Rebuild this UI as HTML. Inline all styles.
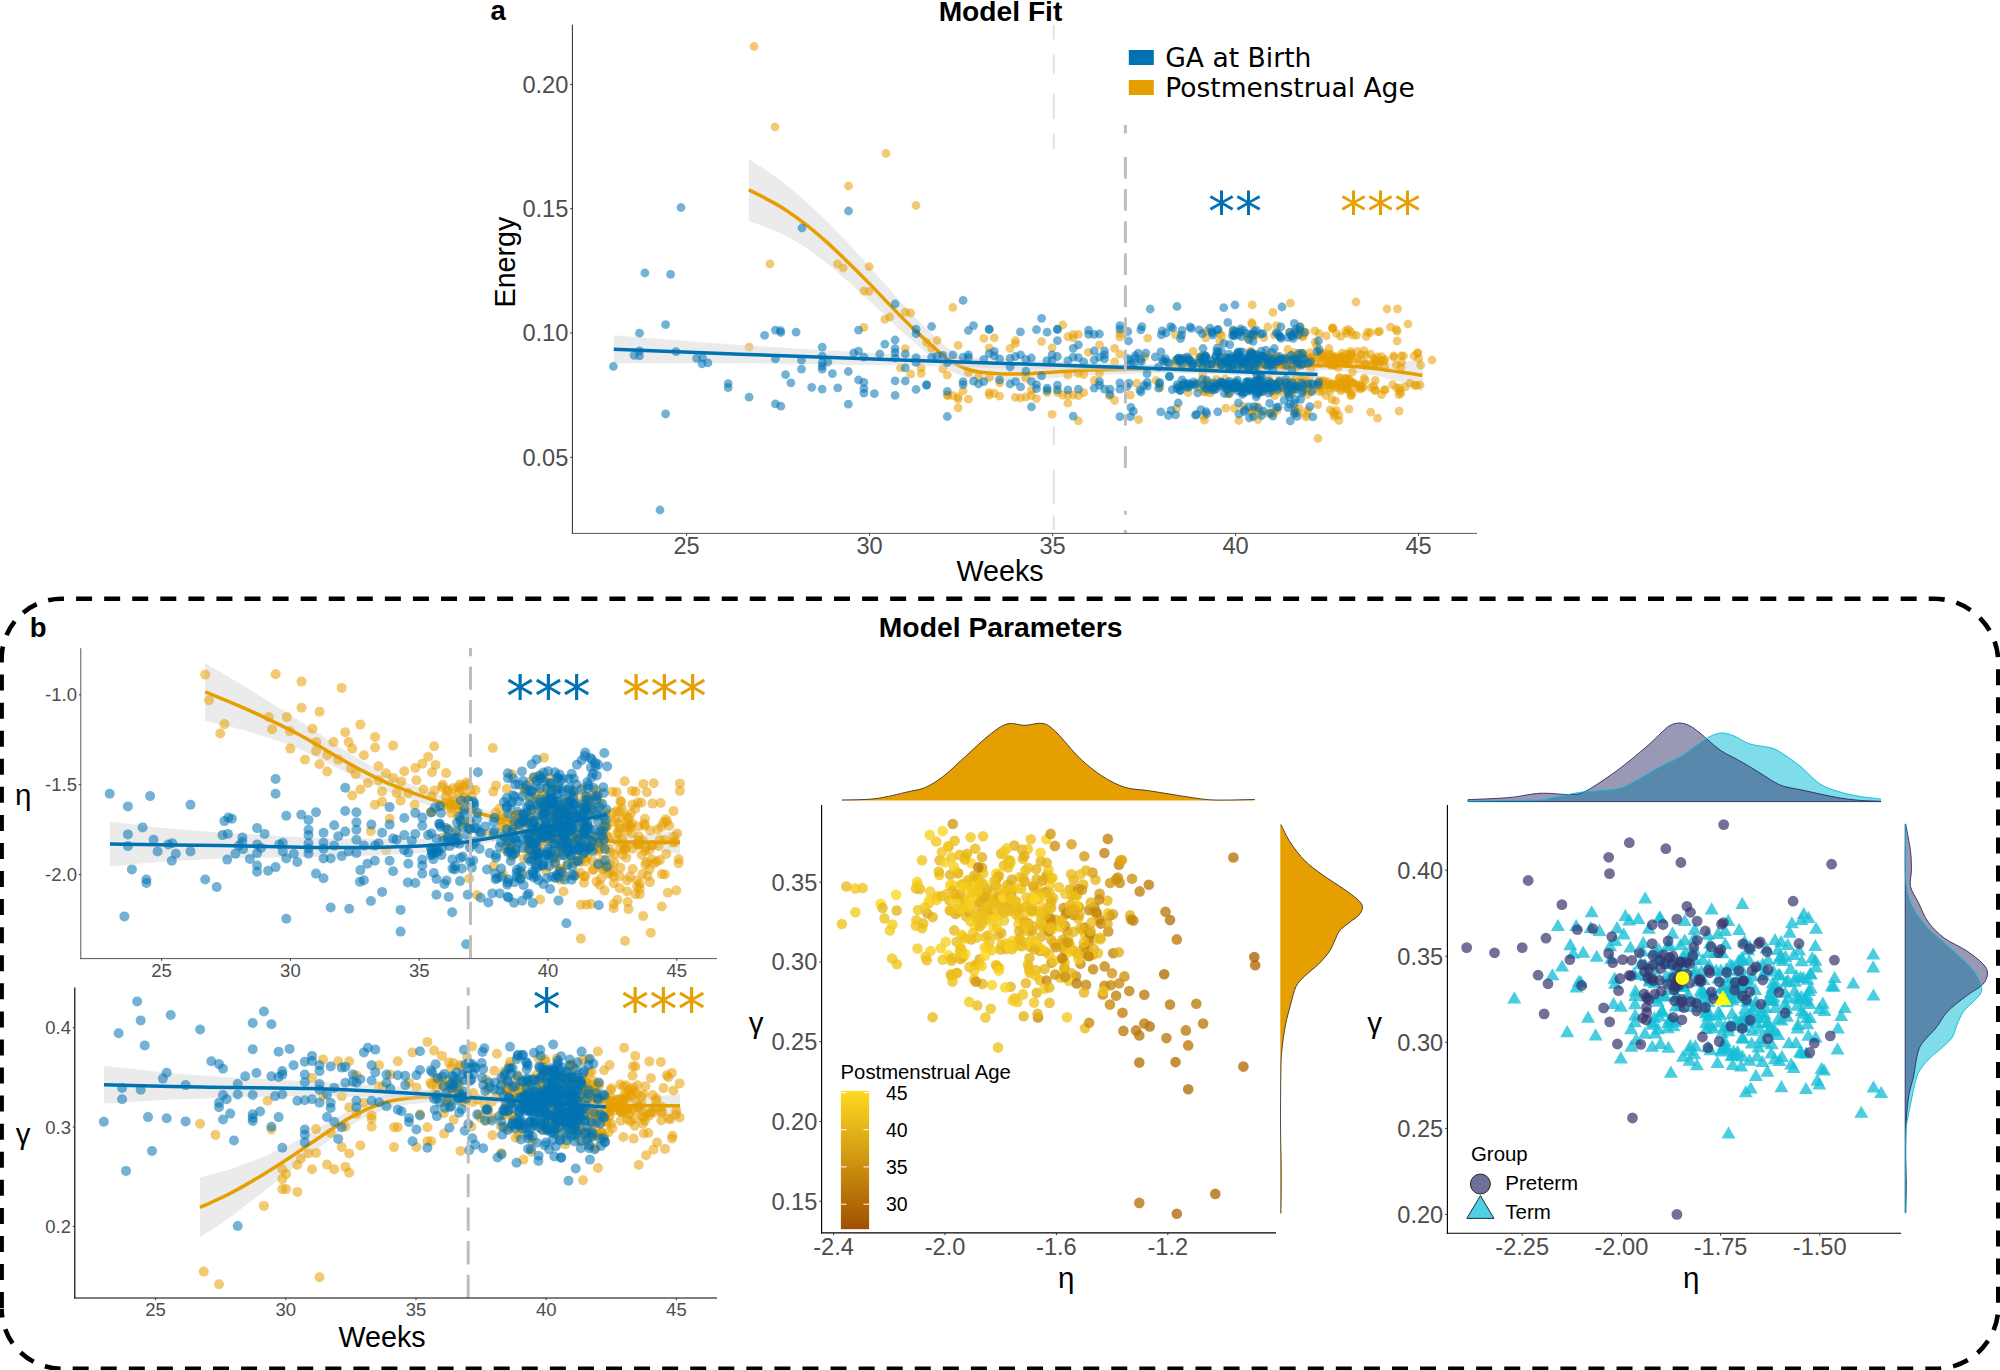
<!DOCTYPE html>
<html><head><meta charset="utf-8"><title>Model Fit and Model Parameters</title>
<style>
html,body{margin:0;padding:0;background:#fff;}
body{width:2000px;height:1370px;overflow:hidden;font-family:"Liberation Sans",sans-serif;}
svg{display:block;}
</style></head><body>
<svg width="2000" height="1370" viewBox="0 0 2000 1370">
<rect x="0" y="0" width="2000" height="1370" fill="#fff"/>
<g id="panel-a">
<text x="490.5" y="20.3" font-size="27.5" fill="#000" text-anchor="start" font-weight="bold" font-family="'Liberation Sans', sans-serif">a</text>
<text x="1000.5" y="21.0" font-size="28.2" fill="#000" text-anchor="middle" font-weight="bold" font-family="'Liberation Sans', sans-serif">Model Fit</text>
<path d="M748.8,158.9C750.7,160.1 756.4,163.8 760.2,166.3C764.0,168.8 767.8,171.4 771.6,174.1C775.4,176.7 779.2,179.2 783.1,182.2C786.9,185.1 790.7,188.5 794.5,191.8C798.3,195.0 802.1,198.1 805.9,201.5C809.7,204.9 813.5,208.6 817.3,212.2C821.1,215.8 824.9,219.3 828.7,223.1C832.5,226.9 836.3,231.0 840.1,235.0C844.0,238.9 847.8,242.9 851.6,247.0C855.4,251.0 859.2,255.2 863.0,259.4C866.8,263.6 870.6,267.8 874.4,272.0C878.2,276.3 882.0,280.8 885.8,285.1C889.6,289.4 893.4,293.7 897.2,297.9C901.0,302.1 904.9,306.3 908.7,310.4C912.5,314.4 916.3,318.4 920.1,322.2C923.9,326.0 927.7,329.7 931.5,333.3C935.3,336.9 939.1,340.7 942.9,343.9C946.7,347.2 950.5,350.3 954.3,352.9C958.1,355.4 961.9,357.5 965.8,359.3C969.6,361.0 973.4,362.2 977.2,363.2C981.0,364.1 984.8,364.5 988.6,365.1C992.4,365.6 996.2,366.0 1000.0,366.3C1003.8,366.7 1007.6,366.8 1011.4,366.9C1015.2,367.1 1019.0,367.3 1022.8,367.3C1026.7,367.4 1030.5,367.2 1034.3,367.1C1038.1,366.9 1041.9,366.8 1045.7,366.6C1049.5,366.5 1053.3,366.4 1057.1,366.2C1060.9,366.1 1064.7,365.9 1068.5,365.8C1072.3,365.7 1076.1,365.5 1079.9,365.4C1083.7,365.2 1087.6,365.1 1091.4,365.0C1095.2,364.9 1099.0,364.9 1102.8,364.9C1106.6,364.8 1110.4,364.8 1114.2,364.7C1118.0,364.7 1121.8,364.7 1125.6,364.6C1129.4,364.6 1133.2,364.5 1137.0,364.5C1140.8,364.4 1144.6,364.4 1148.5,364.4C1152.3,364.3 1156.1,364.3 1159.9,364.2C1163.7,364.2 1167.5,364.2 1171.3,364.1C1175.1,364.1 1178.9,364.0 1182.7,364.0C1186.5,363.9 1190.3,363.9 1194.1,363.9C1197.9,363.8 1201.7,363.7 1205.5,363.7C1209.4,363.6 1213.2,363.5 1217.0,363.4C1220.8,363.3 1224.6,363.2 1228.4,363.2C1232.2,363.1 1236.0,363.0 1239.8,362.9C1243.6,362.8 1247.4,362.7 1251.2,362.6C1255.0,362.6 1258.8,362.5 1262.6,362.4C1266.4,362.3 1270.3,362.2 1274.1,362.1C1277.9,362.1 1281.7,362.0 1285.5,361.9C1289.3,361.8 1293.1,361.8 1296.9,361.7C1300.7,361.6 1304.5,361.6 1308.3,361.5C1312.1,361.4 1315.9,361.3 1319.7,361.3C1323.5,361.2 1327.3,361.1 1331.2,361.1C1335.0,361.0 1338.8,361.1 1342.6,361.1C1346.4,361.2 1350.2,361.2 1354.0,361.3C1357.8,361.4 1361.6,361.4 1365.4,361.5C1369.2,361.6 1373.0,362.0 1376.8,362.1C1380.6,362.2 1384.4,362.2 1388.2,362.2C1392.1,362.2 1395.9,362.3 1399.7,362.0C1403.5,361.7 1407.3,361.0 1411.1,360.4C1414.9,359.9 1420.6,359.1 1422.5,358.8L1422.5,391.8C1420.6,391.0 1414.9,388.5 1411.1,386.8C1407.3,385.2 1403.5,383.3 1399.7,381.9C1395.9,380.5 1392.1,379.7 1388.2,378.7C1384.4,377.6 1380.6,376.5 1376.8,375.7C1373.0,374.9 1369.2,374.4 1365.4,373.9C1361.6,373.3 1357.8,372.9 1354.0,372.4C1350.2,371.9 1346.4,371.4 1342.6,371.0C1338.8,370.6 1335.0,370.2 1331.2,370.0C1327.3,369.9 1323.5,370.1 1319.7,370.2C1315.9,370.2 1312.1,370.2 1308.3,370.3C1304.5,370.3 1300.7,370.4 1296.9,370.4C1293.1,370.5 1289.3,370.5 1285.5,370.5C1281.7,370.6 1277.9,370.6 1274.1,370.7C1270.3,370.7 1266.4,370.8 1262.6,370.9C1258.8,370.9 1255.0,371.0 1251.2,371.0C1247.4,371.1 1243.6,371.1 1239.8,371.2C1236.0,371.3 1232.2,371.3 1228.4,371.4C1224.6,371.4 1220.8,371.5 1217.0,371.5C1213.2,371.6 1209.4,371.6 1205.5,371.7C1201.7,371.8 1197.9,371.9 1194.1,372.0C1190.3,372.1 1186.5,372.2 1182.7,372.3C1178.9,372.4 1175.1,372.5 1171.3,372.6C1167.5,372.7 1163.7,372.9 1159.9,373.0C1156.1,373.1 1152.3,373.2 1148.5,373.3C1144.6,373.4 1140.8,373.5 1137.0,373.6C1133.2,373.7 1129.4,373.9 1125.6,374.0C1121.8,374.1 1118.0,374.2 1114.2,374.3C1110.4,374.4 1106.6,374.5 1102.8,374.6C1099.0,374.7 1095.2,374.8 1091.4,375.0C1087.6,375.2 1083.7,375.5 1079.9,375.8C1076.1,376.1 1072.3,376.5 1068.5,376.8C1064.7,377.1 1060.9,377.4 1057.1,377.7C1053.3,378.0 1049.5,378.4 1045.7,378.7C1041.9,379.0 1038.1,379.3 1034.3,379.6C1030.5,379.9 1026.7,380.3 1022.8,380.5C1019.0,380.7 1015.2,380.8 1011.4,380.9C1007.6,380.9 1003.8,381.1 1000.0,381.0C996.2,381.0 992.4,380.8 988.6,380.5C984.8,380.3 981.0,380.2 977.2,379.7C973.4,379.2 969.6,378.5 965.8,377.3C961.9,376.2 958.1,374.6 954.3,372.7C950.5,370.8 946.7,368.5 942.9,365.9C939.1,363.3 935.3,360.1 931.5,357.0C927.7,354.0 923.9,350.8 920.1,347.6C916.3,344.3 912.5,341.0 908.7,337.6C904.9,334.2 901.0,330.7 897.2,327.2C893.4,323.7 889.6,320.0 885.8,316.4C882.0,312.8 878.2,309.1 874.4,305.5C870.6,301.9 866.8,298.4 863.0,295.0C859.2,291.5 855.4,288.0 851.6,284.6C847.8,281.2 844.0,278.0 840.1,274.7C836.3,271.4 832.5,268.0 828.7,264.9C824.9,261.8 821.1,259.0 817.3,256.1C813.5,253.2 809.7,250.0 805.9,247.4C802.1,244.9 798.3,243.0 794.5,240.8C790.7,238.7 786.9,236.3 783.1,234.4C779.2,232.5 775.4,231.1 771.6,229.5C767.8,228.0 764.0,226.5 760.2,225.0C756.4,223.6 750.7,221.6 748.8,220.9Z" fill="#D3D3D3" fill-opacity="0.45"/>
<g fill="#E69F00" fill-opacity="0.55"><circle cx="1311.2" cy="357.2" r="4.4"/><circle cx="1403.4" cy="355.9" r="4.4"/><circle cx="1394.0" cy="357.1" r="4.4"/><circle cx="1273.3" cy="412.7" r="4.4"/><circle cx="1288.1" cy="392.4" r="4.4"/><circle cx="1272.1" cy="383.1" r="4.4"/><circle cx="1348.4" cy="379.4" r="4.4"/><circle cx="1304.9" cy="376.7" r="4.4"/><circle cx="1360.7" cy="386.2" r="4.4"/><circle cx="1180.3" cy="359.8" r="4.4"/><circle cx="1417.7" cy="352.8" r="4.4"/><circle cx="1302.1" cy="379.2" r="4.4"/><circle cx="1356.1" cy="384.4" r="4.4"/><circle cx="1299.3" cy="408.7" r="4.4"/><circle cx="1282.4" cy="363.3" r="4.4"/><circle cx="1341.0" cy="383.3" r="4.4"/><circle cx="1366.1" cy="363.6" r="4.4"/><circle cx="1294.7" cy="412.8" r="4.4"/><circle cx="1298.2" cy="412.7" r="4.4"/><circle cx="1356.5" cy="335.3" r="4.4"/><circle cx="1248.3" cy="369.6" r="4.4"/><circle cx="1203.5" cy="416.0" r="4.4"/><circle cx="1336.3" cy="410.5" r="4.4"/><circle cx="1262.2" cy="386.3" r="4.4"/><circle cx="1175.3" cy="334.9" r="4.4"/><circle cx="1252.2" cy="304.9" r="4.4"/><circle cx="1276.3" cy="356.4" r="4.4"/><circle cx="1225.8" cy="408.1" r="4.4"/><circle cx="1205.0" cy="389.8" r="4.4"/><circle cx="1311.3" cy="359.6" r="4.4"/><circle cx="1371.2" cy="387.6" r="4.4"/><circle cx="1292.6" cy="390.2" r="4.4"/><circle cx="1257.1" cy="366.7" r="4.4"/><circle cx="1335.6" cy="386.5" r="4.4"/><circle cx="1358.7" cy="363.8" r="4.4"/><circle cx="1287.9" cy="349.5" r="4.4"/><circle cx="1346.7" cy="333.5" r="4.4"/><circle cx="1381.3" cy="360.7" r="4.4"/><circle cx="1294.4" cy="361.6" r="4.4"/><circle cx="1252.2" cy="324.2" r="4.4"/><circle cx="1333.0" cy="364.1" r="4.4"/><circle cx="1326.0" cy="360.4" r="4.4"/><circle cx="1385.2" cy="389.7" r="4.4"/><circle cx="1219.5" cy="333.7" r="4.4"/><circle cx="1262.8" cy="359.8" r="4.4"/><circle cx="1250.5" cy="354.5" r="4.4"/><circle cx="1188.2" cy="392.7" r="4.4"/><circle cx="1317.6" cy="386.1" r="4.4"/><circle cx="1345.5" cy="378.4" r="4.4"/><circle cx="1257.4" cy="388.4" r="4.4"/><circle cx="1405.2" cy="386.9" r="4.4"/><circle cx="1366.0" cy="363.9" r="4.4"/><circle cx="1352.4" cy="372.0" r="4.4"/><circle cx="1336.7" cy="360.2" r="4.4"/><circle cx="1375.3" cy="380.5" r="4.4"/><circle cx="1216.2" cy="361.9" r="4.4"/><circle cx="1351.5" cy="394.8" r="4.4"/><circle cx="1350.7" cy="331.8" r="4.4"/><circle cx="1185.9" cy="359.3" r="4.4"/><circle cx="1332.9" cy="328.4" r="4.4"/><circle cx="1291.4" cy="355.4" r="4.4"/><circle cx="1363.1" cy="387.3" r="4.4"/><circle cx="1278.3" cy="357.8" r="4.4"/><circle cx="1307.5" cy="394.5" r="4.4"/><circle cx="1332.6" cy="327.8" r="4.4"/><circle cx="1247.9" cy="358.8" r="4.4"/><circle cx="1350.4" cy="354.6" r="4.4"/><circle cx="1301.5" cy="354.7" r="4.4"/><circle cx="1343.0" cy="361.0" r="4.4"/><circle cx="1272.5" cy="386.7" r="4.4"/><circle cx="1384.3" cy="390.2" r="4.4"/><circle cx="1350.9" cy="395.8" r="4.4"/><circle cx="1296.4" cy="333.7" r="4.4"/><circle cx="1352.7" cy="359.0" r="4.4"/><circle cx="1396.4" cy="364.8" r="4.4"/><circle cx="1199.4" cy="382.7" r="4.4"/><circle cx="1370.2" cy="332.6" r="4.4"/><circle cx="1341.1" cy="383.9" r="4.4"/><circle cx="1302.3" cy="363.3" r="4.4"/><circle cx="1238.8" cy="420.5" r="4.4"/><circle cx="1396.2" cy="329.4" r="4.4"/><circle cx="1221.1" cy="356.8" r="4.4"/><circle cx="1348.2" cy="360.2" r="4.4"/><circle cx="1399.3" cy="388.0" r="4.4"/><circle cx="1197.6" cy="387.3" r="4.4"/><circle cx="1287.8" cy="360.3" r="4.4"/><circle cx="1217.8" cy="362.1" r="4.4"/><circle cx="1325.8" cy="395.5" r="4.4"/><circle cx="1414.1" cy="356.0" r="4.4"/><circle cx="1185.1" cy="366.7" r="4.4"/><circle cx="1268.8" cy="413.7" r="4.4"/><circle cx="1357.7" cy="387.5" r="4.4"/><circle cx="1418.6" cy="358.4" r="4.4"/><circle cx="1338.1" cy="367.3" r="4.4"/><circle cx="1256.9" cy="406.4" r="4.4"/><circle cx="1329.5" cy="356.6" r="4.4"/><circle cx="1307.6" cy="382.4" r="4.4"/><circle cx="1294.6" cy="380.0" r="4.4"/><circle cx="1257.7" cy="389.8" r="4.4"/><circle cx="1335.7" cy="400.8" r="4.4"/><circle cx="1330.2" cy="384.4" r="4.4"/><circle cx="1302.3" cy="353.5" r="4.4"/><circle cx="1293.4" cy="380.5" r="4.4"/><circle cx="1219.4" cy="362.2" r="4.4"/><circle cx="1275.0" cy="386.4" r="4.4"/><circle cx="1392.7" cy="384.6" r="4.4"/><circle cx="1295.5" cy="368.2" r="4.4"/><circle cx="1208.7" cy="389.1" r="4.4"/><circle cx="1401.6" cy="362.6" r="4.4"/><circle cx="1345.7" cy="378.5" r="4.4"/><circle cx="1313.1" cy="389.1" r="4.4"/><circle cx="1276.7" cy="325.6" r="4.4"/><circle cx="1208.1" cy="385.9" r="4.4"/><circle cx="1400.9" cy="367.5" r="4.4"/><circle cx="1251.7" cy="322.5" r="4.4"/><circle cx="1263.8" cy="337.6" r="4.4"/><circle cx="1350.3" cy="356.7" r="4.4"/><circle cx="1251.1" cy="351.5" r="4.4"/><circle cx="1290.0" cy="362.1" r="4.4"/><circle cx="1284.5" cy="365.4" r="4.4"/><circle cx="1322.1" cy="381.0" r="4.4"/><circle cx="1384.9" cy="359.3" r="4.4"/><circle cx="1310.3" cy="391.7" r="4.4"/><circle cx="1372.7" cy="364.7" r="4.4"/><circle cx="1279.6" cy="387.8" r="4.4"/><circle cx="1331.6" cy="355.0" r="4.4"/><circle cx="1160.1" cy="387.3" r="4.4"/><circle cx="1208.0" cy="382.9" r="4.4"/><circle cx="1364.1" cy="378.1" r="4.4"/><circle cx="1267.8" cy="327.0" r="4.4"/><circle cx="1349.1" cy="379.2" r="4.4"/><circle cx="1346.5" cy="353.8" r="4.4"/><circle cx="1400.8" cy="393.5" r="4.4"/><circle cx="1365.3" cy="380.2" r="4.4"/><circle cx="1379.5" cy="331.4" r="4.4"/><circle cx="1301.0" cy="333.6" r="4.4"/><circle cx="1260.2" cy="391.1" r="4.4"/><circle cx="1257.9" cy="419.6" r="4.4"/><circle cx="1274.9" cy="391.2" r="4.4"/><circle cx="1230.2" cy="359.7" r="4.4"/><circle cx="1270.7" cy="391.5" r="4.4"/><circle cx="1302.4" cy="336.9" r="4.4"/><circle cx="1326.3" cy="335.9" r="4.4"/><circle cx="1285.2" cy="382.8" r="4.4"/><circle cx="1175.0" cy="361.0" r="4.4"/><circle cx="1303.8" cy="386.6" r="4.4"/><circle cx="1324.5" cy="353.3" r="4.4"/><circle cx="1384.2" cy="361.1" r="4.4"/><circle cx="1349.0" cy="409.2" r="4.4"/><circle cx="1264.0" cy="364.6" r="4.4"/><circle cx="1258.5" cy="358.0" r="4.4"/><circle cx="1361.4" cy="385.4" r="4.4"/><circle cx="1251.9" cy="411.2" r="4.4"/><circle cx="1335.6" cy="361.8" r="4.4"/><circle cx="1340.7" cy="390.8" r="4.4"/><circle cx="1347.7" cy="361.0" r="4.4"/><circle cx="1346.5" cy="361.8" r="4.4"/><circle cx="1322.9" cy="354.7" r="4.4"/><circle cx="1320.9" cy="355.3" r="4.4"/><circle cx="1204.3" cy="391.6" r="4.4"/><circle cx="1297.3" cy="356.6" r="4.4"/><circle cx="1256.8" cy="361.9" r="4.4"/><circle cx="1317.6" cy="383.8" r="4.4"/><circle cx="1276.3" cy="388.2" r="4.4"/><circle cx="1351.8" cy="392.9" r="4.4"/><circle cx="1365.8" cy="354.8" r="4.4"/><circle cx="1330.3" cy="409.9" r="4.4"/><circle cx="1330.8" cy="365.4" r="4.4"/><circle cx="1315.3" cy="341.9" r="4.4"/><circle cx="1277.7" cy="388.5" r="4.4"/><circle cx="1297.4" cy="365.2" r="4.4"/><circle cx="1274.3" cy="361.3" r="4.4"/><circle cx="1335.8" cy="356.7" r="4.4"/><circle cx="1309.8" cy="352.7" r="4.4"/><circle cx="1349.2" cy="361.3" r="4.4"/><circle cx="1216.4" cy="379.4" r="4.4"/><circle cx="1370.5" cy="354.1" r="4.4"/><circle cx="1255.8" cy="335.1" r="4.4"/><circle cx="1257.7" cy="367.5" r="4.4"/><circle cx="1295.1" cy="408.0" r="4.4"/><circle cx="1269.6" cy="356.7" r="4.4"/><circle cx="1329.0" cy="348.5" r="4.4"/><circle cx="1268.9" cy="379.2" r="4.4"/><circle cx="1234.4" cy="408.3" r="4.4"/><circle cx="1250.0" cy="351.6" r="4.4"/><circle cx="1400.0" cy="390.9" r="4.4"/><circle cx="1311.9" cy="358.7" r="4.4"/><circle cx="1227.6" cy="360.9" r="4.4"/><circle cx="1309.4" cy="377.7" r="4.4"/><circle cx="1200.6" cy="356.9" r="4.4"/><circle cx="1202.8" cy="374.0" r="4.4"/><circle cx="1342.1" cy="353.1" r="4.4"/><circle cx="1346.6" cy="363.9" r="4.4"/><circle cx="1208.0" cy="382.2" r="4.4"/><circle cx="1329.7" cy="388.2" r="4.4"/><circle cx="1378.1" cy="331.8" r="4.4"/><circle cx="1341.3" cy="356.5" r="4.4"/><circle cx="1327.0" cy="385.0" r="4.4"/><circle cx="1374.8" cy="390.4" r="4.4"/><circle cx="1320.0" cy="352.9" r="4.4"/><circle cx="1332.2" cy="384.0" r="4.4"/><circle cx="1300.0" cy="359.6" r="4.4"/><circle cx="1352.7" cy="382.5" r="4.4"/><circle cx="1243.3" cy="388.4" r="4.4"/><circle cx="1363.9" cy="350.6" r="4.4"/><circle cx="1273.7" cy="358.5" r="4.4"/><circle cx="1233.0" cy="331.2" r="4.4"/><circle cx="1334.2" cy="384.2" r="4.4"/><circle cx="1375.7" cy="390.2" r="4.4"/><circle cx="1272.9" cy="312.4" r="4.4"/><circle cx="1357.3" cy="358.5" r="4.4"/><circle cx="1277.2" cy="410.3" r="4.4"/><circle cx="1300.2" cy="326.6" r="4.4"/><circle cx="1315.0" cy="330.8" r="4.4"/><circle cx="1147.7" cy="338.1" r="4.4"/><circle cx="1322.1" cy="357.0" r="4.4"/><circle cx="1237.2" cy="355.6" r="4.4"/><circle cx="1260.3" cy="381.1" r="4.4"/><circle cx="1206.3" cy="331.3" r="4.4"/><circle cx="1203.3" cy="365.3" r="4.4"/><circle cx="1243.2" cy="406.5" r="4.4"/><circle cx="1366.2" cy="336.4" r="4.4"/><circle cx="1307.0" cy="356.8" r="4.4"/><circle cx="1384.7" cy="366.9" r="4.4"/><circle cx="1290.4" cy="303.2" r="4.4"/><circle cx="1175.8" cy="363.2" r="4.4"/><circle cx="1319.2" cy="380.7" r="4.4"/><circle cx="1339.8" cy="377.5" r="4.4"/><circle cx="1279.0" cy="380.3" r="4.4"/><circle cx="1329.8" cy="391.4" r="4.4"/><circle cx="1348.6" cy="390.3" r="4.4"/><circle cx="1248.8" cy="337.0" r="4.4"/><circle cx="1206.1" cy="382.7" r="4.4"/><circle cx="1293.4" cy="384.2" r="4.4"/><circle cx="1294.1" cy="358.8" r="4.4"/><circle cx="1284.3" cy="358.1" r="4.4"/><circle cx="1377.5" cy="356.8" r="4.4"/><circle cx="1279.8" cy="382.8" r="4.4"/><circle cx="1357.4" cy="351.5" r="4.4"/><circle cx="1374.2" cy="359.8" r="4.4"/><circle cx="1358.4" cy="384.9" r="4.4"/><circle cx="1381.6" cy="394.6" r="4.4"/><circle cx="1281.7" cy="392.1" r="4.4"/><circle cx="1360.2" cy="389.2" r="4.4"/><circle cx="1364.7" cy="365.1" r="4.4"/><circle cx="1265.7" cy="358.5" r="4.4"/><circle cx="1351.1" cy="354.6" r="4.4"/><circle cx="1396.6" cy="388.0" r="4.4"/><circle cx="1334.5" cy="414.3" r="4.4"/><circle cx="1269.6" cy="362.0" r="4.4"/><circle cx="1416.1" cy="385.3" r="4.4"/><circle cx="1221.9" cy="335.5" r="4.4"/><circle cx="1343.8" cy="357.6" r="4.4"/><circle cx="1307.7" cy="410.6" r="4.4"/><circle cx="1225.8" cy="357.9" r="4.4"/><circle cx="1393.6" cy="356.0" r="4.4"/><circle cx="1333.0" cy="411.9" r="4.4"/><circle cx="1227.7" cy="385.3" r="4.4"/><circle cx="1350.6" cy="351.3" r="4.4"/><circle cx="1278.8" cy="386.2" r="4.4"/><circle cx="1176.5" cy="408.3" r="4.4"/><circle cx="1260.9" cy="411.8" r="4.4"/><circle cx="1327.1" cy="361.8" r="4.4"/><circle cx="1353.0" cy="335.2" r="4.4"/><circle cx="1320.3" cy="363.5" r="4.4"/><circle cx="1311.9" cy="359.5" r="4.4"/><circle cx="1341.5" cy="388.8" r="4.4"/><circle cx="1294.1" cy="388.0" r="4.4"/><circle cx="1390.6" cy="327.2" r="4.4"/><circle cx="1319.1" cy="333.6" r="4.4"/><circle cx="1329.2" cy="354.2" r="4.4"/><circle cx="1346.4" cy="384.7" r="4.4"/><circle cx="1235.3" cy="381.9" r="4.4"/><circle cx="1259.5" cy="362.5" r="4.4"/><circle cx="1415.1" cy="385.3" r="4.4"/><circle cx="1332.1" cy="399.6" r="4.4"/><circle cx="1289.1" cy="382.1" r="4.4"/><circle cx="1332.5" cy="328.3" r="4.4"/><circle cx="1275.3" cy="384.9" r="4.4"/><circle cx="1328.2" cy="381.9" r="4.4"/><circle cx="1262.5" cy="391.5" r="4.4"/><circle cx="1328.0" cy="363.6" r="4.4"/><circle cx="1199.1" cy="357.6" r="4.4"/><circle cx="1401.4" cy="355.8" r="4.4"/><circle cx="1273.1" cy="361.6" r="4.4"/><circle cx="1198.8" cy="360.5" r="4.4"/><circle cx="1293.2" cy="387.7" r="4.4"/><circle cx="1283.0" cy="386.9" r="4.4"/><circle cx="1319.4" cy="391.7" r="4.4"/><circle cx="1229.2" cy="392.8" r="4.4"/><circle cx="1336.4" cy="333.4" r="4.4"/><circle cx="1219.9" cy="341.3" r="4.4"/><circle cx="1332.3" cy="364.3" r="4.4"/><circle cx="1287.2" cy="389.1" r="4.4"/><circle cx="1322.2" cy="391.0" r="4.4"/><circle cx="1182.8" cy="384.9" r="4.4"/><circle cx="1228.8" cy="388.1" r="4.4"/><circle cx="1340.8" cy="386.4" r="4.4"/><circle cx="1306.1" cy="416.9" r="4.4"/><circle cx="1259.8" cy="389.5" r="4.4"/><circle cx="1320.9" cy="383.6" r="4.4"/><circle cx="1255.6" cy="410.4" r="4.4"/><circle cx="1245.9" cy="388.3" r="4.4"/><circle cx="1306.4" cy="384.3" r="4.4"/><circle cx="1305.7" cy="332.2" r="4.4"/><circle cx="1367.5" cy="332.4" r="4.4"/><circle cx="1317.8" cy="404.6" r="4.4"/><circle cx="1256.2" cy="361.6" r="4.4"/><circle cx="1323.5" cy="357.7" r="4.4"/><circle cx="1397.2" cy="331.1" r="4.4"/><circle cx="1298.9" cy="387.2" r="4.4"/><circle cx="1247.9" cy="338.6" r="4.4"/><circle cx="1352.1" cy="382.8" r="4.4"/><circle cx="1296.8" cy="358.5" r="4.4"/><circle cx="1373.6" cy="385.9" r="4.4"/><circle cx="1370.7" cy="412.1" r="4.4"/><circle cx="1321.8" cy="386.0" r="4.4"/><circle cx="1306.0" cy="364.0" r="4.4"/><circle cx="1332.5" cy="384.7" r="4.4"/><circle cx="1398.9" cy="394.6" r="4.4"/><circle cx="1346.0" cy="386.3" r="4.4"/><circle cx="1284.4" cy="366.9" r="4.4"/><circle cx="1397.5" cy="308.8" r="4.4"/><circle cx="1322.2" cy="382.8" r="4.4"/><circle cx="1303.4" cy="387.4" r="4.4"/><circle cx="1253.8" cy="335.5" r="4.4"/><circle cx="1269.4" cy="357.4" r="4.4"/><circle cx="1264.6" cy="387.4" r="4.4"/><circle cx="1379.5" cy="361.8" r="4.4"/><circle cx="1348.2" cy="388.0" r="4.4"/><circle cx="1293.9" cy="352.7" r="4.4"/><circle cx="1381.5" cy="356.7" r="4.4"/><circle cx="1339.3" cy="357.6" r="4.4"/><circle cx="1334.6" cy="365.5" r="4.4"/><circle cx="1136.7" cy="383.3" r="4.4"/><circle cx="1292.6" cy="392.3" r="4.4"/><circle cx="1345.8" cy="331.0" r="4.4"/><circle cx="1420.7" cy="365.1" r="4.4"/><circle cx="1408.0" cy="324.0" r="4.4"/><circle cx="1228.0" cy="394.2" r="4.4"/><circle cx="1156.0" cy="380.5" r="4.4"/><circle cx="1348.5" cy="329.5" r="4.4"/><circle cx="1310.7" cy="368.3" r="4.4"/><circle cx="1375.7" cy="361.0" r="4.4"/><circle cx="1300.0" cy="353.1" r="4.4"/><circle cx="1324.1" cy="380.9" r="4.4"/><circle cx="1204.5" cy="420.2" r="4.4"/><circle cx="1340.0" cy="362.3" r="4.4"/><circle cx="1277.9" cy="365.4" r="4.4"/><circle cx="1333.1" cy="364.7" r="4.4"/><circle cx="1340.7" cy="336.3" r="4.4"/><circle cx="1300.6" cy="377.5" r="4.4"/><circle cx="1330.8" cy="359.3" r="4.4"/><circle cx="1307.9" cy="387.3" r="4.4"/><circle cx="1361.6" cy="387.8" r="4.4"/><circle cx="1343.7" cy="356.8" r="4.4"/><circle cx="1270.7" cy="383.0" r="4.4"/><circle cx="1267.9" cy="364.2" r="4.4"/><circle cx="1301.7" cy="379.3" r="4.4"/><circle cx="1377.8" cy="365.0" r="4.4"/><circle cx="1336.2" cy="387.6" r="4.4"/><circle cx="1269.6" cy="384.1" r="4.4"/><circle cx="1256.7" cy="378.2" r="4.4"/><circle cx="1317.2" cy="361.5" r="4.4"/><circle cx="1326.6" cy="384.9" r="4.4"/><circle cx="1351.5" cy="353.8" r="4.4"/><circle cx="1220.7" cy="383.3" r="4.4"/><circle cx="1267.4" cy="354.6" r="4.4"/><circle cx="1302.2" cy="355.0" r="4.4"/><circle cx="1420.1" cy="385.0" r="4.4"/><circle cx="1144.7" cy="356.9" r="4.4"/><circle cx="1339.3" cy="381.9" r="4.4"/><circle cx="1271.2" cy="360.0" r="4.4"/><circle cx="1338.8" cy="378.7" r="4.4"/><circle cx="1274.6" cy="395.6" r="4.4"/><circle cx="1334.2" cy="416.7" r="4.4"/><circle cx="1417.6" cy="353.1" r="4.4"/><circle cx="1333.4" cy="357.9" r="4.4"/><circle cx="1338.9" cy="415.4" r="4.4"/><circle cx="1334.7" cy="358.1" r="4.4"/><circle cx="1256.6" cy="354.8" r="4.4"/><circle cx="1346.6" cy="388.9" r="4.4"/><circle cx="1294.3" cy="356.3" r="4.4"/><circle cx="1252.4" cy="412.9" r="4.4"/><circle cx="1306.1" cy="386.8" r="4.4"/><circle cx="1293.0" cy="386.6" r="4.4"/><circle cx="1361.2" cy="354.7" r="4.4"/><circle cx="1305.8" cy="391.5" r="4.4"/><circle cx="1272.0" cy="414.1" r="4.4"/><circle cx="1410.0" cy="383.1" r="4.4"/><circle cx="1377.5" cy="418.1" r="4.4"/><circle cx="1397.1" cy="340.8" r="4.4"/><circle cx="1351.1" cy="383.6" r="4.4"/><circle cx="1301.2" cy="386.2" r="4.4"/><circle cx="1279.7" cy="360.6" r="4.4"/><circle cx="1289.4" cy="332.6" r="4.4"/><circle cx="1374.7" cy="364.5" r="4.4"/><circle cx="1316.6" cy="346.1" r="4.4"/><circle cx="1205.7" cy="337.9" r="4.4"/><circle cx="1306.1" cy="414.4" r="4.4"/><circle cx="1210.3" cy="393.0" r="4.4"/><circle cx="1320.3" cy="388.2" r="4.4"/><circle cx="1225.1" cy="379.0" r="4.4"/><circle cx="1220.9" cy="386.2" r="4.4"/><circle cx="1317.0" cy="357.1" r="4.4"/><circle cx="1303.4" cy="335.6" r="4.4"/><circle cx="1193.2" cy="351.3" r="4.4"/><circle cx="1360.8" cy="359.1" r="4.4"/><circle cx="1205.8" cy="392.1" r="4.4"/><circle cx="1261.0" cy="356.3" r="4.4"/><circle cx="1274.4" cy="335.0" r="4.4"/><circle cx="1296.4" cy="357.0" r="4.4"/><circle cx="1208.3" cy="359.2" r="4.4"/><circle cx="1399.1" cy="411.1" r="4.4"/><circle cx="1343.1" cy="359.3" r="4.4"/><circle cx="1256.5" cy="364.2" r="4.4"/><circle cx="1289.5" cy="367.0" r="4.4"/><circle cx="1203.4" cy="355.3" r="4.4"/><circle cx="1284.6" cy="360.5" r="4.4"/><circle cx="1373.9" cy="358.6" r="4.4"/><circle cx="952.9" cy="307.5" r="4.4"/><circle cx="1062.7" cy="325.0" r="4.4"/><circle cx="983.8" cy="338.4" r="4.4"/><circle cx="994.3" cy="337.8" r="4.4"/><circle cx="1015.4" cy="340.7" r="4.4"/><circle cx="1015.4" cy="343.7" r="4.4"/><circle cx="1041.6" cy="341.6" r="4.4"/><circle cx="1067.9" cy="336.7" r="4.4"/><circle cx="1073.2" cy="334.3" r="4.4"/><circle cx="1078.4" cy="334.3" r="4.4"/><circle cx="1073.2" cy="337.8" r="4.4"/><circle cx="1119.9" cy="337.2" r="4.4"/><circle cx="1119.9" cy="333.7" r="4.4"/><circle cx="958.1" cy="345.4" r="4.4"/><circle cx="989.2" cy="347.8" r="4.4"/><circle cx="1010.1" cy="348.3" r="4.4"/><circle cx="1052.1" cy="347.8" r="4.4"/><circle cx="1099.5" cy="344.8" r="4.4"/><circle cx="1088.4" cy="352.4" r="4.4"/><circle cx="1114.6" cy="348.3" r="4.4"/><circle cx="1119.9" cy="354.2" r="4.4"/><circle cx="1114.6" cy="361.8" r="4.4"/><circle cx="968.4" cy="372.3" r="4.4"/><circle cx="978.6" cy="377.0" r="4.4"/><circle cx="989.2" cy="377.5" r="4.4"/><circle cx="1025.9" cy="378.1" r="4.4"/><circle cx="1067.9" cy="375.2" r="4.4"/><circle cx="1078.4" cy="373.5" r="4.4"/><circle cx="1083.7" cy="374.6" r="4.4"/><circle cx="1099.5" cy="373.5" r="4.4"/><circle cx="1094.2" cy="380.5" r="4.4"/><circle cx="947.6" cy="395.7" r="4.4"/><circle cx="952.9" cy="395.7" r="4.4"/><circle cx="958.1" cy="396.8" r="4.4"/><circle cx="958.1" cy="399.2" r="4.4"/><circle cx="963.1" cy="391.0" r="4.4"/><circle cx="968.4" cy="399.2" r="4.4"/><circle cx="958.1" cy="407.9" r="4.4"/><circle cx="989.2" cy="392.7" r="4.4"/><circle cx="989.2" cy="395.1" r="4.4"/><circle cx="994.3" cy="393.3" r="4.4"/><circle cx="999.6" cy="396.2" r="4.4"/><circle cx="999.6" cy="382.8" r="4.4"/><circle cx="1015.4" cy="397.4" r="4.4"/><circle cx="1020.6" cy="398.0" r="4.4"/><circle cx="1025.9" cy="396.8" r="4.4"/><circle cx="1031.4" cy="390.4" r="4.4"/><circle cx="1031.4" cy="395.7" r="4.4"/><circle cx="1036.5" cy="398.6" r="4.4"/><circle cx="1047.1" cy="392.7" r="4.4"/><circle cx="1057.4" cy="392.7" r="4.4"/><circle cx="1062.7" cy="395.1" r="4.4"/><circle cx="1067.9" cy="395.1" r="4.4"/><circle cx="1073.2" cy="395.1" r="4.4"/><circle cx="1078.4" cy="395.7" r="4.4"/><circle cx="1083.7" cy="392.7" r="4.4"/><circle cx="1067.9" cy="403.2" r="4.4"/><circle cx="1114.6" cy="400.3" r="4.4"/><circle cx="1052.1" cy="414.3" r="4.4"/><circle cx="1078.4" cy="420.8" r="4.4"/><circle cx="1138.6" cy="419.6" r="4.4"/><circle cx="1109.4" cy="395.7" r="4.4"/><circle cx="1130.4" cy="395.1" r="4.4"/><circle cx="754.0" cy="46.5" r="4.4"/><circle cx="775.0" cy="127.0" r="4.4"/><circle cx="886.0" cy="153.5" r="4.4"/><circle cx="848.5" cy="186.0" r="4.4"/><circle cx="916.0" cy="205.5" r="4.4"/><circle cx="770.0" cy="263.9" r="4.4"/><circle cx="837.5" cy="264.0" r="4.4"/><circle cx="843.2" cy="268.0" r="4.4"/><circle cx="869.2" cy="266.6" r="4.4"/><circle cx="863.9" cy="291.0" r="4.4"/><circle cx="869.0" cy="291.4" r="4.4"/><circle cx="863.9" cy="327.4" r="4.4"/><circle cx="884.8" cy="319.3" r="4.4"/><circle cx="889.7" cy="317.0" r="4.4"/><circle cx="905.3" cy="312.1" r="4.4"/><circle cx="910.7" cy="313.0" r="4.4"/><circle cx="749.1" cy="347.2" r="4.4"/><circle cx="905.3" cy="348.6" r="4.4"/><circle cx="900.5" cy="367.9" r="4.4"/><circle cx="910.7" cy="374.2" r="4.4"/><circle cx="921.2" cy="367.9" r="4.4"/><circle cx="921.2" cy="373.3" r="4.4"/><circle cx="926.6" cy="342.7" r="4.4"/><circle cx="937.0" cy="340.5" r="4.4"/><circle cx="931.6" cy="348.1" r="4.4"/><circle cx="942.8" cy="368.8" r="4.4"/><circle cx="947.3" cy="375.1" r="4.4"/><circle cx="947.3" cy="394.9" r="4.4"/><circle cx="1356.0" cy="302.0" r="4.4"/><circle cx="1387.0" cy="309.0" r="4.4"/><circle cx="1432.0" cy="360.0" r="4.4"/><circle cx="1318.0" cy="438.5" r="4.4"/><circle cx="1339.0" cy="420.5" r="4.4"/></g>
<path d="M748.8,189.9C751.7,191.3 760.2,195.5 766.0,198.6C771.8,201.7 777.2,204.4 783.8,208.7C790.4,213.0 798.4,218.6 805.7,224.3C813.0,230.0 820.3,236.3 827.6,242.9C834.9,249.5 842.2,256.6 849.5,263.7C856.8,270.8 864.1,278.1 871.4,285.6C878.7,293.1 886.0,301.1 893.3,308.6C900.6,316.1 907.9,323.6 915.2,330.5C922.5,337.4 931.6,345.4 937.1,350.2C942.6,354.9 944.4,356.4 948.0,359.0C951.6,361.6 955.3,363.8 959.0,365.6C962.7,367.4 966.3,368.9 970.0,370.0C973.7,371.1 975.5,371.6 981.0,372.2C986.5,372.8 995.5,373.6 1002.8,373.9C1010.1,374.2 1017.4,374.1 1024.7,373.9C1032.0,373.7 1035.7,373.2 1046.6,372.6C1057.5,372.0 1072.8,370.6 1090.0,370.0C1107.2,369.4 1131.7,369.2 1150.0,368.8C1168.3,368.4 1178.3,368.2 1200.0,367.8C1221.7,367.4 1257.5,366.7 1280.0,366.3C1302.5,365.9 1320.0,365.2 1335.0,365.5C1350.0,365.8 1359.2,366.9 1370.0,368.0C1380.8,369.1 1391.2,370.8 1400.0,372.0C1408.8,373.2 1418.8,374.8 1422.5,375.3" fill="none" stroke="#E69F00" stroke-width="3.5"/>
<path d="M613.8,335.3C615.8,335.5 621.8,335.9 625.7,336.2C629.7,336.6 633.7,336.9 637.7,337.2C641.6,337.5 645.6,337.8 649.6,338.1C653.6,338.5 657.5,338.8 661.5,339.1C665.5,339.4 669.5,339.7 673.4,340.0C677.4,340.4 681.4,340.7 685.4,341.0C689.3,341.3 693.3,341.6 697.3,341.9C701.3,342.2 705.2,342.5 709.2,342.8C713.2,343.1 717.2,343.3 721.1,343.6C725.1,343.9 729.1,344.2 733.1,344.4C737.0,344.7 741.0,345.0 745.0,345.2C749.0,345.5 752.9,345.8 756.9,346.0C760.9,346.3 764.9,346.5 768.9,346.8C772.8,347.1 776.8,347.3 780.8,347.6C784.8,347.9 788.7,348.1 792.7,348.4C796.7,348.6 800.7,348.9 804.6,349.1C808.6,349.4 812.6,349.6 816.6,349.8C820.5,350.0 824.5,350.3 828.5,350.5C832.5,350.7 836.4,350.9 840.4,351.1C844.4,351.4 848.4,351.6 852.3,351.8C856.3,352.0 860.3,352.3 864.3,352.5C868.2,352.7 872.2,352.9 876.2,353.2C880.2,353.4 884.1,353.6 888.1,353.8C892.1,354.1 896.1,354.3 900.1,354.5C904.0,354.7 908.0,354.8 912.0,355.0C916.0,355.2 919.9,355.4 923.9,355.5C927.9,355.7 931.9,355.9 935.8,356.0C939.8,356.2 943.8,356.4 947.8,356.6C951.7,356.7 955.7,356.9 959.7,357.1C963.7,357.2 967.6,357.4 971.6,357.6C975.6,357.8 979.6,357.9 983.5,358.1C987.5,358.3 991.5,358.5 995.5,358.6C999.4,358.8 1003.4,359.0 1007.4,359.1C1011.4,359.3 1015.3,359.4 1019.3,359.6C1023.3,359.8 1027.3,359.9 1031.2,360.1C1035.2,360.2 1039.2,360.4 1043.2,360.5C1047.2,360.7 1051.1,360.9 1055.1,361.0C1059.1,361.2 1063.1,361.3 1067.0,361.5C1071.0,361.7 1075.0,361.8 1079.0,362.0C1082.9,362.1 1086.9,362.3 1090.9,362.5C1094.9,362.6 1098.8,362.8 1102.8,363.0C1106.8,363.1 1110.8,363.3 1114.7,363.4C1118.7,363.6 1122.7,363.7 1126.7,363.9C1130.6,364.0 1134.6,364.2 1138.6,364.3C1142.6,364.5 1146.5,364.6 1150.5,364.8C1154.5,365.0 1158.5,365.1 1162.4,365.3C1166.4,365.4 1170.4,365.6 1174.4,365.7C1178.4,365.9 1182.3,366.0 1186.3,366.2C1190.3,366.3 1194.3,366.5 1198.2,366.6C1202.2,366.8 1206.2,366.9 1210.2,367.0C1214.1,367.1 1218.1,367.2 1222.1,367.4C1226.1,367.5 1230.0,367.6 1234.0,367.7C1238.0,367.9 1242.0,368.0 1245.9,368.1C1249.9,368.2 1253.9,368.3 1257.9,368.5C1261.8,368.6 1265.8,368.7 1269.8,368.8C1273.8,368.9 1277.7,369.1 1281.7,369.1C1285.7,369.2 1289.7,369.2 1293.6,369.3C1297.6,369.3 1301.6,369.3 1305.6,369.4C1309.5,369.4 1315.5,369.5 1317.5,369.5L1317.5,379.5C1315.5,379.4 1309.5,379.0 1305.6,378.7C1301.6,378.5 1297.6,378.2 1293.6,378.0C1289.7,377.7 1285.7,377.5 1281.7,377.2C1277.7,377.0 1273.8,376.9 1269.8,376.7C1265.8,376.5 1261.8,376.3 1257.9,376.2C1253.9,376.0 1249.9,375.8 1245.9,375.7C1242.0,375.5 1238.0,375.3 1234.0,375.2C1230.0,375.0 1226.1,374.8 1222.1,374.6C1218.1,374.5 1214.1,374.3 1210.2,374.1C1206.2,374.0 1202.2,373.8 1198.2,373.6C1194.3,373.5 1190.3,373.4 1186.3,373.3C1182.3,373.1 1178.4,373.0 1174.4,372.9C1170.4,372.7 1166.4,372.6 1162.4,372.5C1158.5,372.4 1154.5,372.2 1150.5,372.1C1146.5,372.0 1142.6,371.8 1138.6,371.7C1134.6,371.6 1130.6,371.4 1126.7,371.3C1122.7,371.2 1118.7,371.1 1114.7,370.9C1110.8,370.8 1106.8,370.7 1102.8,370.5C1098.8,370.4 1094.9,370.3 1090.9,370.2C1086.9,370.1 1082.9,370.0 1079.0,369.9C1075.0,369.8 1071.0,369.7 1067.0,369.6C1063.1,369.5 1059.1,369.4 1055.1,369.3C1051.1,369.2 1047.2,369.0 1043.2,368.9C1039.2,368.8 1035.2,368.7 1031.2,368.6C1027.3,368.5 1023.3,368.4 1019.3,368.3C1015.3,368.2 1011.4,368.1 1007.4,368.0C1003.4,367.9 999.4,367.8 995.5,367.7C991.5,367.6 987.5,367.5 983.5,367.4C979.6,367.3 975.6,367.3 971.6,367.2C967.6,367.1 963.7,367.0 959.7,366.9C955.7,366.8 951.7,366.7 947.8,366.6C943.8,366.5 939.8,366.4 935.8,366.3C931.9,366.2 927.9,366.1 923.9,366.1C919.9,366.0 916.0,365.9 912.0,365.8C908.0,365.7 904.0,365.6 900.1,365.5C896.1,365.4 892.1,365.4 888.1,365.3C884.1,365.2 880.2,365.2 876.2,365.1C872.2,365.0 868.2,365.0 864.3,364.9C860.3,364.9 856.3,364.8 852.3,364.7C848.4,364.7 844.4,364.6 840.4,364.5C836.4,364.5 832.5,364.4 828.5,364.3C824.5,364.3 820.5,364.2 816.6,364.1C812.6,364.1 808.6,364.0 804.6,364.0C800.7,363.9 796.7,363.9 792.7,363.8C788.7,363.8 784.8,363.8 780.8,363.8C776.8,363.7 772.8,363.7 768.9,363.7C764.9,363.7 760.9,363.6 756.9,363.6C752.9,363.6 749.0,363.6 745.0,363.5C741.0,363.5 737.0,363.5 733.1,363.4C729.1,363.4 725.1,363.4 721.1,363.3C717.2,363.3 713.2,363.3 709.2,363.2C705.2,363.2 701.3,363.2 697.3,363.2C693.3,363.1 689.3,363.2 685.4,363.2C681.4,363.2 677.4,363.2 673.4,363.2C669.5,363.2 665.5,363.2 661.5,363.2C657.5,363.2 653.6,363.2 649.6,363.2C645.6,363.2 641.6,363.3 637.7,363.3C633.7,363.3 629.7,363.3 625.7,363.3C621.8,363.3 615.8,363.3 613.8,363.3Z" fill="#D3D3D3" fill-opacity="0.45"/>
<g fill="#0072B2" fill-opacity="0.55"><circle cx="1224.4" cy="393.5" r="4.4"/><circle cx="1158.7" cy="388.2" r="4.4"/><circle cx="1190.1" cy="326.9" r="4.4"/><circle cx="1302.6" cy="364.2" r="4.4"/><circle cx="1210.8" cy="364.3" r="4.4"/><circle cx="1227.8" cy="322.4" r="4.4"/><circle cx="1182.1" cy="379.8" r="4.4"/><circle cx="1221.6" cy="351.7" r="4.4"/><circle cx="1228.2" cy="385.7" r="4.4"/><circle cx="1234.5" cy="358.0" r="4.4"/><circle cx="1240.7" cy="329.0" r="4.4"/><circle cx="1217.2" cy="329.9" r="4.4"/><circle cx="1219.6" cy="386.0" r="4.4"/><circle cx="1243.2" cy="392.7" r="4.4"/><circle cx="1257.4" cy="362.8" r="4.4"/><circle cx="1237.8" cy="366.6" r="4.4"/><circle cx="1317.1" cy="351.7" r="4.4"/><circle cx="1252.4" cy="361.2" r="4.4"/><circle cx="1250.5" cy="360.2" r="4.4"/><circle cx="1216.1" cy="384.3" r="4.4"/><circle cx="1286.9" cy="385.6" r="4.4"/><circle cx="1200.6" cy="356.8" r="4.4"/><circle cx="1175.6" cy="414.8" r="4.4"/><circle cx="1202.6" cy="366.7" r="4.4"/><circle cx="1269.7" cy="403.4" r="4.4"/><circle cx="1195.5" cy="415.2" r="4.4"/><circle cx="1298.1" cy="335.0" r="4.4"/><circle cx="1242.7" cy="389.5" r="4.4"/><circle cx="1179.8" cy="362.0" r="4.4"/><circle cx="1234.0" cy="385.6" r="4.4"/><circle cx="1318.7" cy="382.1" r="4.4"/><circle cx="1207.4" cy="364.5" r="4.4"/><circle cx="1188.5" cy="384.4" r="4.4"/><circle cx="1265.2" cy="389.0" r="4.4"/><circle cx="1298.6" cy="353.6" r="4.4"/><circle cx="1286.4" cy="365.3" r="4.4"/><circle cx="1229.7" cy="358.9" r="4.4"/><circle cx="1251.5" cy="356.0" r="4.4"/><circle cx="1257.2" cy="392.3" r="4.4"/><circle cx="1293.0" cy="358.9" r="4.4"/><circle cx="1239.0" cy="385.1" r="4.4"/><circle cx="1298.3" cy="363.3" r="4.4"/><circle cx="1229.1" cy="360.5" r="4.4"/><circle cx="1268.4" cy="381.1" r="4.4"/><circle cx="1204.3" cy="358.3" r="4.4"/><circle cx="1211.4" cy="387.8" r="4.4"/><circle cx="1261.0" cy="333.9" r="4.4"/><circle cx="1205.8" cy="357.3" r="4.4"/><circle cx="1280.9" cy="326.8" r="4.4"/><circle cx="1220.4" cy="382.0" r="4.4"/><circle cx="1246.8" cy="382.3" r="4.4"/><circle cx="1240.0" cy="352.0" r="4.4"/><circle cx="1229.5" cy="366.9" r="4.4"/><circle cx="1249.1" cy="339.8" r="4.4"/><circle cx="1289.0" cy="396.7" r="4.4"/><circle cx="1193.6" cy="381.9" r="4.4"/><circle cx="1256.2" cy="396.8" r="4.4"/><circle cx="1236.2" cy="386.1" r="4.4"/><circle cx="1205.1" cy="355.9" r="4.4"/><circle cx="1255.6" cy="366.2" r="4.4"/><circle cx="1206.6" cy="389.0" r="4.4"/><circle cx="1240.3" cy="360.8" r="4.4"/><circle cx="1295.7" cy="329.5" r="4.4"/><circle cx="1158.5" cy="366.8" r="4.4"/><circle cx="1254.0" cy="331.4" r="4.4"/><circle cx="1262.4" cy="356.2" r="4.4"/><circle cx="1203.3" cy="385.2" r="4.4"/><circle cx="1265.6" cy="385.2" r="4.4"/><circle cx="1258.4" cy="380.0" r="4.4"/><circle cx="1228.9" cy="384.9" r="4.4"/><circle cx="1294.6" cy="386.0" r="4.4"/><circle cx="1188.5" cy="361.2" r="4.4"/><circle cx="1270.6" cy="382.8" r="4.4"/><circle cx="1233.7" cy="334.3" r="4.4"/><circle cx="1199.1" cy="329.9" r="4.4"/><circle cx="1236.1" cy="359.1" r="4.4"/><circle cx="1228.9" cy="354.2" r="4.4"/><circle cx="1278.0" cy="389.7" r="4.4"/><circle cx="1180.6" cy="359.2" r="4.4"/><circle cx="1235.4" cy="331.3" r="4.4"/><circle cx="1224.4" cy="384.0" r="4.4"/><circle cx="1309.8" cy="406.7" r="4.4"/><circle cx="1196.5" cy="384.1" r="4.4"/><circle cx="1288.1" cy="407.7" r="4.4"/><circle cx="1169.6" cy="376.6" r="4.4"/><circle cx="1258.0" cy="408.0" r="4.4"/><circle cx="1237.7" cy="390.9" r="4.4"/><circle cx="1259.3" cy="392.7" r="4.4"/><circle cx="1213.8" cy="382.8" r="4.4"/><circle cx="1161.3" cy="334.8" r="4.4"/><circle cx="1178.3" cy="358.2" r="4.4"/><circle cx="1298.5" cy="386.8" r="4.4"/><circle cx="1252.2" cy="353.4" r="4.4"/><circle cx="1206.8" cy="380.2" r="4.4"/><circle cx="1281.1" cy="338.3" r="4.4"/><circle cx="1211.8" cy="331.7" r="4.4"/><circle cx="1212.0" cy="361.0" r="4.4"/><circle cx="1192.0" cy="365.8" r="4.4"/><circle cx="1292.6" cy="382.9" r="4.4"/><circle cx="1202.4" cy="333.7" r="4.4"/><circle cx="1255.1" cy="383.8" r="4.4"/><circle cx="1284.1" cy="400.3" r="4.4"/><circle cx="1141.9" cy="326.7" r="4.4"/><circle cx="1248.8" cy="406.8" r="4.4"/><circle cx="1270.0" cy="387.9" r="4.4"/><circle cx="1180.5" cy="338.6" r="4.4"/><circle cx="1259.9" cy="380.0" r="4.4"/><circle cx="1251.0" cy="334.4" r="4.4"/><circle cx="1273.1" cy="359.4" r="4.4"/><circle cx="1218.2" cy="361.4" r="4.4"/><circle cx="1260.2" cy="359.1" r="4.4"/><circle cx="1217.2" cy="348.2" r="4.4"/><circle cx="1268.1" cy="361.1" r="4.4"/><circle cx="1249.3" cy="387.3" r="4.4"/><circle cx="1226.7" cy="358.6" r="4.4"/><circle cx="1183.0" cy="358.2" r="4.4"/><circle cx="1311.9" cy="391.6" r="4.4"/><circle cx="1289.3" cy="394.4" r="4.4"/><circle cx="1279.6" cy="335.8" r="4.4"/><circle cx="1214.6" cy="387.0" r="4.4"/><circle cx="1227.8" cy="389.7" r="4.4"/><circle cx="1312.9" cy="416.8" r="4.4"/><circle cx="1273.9" cy="364.1" r="4.4"/><circle cx="1206.7" cy="414.0" r="4.4"/><circle cx="1244.5" cy="386.6" r="4.4"/><circle cx="1248.6" cy="367.4" r="4.4"/><circle cx="1234.2" cy="362.3" r="4.4"/><circle cx="1202.9" cy="358.0" r="4.4"/><circle cx="1295.5" cy="386.6" r="4.4"/><circle cx="1267.5" cy="366.1" r="4.4"/><circle cx="1234.4" cy="387.7" r="4.4"/><circle cx="1176.5" cy="359.8" r="4.4"/><circle cx="1218.2" cy="329.5" r="4.4"/><circle cx="1242.6" cy="367.4" r="4.4"/><circle cx="1279.4" cy="356.5" r="4.4"/><circle cx="1227.3" cy="361.9" r="4.4"/><circle cx="1289.6" cy="385.1" r="4.4"/><circle cx="1248.9" cy="382.9" r="4.4"/><circle cx="1211.7" cy="363.8" r="4.4"/><circle cx="1193.6" cy="363.5" r="4.4"/><circle cx="1180.4" cy="360.3" r="4.4"/><circle cx="1236.8" cy="382.7" r="4.4"/><circle cx="1257.2" cy="388.7" r="4.4"/><circle cx="1301.7" cy="392.8" r="4.4"/><circle cx="1242.7" cy="363.0" r="4.4"/><circle cx="1194.5" cy="384.3" r="4.4"/><circle cx="1256.4" cy="354.3" r="4.4"/><circle cx="1232.3" cy="335.6" r="4.4"/><circle cx="1232.4" cy="387.7" r="4.4"/><circle cx="1186.5" cy="387.0" r="4.4"/><circle cx="1270.2" cy="412.9" r="4.4"/><circle cx="1259.2" cy="390.6" r="4.4"/><circle cx="1310.4" cy="361.9" r="4.4"/><circle cx="1289.9" cy="332.2" r="4.4"/><circle cx="1280.1" cy="359.3" r="4.4"/><circle cx="1296.6" cy="359.7" r="4.4"/><circle cx="1231.7" cy="364.5" r="4.4"/><circle cx="1225.0" cy="362.4" r="4.4"/><circle cx="1241.6" cy="336.6" r="4.4"/><circle cx="1191.3" cy="328.3" r="4.4"/><circle cx="1237.8" cy="353.0" r="4.4"/><circle cx="1230.0" cy="384.5" r="4.4"/><circle cx="1272.0" cy="352.3" r="4.4"/><circle cx="1243.3" cy="361.2" r="4.4"/><circle cx="1163.6" cy="361.2" r="4.4"/><circle cx="1245.3" cy="392.2" r="4.4"/><circle cx="1303.7" cy="385.1" r="4.4"/><circle cx="1166.8" cy="361.9" r="4.4"/><circle cx="1212.2" cy="332.8" r="4.4"/><circle cx="1244.9" cy="410.0" r="4.4"/><circle cx="1188.4" cy="387.3" r="4.4"/><circle cx="1221.1" cy="365.1" r="4.4"/><circle cx="1246.6" cy="333.4" r="4.4"/><circle cx="1188.8" cy="360.1" r="4.4"/><circle cx="1256.7" cy="359.6" r="4.4"/><circle cx="1261.6" cy="356.6" r="4.4"/><circle cx="1191.0" cy="360.8" r="4.4"/><circle cx="1245.6" cy="361.0" r="4.4"/><circle cx="1289.9" cy="404.1" r="4.4"/><circle cx="1237.1" cy="354.7" r="4.4"/><circle cx="1262.9" cy="333.6" r="4.4"/><circle cx="1271.7" cy="390.5" r="4.4"/><circle cx="1234.8" cy="388.2" r="4.4"/><circle cx="1286.0" cy="358.0" r="4.4"/><circle cx="1260.9" cy="355.8" r="4.4"/><circle cx="1203.0" cy="348.5" r="4.4"/><circle cx="1266.8" cy="387.2" r="4.4"/><circle cx="1281.2" cy="359.0" r="4.4"/><circle cx="1278.8" cy="361.4" r="4.4"/><circle cx="1217.8" cy="411.8" r="4.4"/><circle cx="1264.3" cy="387.8" r="4.4"/><circle cx="1302.8" cy="391.0" r="4.4"/><circle cx="1254.8" cy="381.2" r="4.4"/><circle cx="1295.0" cy="411.5" r="4.4"/><circle cx="1299.9" cy="327.0" r="4.4"/><circle cx="1243.7" cy="362.0" r="4.4"/><circle cx="1273.1" cy="384.8" r="4.4"/><circle cx="1233.1" cy="330.0" r="4.4"/><circle cx="1290.3" cy="420.9" r="4.4"/><circle cx="1241.5" cy="392.1" r="4.4"/><circle cx="1222.2" cy="382.5" r="4.4"/><circle cx="1244.3" cy="411.6" r="4.4"/><circle cx="1242.4" cy="394.5" r="4.4"/><circle cx="1261.6" cy="415.5" r="4.4"/><circle cx="1265.1" cy="364.5" r="4.4"/><circle cx="1196.5" cy="414.3" r="4.4"/><circle cx="1218.1" cy="352.4" r="4.4"/><circle cx="1260.7" cy="388.6" r="4.4"/><circle cx="1265.9" cy="350.1" r="4.4"/><circle cx="1249.3" cy="360.7" r="4.4"/><circle cx="1292.8" cy="389.3" r="4.4"/><circle cx="1242.6" cy="352.2" r="4.4"/><circle cx="1276.5" cy="407.6" r="4.4"/><circle cx="1302.3" cy="353.1" r="4.4"/><circle cx="1261.4" cy="376.8" r="4.4"/><circle cx="1172.6" cy="328.0" r="4.4"/><circle cx="1250.2" cy="353.8" r="4.4"/><circle cx="1248.3" cy="367.5" r="4.4"/><circle cx="1169.0" cy="363.3" r="4.4"/><circle cx="1311.4" cy="383.8" r="4.4"/><circle cx="1239.8" cy="331.9" r="4.4"/><circle cx="1285.7" cy="382.5" r="4.4"/><circle cx="1234.2" cy="388.0" r="4.4"/><circle cx="1254.0" cy="406.7" r="4.4"/><circle cx="1294.3" cy="323.4" r="4.4"/><circle cx="1250.2" cy="356.7" r="4.4"/><circle cx="1291.1" cy="355.5" r="4.4"/><circle cx="1243.4" cy="330.4" r="4.4"/><circle cx="1229.6" cy="381.4" r="4.4"/><circle cx="1237.6" cy="358.4" r="4.4"/><circle cx="1225.7" cy="361.7" r="4.4"/><circle cx="1241.9" cy="358.5" r="4.4"/><circle cx="1304.3" cy="332.3" r="4.4"/><circle cx="1197.7" cy="392.9" r="4.4"/><circle cx="1177.1" cy="384.6" r="4.4"/><circle cx="1246.3" cy="359.2" r="4.4"/><circle cx="1318.0" cy="384.8" r="4.4"/><circle cx="1291.2" cy="335.3" r="4.4"/><circle cx="1302.8" cy="357.1" r="4.4"/><circle cx="1299.8" cy="329.9" r="4.4"/><circle cx="1216.5" cy="389.0" r="4.4"/><circle cx="1252.3" cy="384.2" r="4.4"/><circle cx="1135.3" cy="355.7" r="4.4"/><circle cx="1221.7" cy="382.3" r="4.4"/><circle cx="1272.9" cy="416.1" r="4.4"/><circle cx="1181.9" cy="364.2" r="4.4"/><circle cx="1160.7" cy="411.8" r="4.4"/><circle cx="1192.8" cy="364.3" r="4.4"/><circle cx="1256.7" cy="374.1" r="4.4"/><circle cx="1296.7" cy="363.2" r="4.4"/><circle cx="1307.9" cy="363.2" r="4.4"/><circle cx="1184.0" cy="382.8" r="4.4"/><circle cx="1150.2" cy="309.0" r="4.4"/><circle cx="1254.3" cy="370.5" r="4.4"/><circle cx="1292.6" cy="360.2" r="4.4"/><circle cx="1180.0" cy="390.5" r="4.4"/><circle cx="1226.2" cy="388.4" r="4.4"/><circle cx="1229.3" cy="393.5" r="4.4"/><circle cx="1249.8" cy="390.2" r="4.4"/><circle cx="1240.9" cy="386.8" r="4.4"/><circle cx="1270.3" cy="360.0" r="4.4"/><circle cx="1293.2" cy="338.3" r="4.4"/><circle cx="1251.8" cy="389.4" r="4.4"/><circle cx="1280.4" cy="337.1" r="4.4"/><circle cx="1206.0" cy="411.6" r="4.4"/><circle cx="1204.9" cy="360.5" r="4.4"/><circle cx="1270.5" cy="365.6" r="4.4"/><circle cx="1256.3" cy="330.2" r="4.4"/><circle cx="1295.3" cy="389.4" r="4.4"/><circle cx="1236.4" cy="384.4" r="4.4"/><circle cx="1288.0" cy="337.5" r="4.4"/><circle cx="1223.2" cy="384.8" r="4.4"/><circle cx="1278.0" cy="333.8" r="4.4"/><circle cx="1266.3" cy="386.0" r="4.4"/><circle cx="1266.4" cy="357.5" r="4.4"/><circle cx="1307.8" cy="384.2" r="4.4"/><circle cx="1294.9" cy="332.5" r="4.4"/><circle cx="1224.8" cy="385.5" r="4.4"/><circle cx="1287.4" cy="392.1" r="4.4"/><circle cx="1178.7" cy="386.6" r="4.4"/><circle cx="1292.0" cy="370.1" r="4.4"/><circle cx="1272.9" cy="370.3" r="4.4"/><circle cx="1272.0" cy="387.7" r="4.4"/><circle cx="1253.4" cy="387.3" r="4.4"/><circle cx="1285.9" cy="379.3" r="4.4"/><circle cx="1232.0" cy="356.8" r="4.4"/><circle cx="1279.4" cy="381.1" r="4.4"/><circle cx="1239.8" cy="387.7" r="4.4"/><circle cx="1233.5" cy="384.1" r="4.4"/><circle cx="1256.6" cy="380.8" r="4.4"/><circle cx="1249.0" cy="357.4" r="4.4"/><circle cx="1178.5" cy="358.2" r="4.4"/><circle cx="1257.6" cy="359.3" r="4.4"/><circle cx="1180.4" cy="390.5" r="4.4"/><circle cx="1297.1" cy="416.4" r="4.4"/><circle cx="1250.6" cy="366.5" r="4.4"/><circle cx="1260.4" cy="384.2" r="4.4"/><circle cx="1281.6" cy="387.4" r="4.4"/><circle cx="1214.2" cy="389.3" r="4.4"/><circle cx="1127.9" cy="331.5" r="4.4"/><circle cx="1247.6" cy="388.8" r="4.4"/><circle cx="1262.0" cy="381.2" r="4.4"/><circle cx="1294.1" cy="403.3" r="4.4"/><circle cx="1220.0" cy="357.6" r="4.4"/><circle cx="1240.6" cy="362.9" r="4.4"/><circle cx="1268.7" cy="393.1" r="4.4"/><circle cx="1238.5" cy="402.8" r="4.4"/><circle cx="1241.4" cy="357.6" r="4.4"/><circle cx="1262.6" cy="391.6" r="4.4"/><circle cx="1209.9" cy="328.1" r="4.4"/><circle cx="1318.5" cy="340.9" r="4.4"/><circle cx="1213.0" cy="335.2" r="4.4"/><circle cx="1253.4" cy="334.2" r="4.4"/><circle cx="1238.0" cy="334.8" r="4.4"/><circle cx="1222.0" cy="365.0" r="4.4"/><circle cx="1274.3" cy="348.5" r="4.4"/><circle cx="1294.3" cy="414.0" r="4.4"/><circle cx="1313.1" cy="384.3" r="4.4"/><circle cx="1276.3" cy="332.9" r="4.4"/><circle cx="1232.9" cy="367.2" r="4.4"/><circle cx="1288.0" cy="388.6" r="4.4"/><circle cx="1190.9" cy="385.1" r="4.4"/><circle cx="1253.7" cy="355.3" r="4.4"/><circle cx="1273.6" cy="361.3" r="4.4"/><circle cx="1275.4" cy="384.3" r="4.4"/><circle cx="1203.1" cy="361.3" r="4.4"/><circle cx="1188.4" cy="383.3" r="4.4"/><circle cx="1229.8" cy="344.7" r="4.4"/><circle cx="1182.0" cy="330.3" r="4.4"/><circle cx="1199.0" cy="362.6" r="4.4"/><circle cx="1251.7" cy="388.7" r="4.4"/><circle cx="1300.7" cy="399.3" r="4.4"/><circle cx="1250.9" cy="391.0" r="4.4"/><circle cx="1301.5" cy="383.1" r="4.4"/><circle cx="1260.4" cy="375.2" r="4.4"/><circle cx="1270.6" cy="363.0" r="4.4"/><circle cx="1292.2" cy="336.2" r="4.4"/><circle cx="1234.8" cy="383.7" r="4.4"/><circle cx="1263.1" cy="410.8" r="4.4"/><circle cx="1234.2" cy="335.8" r="4.4"/><circle cx="1223.7" cy="307.7" r="4.4"/><circle cx="1278.0" cy="361.4" r="4.4"/><circle cx="1215.8" cy="356.7" r="4.4"/><circle cx="1253.7" cy="382.3" r="4.4"/><circle cx="1216.9" cy="351.4" r="4.4"/><circle cx="1246.4" cy="381.7" r="4.4"/><circle cx="1227.9" cy="382.9" r="4.4"/><circle cx="1296.1" cy="358.9" r="4.4"/><circle cx="1253.3" cy="355.2" r="4.4"/><circle cx="1253.1" cy="416.7" r="4.4"/><circle cx="1319.2" cy="349.5" r="4.4"/><circle cx="1127.8" cy="358.3" r="4.4"/><circle cx="1202.5" cy="379.3" r="4.4"/><circle cx="1134.0" cy="363.4" r="4.4"/><circle cx="1248.9" cy="381.1" r="4.4"/><circle cx="1267.5" cy="384.1" r="4.4"/><circle cx="1276.0" cy="386.8" r="4.4"/><circle cx="1260.2" cy="389.1" r="4.4"/><circle cx="1212.1" cy="390.1" r="4.4"/><circle cx="1261.4" cy="351.2" r="4.4"/><circle cx="1237.5" cy="380.2" r="4.4"/><circle cx="1201.3" cy="359.1" r="4.4"/><circle cx="1266.1" cy="358.7" r="4.4"/><circle cx="1227.6" cy="363.0" r="4.4"/><circle cx="1229.3" cy="368.2" r="4.4"/><circle cx="1256.9" cy="394.4" r="4.4"/><circle cx="1257.3" cy="362.5" r="4.4"/><circle cx="1213.5" cy="386.7" r="4.4"/><circle cx="1300.7" cy="365.1" r="4.4"/><circle cx="1205.7" cy="355.9" r="4.4"/><circle cx="1200.9" cy="409.6" r="4.4"/><circle cx="1260.8" cy="385.2" r="4.4"/><circle cx="1253.1" cy="341.3" r="4.4"/><circle cx="1250.7" cy="387.0" r="4.4"/><circle cx="1230.4" cy="359.7" r="4.4"/><circle cx="1249.4" cy="418.0" r="4.4"/><circle cx="1223.9" cy="343.3" r="4.4"/><circle cx="1178.2" cy="403.0" r="4.4"/><circle cx="1278.5" cy="383.0" r="4.4"/><circle cx="1204.9" cy="387.8" r="4.4"/><circle cx="1237.9" cy="352.1" r="4.4"/><circle cx="1278.2" cy="406.8" r="4.4"/><circle cx="1248.5" cy="383.8" r="4.4"/><circle cx="1188.5" cy="358.5" r="4.4"/><circle cx="1215.9" cy="355.9" r="4.4"/><circle cx="1251.1" cy="352.7" r="4.4"/><circle cx="1304.4" cy="359.3" r="4.4"/><circle cx="1236.8" cy="360.7" r="4.4"/><circle cx="1187.0" cy="356.9" r="4.4"/><circle cx="1295.4" cy="399.3" r="4.4"/><circle cx="1208.4" cy="385.5" r="4.4"/><circle cx="1238.9" cy="414.0" r="4.4"/><circle cx="1284.3" cy="359.7" r="4.4"/><circle cx="1219.0" cy="360.5" r="4.4"/><circle cx="1228.1" cy="358.0" r="4.4"/><circle cx="1183.5" cy="385.5" r="4.4"/><circle cx="1140.7" cy="359.3" r="4.4"/><circle cx="1128.3" cy="360.2" r="4.4"/><circle cx="1162.1" cy="330.9" r="4.4"/><circle cx="1177.0" cy="388.4" r="4.4"/><circle cx="1130.9" cy="407.4" r="4.4"/><circle cx="1128.5" cy="341.0" r="4.4"/><circle cx="1165.5" cy="358.6" r="4.4"/><circle cx="1159.3" cy="383.8" r="4.4"/><circle cx="1141.0" cy="392.0" r="4.4"/><circle cx="1141.3" cy="361.6" r="4.4"/><circle cx="1170.7" cy="326.7" r="4.4"/><circle cx="1127.0" cy="386.6" r="4.4"/><circle cx="1139.9" cy="390.1" r="4.4"/><circle cx="1147.0" cy="373.7" r="4.4"/><circle cx="1171.1" cy="410.4" r="4.4"/><circle cx="1144.2" cy="385.5" r="4.4"/><circle cx="1129.0" cy="383.1" r="4.4"/><circle cx="1169.3" cy="376.3" r="4.4"/><circle cx="1166.1" cy="333.0" r="4.4"/><circle cx="1133.3" cy="411.4" r="4.4"/><circle cx="1168.4" cy="415.3" r="4.4"/><circle cx="1162.3" cy="359.9" r="4.4"/><circle cx="1147.3" cy="386.1" r="4.4"/><circle cx="1159.7" cy="382.4" r="4.4"/><circle cx="1155.2" cy="357.0" r="4.4"/><circle cx="1172.3" cy="389.6" r="4.4"/><circle cx="1181.5" cy="335.2" r="4.4"/><circle cx="1145.8" cy="353.1" r="4.4"/><circle cx="1131.1" cy="364.1" r="4.4"/><circle cx="1147.2" cy="382.4" r="4.4"/><circle cx="1160.9" cy="351.9" r="4.4"/><circle cx="1140.8" cy="329.9" r="4.4"/><circle cx="1134.9" cy="358.4" r="4.4"/><circle cx="1138.2" cy="353.2" r="4.4"/><circle cx="963.1" cy="300.4" r="4.4"/><circle cx="973.5" cy="325.6" r="4.4"/><circle cx="968.4" cy="330.5" r="4.4"/><circle cx="989.2" cy="329.1" r="4.4"/><circle cx="989.2" cy="329.5" r="4.4"/><circle cx="1020.4" cy="331.8" r="4.4"/><circle cx="1041.6" cy="318.3" r="4.4"/><circle cx="1036.5" cy="329.6" r="4.4"/><circle cx="1047.1" cy="332.2" r="4.4"/><circle cx="1057.4" cy="329.1" r="4.4"/><circle cx="1057.4" cy="329.5" r="4.4"/><circle cx="1057.4" cy="340.7" r="4.4"/><circle cx="1088.6" cy="330.2" r="4.4"/><circle cx="1088.6" cy="334.3" r="4.4"/><circle cx="1094.2" cy="334.3" r="4.4"/><circle cx="1099.5" cy="334.0" r="4.4"/><circle cx="1119.9" cy="325.6" r="4.4"/><circle cx="1119.9" cy="329.1" r="4.4"/><circle cx="1078.4" cy="344.8" r="4.4"/><circle cx="1073.2" cy="348.3" r="4.4"/><circle cx="1094.2" cy="351.0" r="4.4"/><circle cx="1104.5" cy="351.0" r="4.4"/><circle cx="1104.5" cy="354.8" r="4.4"/><circle cx="1104.5" cy="358.9" r="4.4"/><circle cx="952.9" cy="354.8" r="4.4"/><circle cx="963.1" cy="357.1" r="4.4"/><circle cx="968.4" cy="354.8" r="4.4"/><circle cx="968.4" cy="357.7" r="4.4"/><circle cx="983.8" cy="359.4" r="4.4"/><circle cx="989.2" cy="353.6" r="4.4"/><circle cx="994.3" cy="351.3" r="4.4"/><circle cx="994.3" cy="355.9" r="4.4"/><circle cx="999.6" cy="358.9" r="4.4"/><circle cx="1010.1" cy="358.3" r="4.4"/><circle cx="1010.1" cy="367.0" r="4.4"/><circle cx="1015.4" cy="356.5" r="4.4"/><circle cx="1020.6" cy="354.8" r="4.4"/><circle cx="1025.9" cy="359.4" r="4.4"/><circle cx="1025.9" cy="371.1" r="4.4"/><circle cx="1031.4" cy="358.0" r="4.4"/><circle cx="1046.9" cy="360.6" r="4.4"/><circle cx="1052.1" cy="354.8" r="4.4"/><circle cx="1057.4" cy="356.5" r="4.4"/><circle cx="1052.1" cy="360.6" r="4.4"/><circle cx="1067.9" cy="360.6" r="4.4"/><circle cx="1073.2" cy="357.1" r="4.4"/><circle cx="1078.4" cy="357.7" r="4.4"/><circle cx="1083.7" cy="361.8" r="4.4"/><circle cx="1094.2" cy="360.0" r="4.4"/><circle cx="1099.5" cy="357.1" r="4.4"/><circle cx="1041.6" cy="375.8" r="4.4"/><circle cx="963.1" cy="381.6" r="4.4"/><circle cx="963.1" cy="384.6" r="4.4"/><circle cx="973.5" cy="381.1" r="4.4"/><circle cx="978.6" cy="384.0" r="4.4"/><circle cx="983.8" cy="381.6" r="4.4"/><circle cx="999.6" cy="379.9" r="4.4"/><circle cx="1010.1" cy="384.0" r="4.4"/><circle cx="1015.4" cy="381.6" r="4.4"/><circle cx="1020.6" cy="386.9" r="4.4"/><circle cx="1031.4" cy="381.6" r="4.4"/><circle cx="1036.5" cy="384.6" r="4.4"/><circle cx="1036.5" cy="388.6" r="4.4"/><circle cx="1047.1" cy="388.1" r="4.4"/><circle cx="1047.1" cy="390.4" r="4.4"/><circle cx="1057.4" cy="385.1" r="4.4"/><circle cx="1057.4" cy="389.8" r="4.4"/><circle cx="1067.9" cy="389.8" r="4.4"/><circle cx="1078.4" cy="389.2" r="4.4"/><circle cx="1094.2" cy="388.1" r="4.4"/><circle cx="1099.5" cy="381.6" r="4.4"/><circle cx="1099.5" cy="385.1" r="4.4"/><circle cx="1104.5" cy="389.2" r="4.4"/><circle cx="1110.0" cy="389.2" r="4.4"/><circle cx="1110.0" cy="394.5" r="4.4"/><circle cx="1119.9" cy="382.8" r="4.4"/><circle cx="1119.9" cy="389.2" r="4.4"/><circle cx="1031.4" cy="406.8" r="4.4"/><circle cx="1073.2" cy="416.1" r="4.4"/><circle cx="1119.9" cy="416.7" r="4.4"/><circle cx="1130.4" cy="416.7" r="4.4"/><circle cx="681.0" cy="207.5" r="4.4"/><circle cx="848.5" cy="211.0" r="4.4"/><circle cx="802.0" cy="228.0" r="4.4"/><circle cx="660.0" cy="510.0" r="4.4"/><circle cx="644.9" cy="273.0" r="4.4"/><circle cx="670.6" cy="274.3" r="4.4"/><circle cx="665.6" cy="324.7" r="4.4"/><circle cx="639.5" cy="333.2" r="4.4"/><circle cx="613.4" cy="366.5" r="4.4"/><circle cx="634.1" cy="355.3" r="4.4"/><circle cx="639.5" cy="350.8" r="4.4"/><circle cx="639.5" cy="355.8" r="4.4"/><circle cx="676.0" cy="351.7" r="4.4"/><circle cx="696.6" cy="358.4" r="4.4"/><circle cx="702.5" cy="357.6" r="4.4"/><circle cx="702.0" cy="363.8" r="4.4"/><circle cx="707.9" cy="362.9" r="4.4"/><circle cx="728.2" cy="383.6" r="4.4"/><circle cx="728.2" cy="387.7" r="4.4"/><circle cx="749.1" cy="397.2" r="4.4"/><circle cx="764.6" cy="335.3" r="4.4"/><circle cx="775.4" cy="330.1" r="4.4"/><circle cx="780.4" cy="330.6" r="4.4"/><circle cx="780.8" cy="332.4" r="4.4"/><circle cx="796.1" cy="332.1" r="4.4"/><circle cx="775.4" cy="358.9" r="4.4"/><circle cx="775.4" cy="403.9" r="4.4"/><circle cx="780.8" cy="406.2" r="4.4"/><circle cx="785.6" cy="374.6" r="4.4"/><circle cx="790.9" cy="382.8" r="4.4"/><circle cx="801.5" cy="360.2" r="4.4"/><circle cx="801.5" cy="369.2" r="4.4"/><circle cx="811.7" cy="387.3" r="4.4"/><circle cx="822.2" cy="347.2" r="4.4"/><circle cx="822.2" cy="356.2" r="4.4"/><circle cx="822.2" cy="362.5" r="4.4"/><circle cx="822.2" cy="366.1" r="4.4"/><circle cx="822.2" cy="369.2" r="4.4"/><circle cx="827.9" cy="362.0" r="4.4"/><circle cx="822.2" cy="389.1" r="4.4"/><circle cx="832.4" cy="373.7" r="4.4"/><circle cx="837.7" cy="387.9" r="4.4"/><circle cx="848.3" cy="371.5" r="4.4"/><circle cx="848.3" cy="404.2" r="4.4"/><circle cx="853.7" cy="353.0" r="4.4"/><circle cx="858.5" cy="351.2" r="4.4"/><circle cx="858.5" cy="330.1" r="4.4"/><circle cx="863.9" cy="357.1" r="4.4"/><circle cx="858.5" cy="380.0" r="4.4"/><circle cx="863.9" cy="382.3" r="4.4"/><circle cx="863.9" cy="388.6" r="4.4"/><circle cx="863.9" cy="393.1" r="4.4"/><circle cx="874.4" cy="393.6" r="4.4"/><circle cx="879.8" cy="354.0" r="4.4"/><circle cx="884.8" cy="344.1" r="4.4"/><circle cx="895.1" cy="304.0" r="4.4"/><circle cx="895.1" cy="340.0" r="4.4"/><circle cx="895.1" cy="348.6" r="4.4"/><circle cx="895.1" cy="352.6" r="4.4"/><circle cx="895.1" cy="358.0" r="4.4"/><circle cx="895.1" cy="380.8" r="4.4"/><circle cx="895.1" cy="395.4" r="4.4"/><circle cx="905.3" cy="354.0" r="4.4"/><circle cx="905.3" cy="367.9" r="4.4"/><circle cx="905.3" cy="381.0" r="4.4"/><circle cx="916.1" cy="329.2" r="4.4"/><circle cx="916.1" cy="333.7" r="4.4"/><circle cx="916.1" cy="357.6" r="4.4"/><circle cx="916.1" cy="362.5" r="4.4"/><circle cx="916.1" cy="389.5" r="4.4"/><circle cx="926.6" cy="384.6" r="4.4"/><circle cx="926.6" cy="385.3" r="4.4"/><circle cx="931.6" cy="326.5" r="4.4"/><circle cx="931.6" cy="357.1" r="4.4"/><circle cx="937.0" cy="356.2" r="4.4"/><circle cx="942.8" cy="355.3" r="4.4"/><circle cx="947.3" cy="362.5" r="4.4"/><circle cx="947.3" cy="391.3" r="4.4"/><circle cx="947.3" cy="416.5" r="4.4"/><circle cx="665.6" cy="413.8" r="4.4"/><circle cx="1177.0" cy="306.5" r="4.4"/><circle cx="1235.0" cy="305.0" r="4.4"/><circle cx="1282.0" cy="307.0" r="4.4"/></g>
<path d="M613.8,349.3C634.8,350.1 692.3,352.4 740.0,354.2C787.7,356.0 841.7,358.0 900.0,360.0C958.3,362.0 1040.0,364.6 1090.0,366.3C1140.0,368.0 1162.1,368.8 1200.0,370.2C1237.9,371.6 1297.9,373.8 1317.5,374.5" fill="none" stroke="#0072B2" stroke-width="3.5"/>
<line x1="1053.8" y1="25.0" x2="1053.8" y2="39.4" stroke="#E0E0E0" stroke-width="1.8"/>
<line x1="1053.8" y1="54.5" x2="1053.8" y2="73.8" stroke="#E0E0E0" stroke-width="1.8"/>
<line x1="1053.8" y1="94.0" x2="1053.8" y2="119.0" stroke="#E0E0E0" stroke-width="1.8"/>
<line x1="1053.8" y1="134.0" x2="1053.8" y2="149.0" stroke="#E0E0E0" stroke-width="1.8"/>
<line x1="1053.8" y1="426.0" x2="1053.8" y2="445.0" stroke="#E0E0E0" stroke-width="1.8"/>
<line x1="1053.8" y1="470.0" x2="1053.8" y2="504.2" stroke="#E0E0E0" stroke-width="1.8"/>
<line x1="1053.8" y1="515.3" x2="1053.8" y2="529.8" stroke="#E0E0E0" stroke-width="1.8"/>
<line x1="1125.4" y1="125.0" x2="1125.4" y2="133.5" stroke="#BEBEBE" stroke-width="3"/>
<line x1="1125.4" y1="157.0" x2="1125.4" y2="178.7" stroke="#BEBEBE" stroke-width="3"/>
<line x1="1125.4" y1="189.1" x2="1125.4" y2="210.8" stroke="#BEBEBE" stroke-width="3"/>
<line x1="1125.4" y1="221.2" x2="1125.4" y2="242.9" stroke="#BEBEBE" stroke-width="3"/>
<line x1="1125.4" y1="253.3" x2="1125.4" y2="275.0" stroke="#BEBEBE" stroke-width="3"/>
<line x1="1125.4" y1="285.4" x2="1125.4" y2="307.1" stroke="#BEBEBE" stroke-width="3"/>
<line x1="1125.4" y1="317.5" x2="1125.4" y2="339.2" stroke="#BEBEBE" stroke-width="3"/>
<line x1="1125.4" y1="349.6" x2="1125.4" y2="371.3" stroke="#BEBEBE" stroke-width="3"/>
<line x1="1125.4" y1="381.7" x2="1125.4" y2="403.4" stroke="#BEBEBE" stroke-width="3"/>
<line x1="1125.4" y1="414.4" x2="1125.4" y2="425.6" stroke="#BEBEBE" stroke-width="3"/>
<line x1="1125.4" y1="446.1" x2="1125.4" y2="467.8" stroke="#BEBEBE" stroke-width="3"/>
<line x1="1125.4" y1="510.7" x2="1125.4" y2="514.7" stroke="#BEBEBE" stroke-width="3"/>
<line x1="1125.4" y1="530.0" x2="1125.4" y2="533.0" stroke="#BEBEBE" stroke-width="3"/>
<line x1="572.4" y1="24.7" x2="572.4" y2="533.9" stroke="#111" stroke-width="0.9"/>
<line x1="571.9" y1="533.4" x2="1477.0" y2="533.4" stroke="#444" stroke-width="0.9"/>
<line x1="570.2" y1="84.4" x2="572.4" y2="84.4" stroke="#333" stroke-width="1"/>
<text x="568.3" y="92.8" font-size="23.6" fill="#4D4D4D" text-anchor="end" font-weight="normal" font-family="'Liberation Sans', sans-serif">0.20</text>
<line x1="570.2" y1="208.7" x2="572.4" y2="208.7" stroke="#333" stroke-width="1"/>
<text x="568.3" y="217.1" font-size="23.6" fill="#4D4D4D" text-anchor="end" font-weight="normal" font-family="'Liberation Sans', sans-serif">0.15</text>
<line x1="570.2" y1="333.0" x2="572.4" y2="333.0" stroke="#333" stroke-width="1"/>
<text x="568.3" y="341.4" font-size="23.6" fill="#4D4D4D" text-anchor="end" font-weight="normal" font-family="'Liberation Sans', sans-serif">0.10</text>
<line x1="570.2" y1="457.3" x2="572.4" y2="457.3" stroke="#333" stroke-width="1"/>
<text x="568.3" y="465.7" font-size="23.6" fill="#4D4D4D" text-anchor="end" font-weight="normal" font-family="'Liberation Sans', sans-serif">0.05</text>
<line x1="686.6" y1="533.4" x2="686.6" y2="535.8" stroke="#333" stroke-width="1"/>
<text x="686.6" y="553.8" font-size="23.6" fill="#4D4D4D" text-anchor="middle" font-weight="normal" font-family="'Liberation Sans', sans-serif">25</text>
<line x1="869.6" y1="533.4" x2="869.6" y2="535.8" stroke="#333" stroke-width="1"/>
<text x="869.6" y="553.8" font-size="23.6" fill="#4D4D4D" text-anchor="middle" font-weight="normal" font-family="'Liberation Sans', sans-serif">30</text>
<line x1="1052.6" y1="533.4" x2="1052.6" y2="535.8" stroke="#333" stroke-width="1"/>
<text x="1052.6" y="553.8" font-size="23.6" fill="#4D4D4D" text-anchor="middle" font-weight="normal" font-family="'Liberation Sans', sans-serif">35</text>
<line x1="1235.6" y1="533.4" x2="1235.6" y2="535.8" stroke="#333" stroke-width="1"/>
<text x="1235.6" y="553.8" font-size="23.6" fill="#4D4D4D" text-anchor="middle" font-weight="normal" font-family="'Liberation Sans', sans-serif">40</text>
<line x1="1418.6" y1="533.4" x2="1418.6" y2="535.8" stroke="#333" stroke-width="1"/>
<text x="1418.6" y="553.8" font-size="23.6" fill="#4D4D4D" text-anchor="middle" font-weight="normal" font-family="'Liberation Sans', sans-serif">45</text>
<text x="1000.0" y="581.0" font-size="28.7" fill="#000" text-anchor="middle" font-weight="normal" font-family="'Liberation Sans', sans-serif">Weeks</text>
<text transform="translate(514.5,307.5) rotate(-90)" font-size="28.7" font-family="'Liberation Sans', sans-serif">Energy</text>
<rect x="1128.8" y="50" width="25" height="15" fill="#0072B2"/>
<rect x="1128.8" y="80" width="25" height="15" fill="#E69F00"/>
<text x="1165.2" y="67.0" font-size="26.6" fill="#000" text-anchor="start" font-weight="normal" font-family="'DejaVu Sans', sans-serif">GA at Birth</text>
<text x="1165.2" y="97.0" font-size="26.5" fill="#000" text-anchor="start" font-weight="normal" font-family="'DejaVu Sans', sans-serif">Postmenstrual Age</text>
<text x="1208.0" y="230.0" font-size="54" fill="#0072B2" text-anchor="start" font-weight="normal" font-family="'DejaVu Sans', sans-serif">**</text>
<text x="1340.0" y="230.0" font-size="54" fill="#E69F00" text-anchor="start" font-weight="normal" font-family="'DejaVu Sans', sans-serif">***</text>
</g>
<g id="panel-b">
<path d="M1.6,1308.7 V658.8 A60,60 0 0 1 61.6,598.8 H1934.3 A64,64 0 0 1 1998.3,662.8 V1306.7 A62,62 0 0 1 1936.3,1368.7 H61.6 A60,60 0 0 1 1.6,1308.7" fill="none" stroke="#000" stroke-width="4.6" stroke-dasharray="16 12.07" stroke-dashoffset="-0.6"/>
<text x="29.8" y="636.7" font-size="27.5" fill="#000" text-anchor="start" font-weight="bold" font-family="'Liberation Sans', sans-serif">b</text>
<text x="1000.7" y="637.0" font-size="28.3" fill="#000" text-anchor="middle" font-weight="bold" font-family="'Liberation Sans', sans-serif">Model Parameters</text>
<path d="M205.2,662.9C206.5,663.7 210.6,666.1 213.2,667.7C215.9,669.3 218.6,670.9 221.3,672.5C224.0,674.1 226.7,675.7 229.3,677.3C232.0,678.9 234.7,680.5 237.4,682.1C240.1,683.7 242.8,685.3 245.4,686.9C248.1,688.6 250.8,690.3 253.5,692.0C256.2,693.7 258.8,695.3 261.5,697.0C264.2,698.7 266.9,700.4 269.6,702.0C272.3,703.7 274.9,705.4 277.6,707.1C280.3,708.8 283.0,710.4 285.7,712.1C288.4,713.8 291.0,715.5 293.7,717.2C296.4,718.9 299.1,720.6 301.8,722.3C304.5,724.0 307.1,725.7 309.8,727.4C312.5,729.1 315.2,730.9 317.9,732.7C320.5,734.5 323.2,736.4 325.9,738.2C328.6,740.1 331.3,742.0 334.0,743.7C336.6,745.5 339.3,747.2 342.0,748.8C344.7,750.5 347.4,752.1 350.1,753.7C352.7,755.3 355.4,757.0 358.1,758.6C360.8,760.1 363.5,761.6 366.1,763.1C368.8,764.7 371.5,766.1 374.2,767.6C376.9,769.1 379.6,770.7 382.2,772.1C384.9,773.4 387.6,774.5 390.3,775.7C393.0,776.9 395.7,778.0 398.3,779.2C401.0,780.3 403.7,781.5 406.4,782.7C409.1,783.8 411.8,784.8 414.4,785.8C417.1,786.9 419.8,787.9 422.5,789.0C425.2,790.0 427.8,791.1 430.5,792.1C433.2,793.1 435.9,793.9 438.6,794.8C441.3,795.7 443.9,796.6 446.6,797.6C449.3,798.5 452.0,799.4 454.7,800.3C457.4,801.2 460.0,802.1 462.7,803.0C465.4,803.9 468.1,804.9 470.8,805.7C473.4,806.5 476.1,807.2 478.8,807.9C481.5,808.7 484.2,809.4 486.9,810.2C489.5,810.9 492.2,811.6 494.9,812.4C497.6,813.1 500.3,813.9 503.0,814.6C505.6,815.3 508.3,816.1 511.0,816.8C513.7,817.5 516.4,818.1 519.1,818.8C521.7,819.4 524.4,820.1 527.1,820.8C529.8,821.5 532.5,822.1 535.1,822.8C537.8,823.5 540.5,824.1 543.2,824.8C545.9,825.5 548.6,826.2 551.2,826.7C553.9,827.3 556.6,827.7 559.3,828.2C562.0,828.7 564.7,829.2 567.3,829.6C570.0,830.1 572.7,830.6 575.4,831.1C578.1,831.6 580.7,832.1 583.4,832.6C586.1,833.1 588.8,833.5 591.5,834.0C594.2,834.5 596.8,835.0 599.5,835.5C602.2,835.9 604.9,836.6 607.6,836.7C610.3,836.8 612.9,836.3 615.6,836.1C618.3,836.0 621.0,835.7 623.7,835.6C626.4,835.4 629.0,835.3 631.7,835.2C634.4,835.0 637.1,835.0 639.8,834.8C642.4,834.7 645.1,834.5 647.8,834.2C650.5,834.0 653.2,833.6 655.9,833.3C658.5,833.0 661.2,832.6 663.9,832.3C666.6,831.9 669.3,831.6 672.0,831.2C674.6,830.9 678.7,830.4 680.0,830.2L680.0,854.2C678.7,854.0 674.6,853.5 672.0,853.1C669.3,852.7 666.6,852.3 663.9,852.0C661.2,851.6 658.5,851.2 655.9,850.9C653.2,850.5 650.5,850.1 647.8,849.9C645.1,849.6 642.4,849.4 639.8,849.2C637.1,848.9 634.4,848.6 631.7,848.2C629.0,847.9 626.4,847.6 623.7,847.3C621.0,846.9 618.3,846.5 615.6,846.1C612.9,845.7 610.3,845.4 607.6,844.9C604.9,844.5 602.2,843.9 599.5,843.4C596.8,842.8 594.2,842.3 591.5,841.8C588.8,841.2 586.1,840.7 583.4,840.2C580.7,839.6 578.1,839.1 575.4,838.6C572.7,838.0 570.0,837.5 567.3,837.0C564.7,836.4 562.0,835.9 559.3,835.4C556.6,834.8 553.9,834.3 551.2,833.7C548.6,833.2 545.9,832.7 543.2,832.1C540.5,831.6 537.8,831.1 535.1,830.5C532.5,830.0 529.8,829.5 527.1,828.9C524.4,828.4 521.7,827.9 519.1,827.3C516.4,826.8 513.7,826.3 511.0,825.7C508.3,825.2 505.6,824.6 503.0,824.0C500.3,823.4 497.6,822.7 494.9,822.1C492.2,821.5 489.5,820.9 486.9,820.3C484.2,819.7 481.5,819.1 478.8,818.5C476.1,817.9 473.4,817.3 470.8,816.7C468.1,816.0 465.4,815.3 462.7,814.6C460.0,813.9 457.4,813.1 454.7,812.4C452.0,811.7 449.3,811.0 446.6,810.3C443.9,809.6 441.3,808.9 438.6,808.2C435.9,807.5 433.2,806.8 430.5,806.0C427.8,805.3 425.2,804.3 422.5,803.5C419.8,802.6 417.1,801.7 414.4,800.8C411.8,800.0 409.1,799.1 406.4,798.2C403.7,797.3 401.0,796.2 398.3,795.2C395.7,794.3 393.0,793.3 390.3,792.3C387.6,791.3 384.9,790.4 382.2,789.2C379.6,788.1 376.9,786.8 374.2,785.6C371.5,784.4 368.8,783.2 366.1,782.0C363.5,780.8 360.8,779.6 358.1,778.3C355.4,777.0 352.7,775.6 350.1,774.3C347.4,773.0 344.7,771.6 342.0,770.3C339.3,768.9 336.6,767.6 334.0,766.2C331.3,764.9 328.6,763.5 325.9,762.1C323.2,760.7 320.5,759.3 317.9,758.0C315.2,756.6 312.5,755.3 309.8,754.1C307.1,752.8 304.5,751.6 301.8,750.3C299.1,749.1 296.4,747.7 293.7,746.6C291.0,745.4 288.4,744.4 285.7,743.5C283.0,742.5 280.3,741.7 277.6,740.9C274.9,740.0 272.3,739.1 269.6,738.3C266.9,737.4 264.2,736.5 261.5,735.6C258.8,734.8 256.2,733.9 253.5,733.0C250.8,732.1 248.1,731.2 245.4,730.4C242.8,729.6 240.1,729.0 237.4,728.4C234.7,727.7 232.0,727.1 229.3,726.5C226.7,725.9 224.0,725.3 221.3,724.6C218.6,724.0 215.9,723.4 213.2,722.8C210.6,722.1 206.5,721.2 205.2,720.9Z" fill="#D3D3D3" fill-opacity="0.45"/>
<g fill="#E69F00" fill-opacity="0.55"><circle cx="512.1" cy="774.2" r="5.0"/><circle cx="522.0" cy="873.9" r="5.0"/><circle cx="517.0" cy="822.2" r="5.0"/><circle cx="552.0" cy="853.8" r="5.0"/><circle cx="658.6" cy="845.7" r="5.0"/><circle cx="501.6" cy="832.7" r="5.0"/><circle cx="632.7" cy="869.0" r="5.0"/><circle cx="649.1" cy="850.4" r="5.0"/><circle cx="565.8" cy="834.2" r="5.0"/><circle cx="548.0" cy="835.6" r="5.0"/><circle cx="608.4" cy="874.0" r="5.0"/><circle cx="646.6" cy="862.2" r="5.0"/><circle cx="630.0" cy="876.6" r="5.0"/><circle cx="666.2" cy="854.0" r="5.0"/><circle cx="560.9" cy="870.7" r="5.0"/><circle cx="539.0" cy="836.4" r="5.0"/><circle cx="495.5" cy="812.6" r="5.0"/><circle cx="524.6" cy="791.6" r="5.0"/><circle cx="565.3" cy="828.8" r="5.0"/><circle cx="594.0" cy="840.6" r="5.0"/><circle cx="516.4" cy="814.2" r="5.0"/><circle cx="626.1" cy="827.4" r="5.0"/><circle cx="578.8" cy="838.7" r="5.0"/><circle cx="551.0" cy="832.9" r="5.0"/><circle cx="544.6" cy="795.4" r="5.0"/><circle cx="592.8" cy="860.9" r="5.0"/><circle cx="537.8" cy="831.8" r="5.0"/><circle cx="534.9" cy="855.3" r="5.0"/><circle cx="678.7" cy="859.3" r="5.0"/><circle cx="554.3" cy="789.9" r="5.0"/><circle cx="645.3" cy="864.6" r="5.0"/><circle cx="657.4" cy="829.5" r="5.0"/><circle cx="653.7" cy="783.2" r="5.0"/><circle cx="573.3" cy="821.5" r="5.0"/><circle cx="528.2" cy="832.0" r="5.0"/><circle cx="556.0" cy="855.9" r="5.0"/><circle cx="613.0" cy="871.0" r="5.0"/><circle cx="603.3" cy="869.3" r="5.0"/><circle cx="606.0" cy="815.4" r="5.0"/><circle cx="546.7" cy="811.6" r="5.0"/><circle cx="650.0" cy="882.1" r="5.0"/><circle cx="661.5" cy="826.7" r="5.0"/><circle cx="678.6" cy="863.2" r="5.0"/><circle cx="635.6" cy="791.6" r="5.0"/><circle cx="620.3" cy="801.0" r="5.0"/><circle cx="629.5" cy="824.5" r="5.0"/><circle cx="614.1" cy="854.6" r="5.0"/><circle cx="612.5" cy="791.7" r="5.0"/><circle cx="628.5" cy="817.8" r="5.0"/><circle cx="496.0" cy="785.4" r="5.0"/><circle cx="567.4" cy="818.7" r="5.0"/><circle cx="609.2" cy="849.0" r="5.0"/><circle cx="475.5" cy="790.0" r="5.0"/><circle cx="509.8" cy="845.2" r="5.0"/><circle cx="665.7" cy="819.3" r="5.0"/><circle cx="529.5" cy="820.2" r="5.0"/><circle cx="560.1" cy="879.8" r="5.0"/><circle cx="603.4" cy="826.2" r="5.0"/><circle cx="559.5" cy="833.5" r="5.0"/><circle cx="539.7" cy="839.1" r="5.0"/><circle cx="557.5" cy="834.1" r="5.0"/><circle cx="562.0" cy="810.1" r="5.0"/><circle cx="554.2" cy="864.0" r="5.0"/><circle cx="593.5" cy="869.7" r="5.0"/><circle cx="667.0" cy="821.5" r="5.0"/><circle cx="602.4" cy="835.2" r="5.0"/><circle cx="667.8" cy="892.8" r="5.0"/><circle cx="622.2" cy="838.6" r="5.0"/><circle cx="627.1" cy="891.5" r="5.0"/><circle cx="614.3" cy="821.9" r="5.0"/><circle cx="568.7" cy="826.5" r="5.0"/><circle cx="605.8" cy="827.7" r="5.0"/><circle cx="599.7" cy="885.0" r="5.0"/><circle cx="526.8" cy="849.0" r="5.0"/><circle cx="622.6" cy="818.2" r="5.0"/><circle cx="613.8" cy="883.3" r="5.0"/><circle cx="603.0" cy="827.1" r="5.0"/><circle cx="555.3" cy="839.4" r="5.0"/><circle cx="659.7" cy="840.0" r="5.0"/><circle cx="580.4" cy="861.9" r="5.0"/><circle cx="471.9" cy="796.4" r="5.0"/><circle cx="617.5" cy="832.0" r="5.0"/><circle cx="548.0" cy="807.1" r="5.0"/><circle cx="619.5" cy="849.4" r="5.0"/><circle cx="578.8" cy="835.2" r="5.0"/><circle cx="642.5" cy="874.1" r="5.0"/><circle cx="596.1" cy="789.9" r="5.0"/><circle cx="598.5" cy="850.9" r="5.0"/><circle cx="591.8" cy="817.0" r="5.0"/><circle cx="647.5" cy="876.1" r="5.0"/><circle cx="517.3" cy="831.1" r="5.0"/><circle cx="644.7" cy="825.6" r="5.0"/><circle cx="619.6" cy="828.3" r="5.0"/><circle cx="555.5" cy="839.7" r="5.0"/><circle cx="583.9" cy="811.1" r="5.0"/><circle cx="561.1" cy="829.1" r="5.0"/><circle cx="587.1" cy="806.8" r="5.0"/><circle cx="632.5" cy="848.6" r="5.0"/><circle cx="549.1" cy="810.9" r="5.0"/><circle cx="622.4" cy="854.7" r="5.0"/><circle cx="632.5" cy="804.6" r="5.0"/><circle cx="616.9" cy="840.7" r="5.0"/><circle cx="664.6" cy="839.9" r="5.0"/><circle cx="580.4" cy="851.7" r="5.0"/><circle cx="619.8" cy="811.4" r="5.0"/><circle cx="585.5" cy="831.5" r="5.0"/><circle cx="576.9" cy="840.9" r="5.0"/><circle cx="584.3" cy="797.7" r="5.0"/><circle cx="614.3" cy="862.4" r="5.0"/><circle cx="552.2" cy="801.4" r="5.0"/><circle cx="571.4" cy="790.2" r="5.0"/><circle cx="493.7" cy="866.1" r="5.0"/><circle cx="530.0" cy="799.1" r="5.0"/><circle cx="531.5" cy="809.7" r="5.0"/><circle cx="524.3" cy="818.2" r="5.0"/><circle cx="561.2" cy="821.7" r="5.0"/><circle cx="619.8" cy="876.3" r="5.0"/><circle cx="564.3" cy="818.3" r="5.0"/><circle cx="515.9" cy="815.8" r="5.0"/><circle cx="596.5" cy="881.8" r="5.0"/><circle cx="592.8" cy="843.8" r="5.0"/><circle cx="511.8" cy="856.4" r="5.0"/><circle cx="591.7" cy="835.4" r="5.0"/><circle cx="528.8" cy="851.2" r="5.0"/><circle cx="551.5" cy="827.5" r="5.0"/><circle cx="546.1" cy="870.7" r="5.0"/><circle cx="626.3" cy="857.6" r="5.0"/><circle cx="541.5" cy="840.6" r="5.0"/><circle cx="567.5" cy="840.2" r="5.0"/><circle cx="593.4" cy="806.3" r="5.0"/><circle cx="637.2" cy="886.4" r="5.0"/><circle cx="644.9" cy="818.7" r="5.0"/><circle cx="531.5" cy="834.5" r="5.0"/><circle cx="645.0" cy="851.0" r="5.0"/><circle cx="599.4" cy="848.9" r="5.0"/><circle cx="645.6" cy="847.0" r="5.0"/><circle cx="638.3" cy="845.0" r="5.0"/><circle cx="556.6" cy="807.8" r="5.0"/><circle cx="586.0" cy="800.6" r="5.0"/><circle cx="568.9" cy="823.6" r="5.0"/><circle cx="603.3" cy="839.0" r="5.0"/><circle cx="669.2" cy="825.8" r="5.0"/><circle cx="586.9" cy="825.5" r="5.0"/><circle cx="549.9" cy="777.9" r="5.0"/><circle cx="532.8" cy="853.4" r="5.0"/><circle cx="584.1" cy="876.4" r="5.0"/><circle cx="583.3" cy="844.3" r="5.0"/><circle cx="518.6" cy="814.7" r="5.0"/><circle cx="624.9" cy="848.4" r="5.0"/><circle cx="638.8" cy="836.4" r="5.0"/><circle cx="579.9" cy="859.0" r="5.0"/><circle cx="587.0" cy="857.6" r="5.0"/><circle cx="575.7" cy="875.1" r="5.0"/><circle cx="493.3" cy="836.2" r="5.0"/><circle cx="596.6" cy="847.9" r="5.0"/><circle cx="520.0" cy="814.8" r="5.0"/><circle cx="534.8" cy="855.7" r="5.0"/><circle cx="604.5" cy="890.6" r="5.0"/><circle cx="631.7" cy="833.3" r="5.0"/><circle cx="539.4" cy="776.0" r="5.0"/><circle cx="642.8" cy="840.9" r="5.0"/><circle cx="675.1" cy="842.0" r="5.0"/><circle cx="592.9" cy="869.6" r="5.0"/><circle cx="580.2" cy="833.0" r="5.0"/><circle cx="594.6" cy="797.0" r="5.0"/><circle cx="563.5" cy="891.5" r="5.0"/><circle cx="540.2" cy="802.3" r="5.0"/><circle cx="617.4" cy="899.8" r="5.0"/><circle cx="621.2" cy="802.1" r="5.0"/><circle cx="558.4" cy="811.2" r="5.0"/><circle cx="563.4" cy="844.0" r="5.0"/><circle cx="552.2" cy="825.0" r="5.0"/><circle cx="548.2" cy="785.0" r="5.0"/><circle cx="534.4" cy="859.2" r="5.0"/><circle cx="506.7" cy="789.0" r="5.0"/><circle cx="630.7" cy="827.1" r="5.0"/><circle cx="566.2" cy="834.9" r="5.0"/><circle cx="587.7" cy="798.0" r="5.0"/><circle cx="676.3" cy="890.4" r="5.0"/><circle cx="559.2" cy="836.8" r="5.0"/><circle cx="613.8" cy="876.5" r="5.0"/><circle cx="514.8" cy="825.1" r="5.0"/><circle cx="552.0" cy="816.8" r="5.0"/><circle cx="619.7" cy="888.3" r="5.0"/><circle cx="570.6" cy="827.6" r="5.0"/><circle cx="510.5" cy="814.6" r="5.0"/><circle cx="505.2" cy="838.0" r="5.0"/><circle cx="601.1" cy="843.6" r="5.0"/><circle cx="536.1" cy="797.6" r="5.0"/><circle cx="618.6" cy="833.8" r="5.0"/><circle cx="597.8" cy="794.4" r="5.0"/><circle cx="567.3" cy="864.5" r="5.0"/><circle cx="580.3" cy="872.8" r="5.0"/><circle cx="622.1" cy="809.0" r="5.0"/><circle cx="585.3" cy="876.1" r="5.0"/><circle cx="535.1" cy="793.7" r="5.0"/><circle cx="600.6" cy="841.5" r="5.0"/><circle cx="565.5" cy="815.4" r="5.0"/><circle cx="571.8" cy="845.3" r="5.0"/><circle cx="612.7" cy="812.9" r="5.0"/><circle cx="600.3" cy="803.1" r="5.0"/><circle cx="635.4" cy="808.7" r="5.0"/><circle cx="574.1" cy="821.7" r="5.0"/><circle cx="560.4" cy="870.3" r="5.0"/><circle cx="566.3" cy="806.6" r="5.0"/><circle cx="602.8" cy="837.8" r="5.0"/><circle cx="542.7" cy="791.7" r="5.0"/><circle cx="565.4" cy="876.2" r="5.0"/><circle cx="540.8" cy="815.9" r="5.0"/><circle cx="544.3" cy="841.6" r="5.0"/><circle cx="574.7" cy="836.0" r="5.0"/><circle cx="564.4" cy="808.4" r="5.0"/><circle cx="596.8" cy="816.0" r="5.0"/><circle cx="588.6" cy="797.4" r="5.0"/><circle cx="575.0" cy="821.7" r="5.0"/><circle cx="585.4" cy="821.3" r="5.0"/><circle cx="570.7" cy="824.9" r="5.0"/><circle cx="664.8" cy="874.4" r="5.0"/><circle cx="616.6" cy="810.7" r="5.0"/><circle cx="540.1" cy="850.8" r="5.0"/><circle cx="551.2" cy="844.6" r="5.0"/><circle cx="560.7" cy="819.7" r="5.0"/><circle cx="529.2" cy="844.2" r="5.0"/><circle cx="641.8" cy="854.9" r="5.0"/><circle cx="604.7" cy="865.3" r="5.0"/><circle cx="610.6" cy="872.7" r="5.0"/><circle cx="532.3" cy="844.2" r="5.0"/><circle cx="607.4" cy="826.3" r="5.0"/><circle cx="557.0" cy="839.7" r="5.0"/><circle cx="579.4" cy="840.2" r="5.0"/><circle cx="598.2" cy="836.9" r="5.0"/><circle cx="604.9" cy="812.5" r="5.0"/><circle cx="560.2" cy="802.0" r="5.0"/><circle cx="564.4" cy="821.3" r="5.0"/><circle cx="564.2" cy="839.9" r="5.0"/><circle cx="626.8" cy="816.7" r="5.0"/><circle cx="547.4" cy="837.8" r="5.0"/><circle cx="576.0" cy="840.1" r="5.0"/><circle cx="600.5" cy="831.0" r="5.0"/><circle cx="563.5" cy="846.2" r="5.0"/><circle cx="515.4" cy="852.9" r="5.0"/><circle cx="524.1" cy="858.7" r="5.0"/><circle cx="563.1" cy="840.8" r="5.0"/><circle cx="535.4" cy="820.4" r="5.0"/><circle cx="632.2" cy="823.4" r="5.0"/><circle cx="584.6" cy="858.0" r="5.0"/><circle cx="582.5" cy="829.6" r="5.0"/><circle cx="533.2" cy="824.7" r="5.0"/><circle cx="610.1" cy="852.6" r="5.0"/><circle cx="565.8" cy="852.5" r="5.0"/><circle cx="536.0" cy="848.9" r="5.0"/><circle cx="551.7" cy="825.1" r="5.0"/><circle cx="553.2" cy="785.8" r="5.0"/><circle cx="540.2" cy="836.3" r="5.0"/><circle cx="641.3" cy="802.8" r="5.0"/><circle cx="620.5" cy="867.7" r="5.0"/><circle cx="569.3" cy="842.7" r="5.0"/><circle cx="652.5" cy="845.3" r="5.0"/><circle cx="510.2" cy="826.0" r="5.0"/><circle cx="559.5" cy="828.0" r="5.0"/><circle cx="501.4" cy="819.2" r="5.0"/><circle cx="651.8" cy="845.1" r="5.0"/><circle cx="585.5" cy="861.6" r="5.0"/><circle cx="606.3" cy="823.9" r="5.0"/><circle cx="607.0" cy="836.3" r="5.0"/><circle cx="526.6" cy="814.5" r="5.0"/><circle cx="523.9" cy="787.6" r="5.0"/><circle cx="558.3" cy="813.7" r="5.0"/><circle cx="627.6" cy="830.8" r="5.0"/><circle cx="530.1" cy="782.1" r="5.0"/><circle cx="624.2" cy="849.3" r="5.0"/><circle cx="627.1" cy="880.4" r="5.0"/><circle cx="535.4" cy="838.2" r="5.0"/><circle cx="603.0" cy="869.6" r="5.0"/><circle cx="636.9" cy="844.3" r="5.0"/><circle cx="639.2" cy="843.9" r="5.0"/><circle cx="502.1" cy="816.4" r="5.0"/><circle cx="583.5" cy="824.1" r="5.0"/><circle cx="541.5" cy="806.3" r="5.0"/><circle cx="628.1" cy="825.2" r="5.0"/><circle cx="584.4" cy="828.0" r="5.0"/><circle cx="519.1" cy="827.0" r="5.0"/><circle cx="584.6" cy="845.9" r="5.0"/><circle cx="609.0" cy="837.2" r="5.0"/><circle cx="501.4" cy="822.0" r="5.0"/><circle cx="511.1" cy="847.1" r="5.0"/><circle cx="544.7" cy="836.4" r="5.0"/><circle cx="563.3" cy="809.8" r="5.0"/><circle cx="549.9" cy="825.0" r="5.0"/><circle cx="486.4" cy="834.3" r="5.0"/><circle cx="499.5" cy="808.5" r="5.0"/><circle cx="576.2" cy="814.3" r="5.0"/><circle cx="598.8" cy="865.2" r="5.0"/><circle cx="533.5" cy="777.4" r="5.0"/><circle cx="586.5" cy="802.1" r="5.0"/><circle cx="672.9" cy="842.6" r="5.0"/><circle cx="567.9" cy="799.1" r="5.0"/><circle cx="556.4" cy="820.1" r="5.0"/><circle cx="543.3" cy="807.3" r="5.0"/><circle cx="602.6" cy="859.8" r="5.0"/><circle cx="590.7" cy="846.8" r="5.0"/><circle cx="592.0" cy="840.1" r="5.0"/><circle cx="560.7" cy="830.6" r="5.0"/><circle cx="600.5" cy="848.7" r="5.0"/><circle cx="600.9" cy="878.5" r="5.0"/><circle cx="572.9" cy="860.5" r="5.0"/><circle cx="638.6" cy="826.4" r="5.0"/><circle cx="502.2" cy="826.1" r="5.0"/><circle cx="616.6" cy="792.3" r="5.0"/><circle cx="574.6" cy="794.6" r="5.0"/><circle cx="623.4" cy="844.1" r="5.0"/><circle cx="677.1" cy="833.4" r="5.0"/><circle cx="584.0" cy="882.8" r="5.0"/><circle cx="572.0" cy="812.0" r="5.0"/><circle cx="580.8" cy="802.9" r="5.0"/><circle cx="651.8" cy="859.6" r="5.0"/><circle cx="660.0" cy="860.0" r="5.0"/><circle cx="590.8" cy="850.1" r="5.0"/><circle cx="615.2" cy="818.4" r="5.0"/><circle cx="673.5" cy="811.1" r="5.0"/><circle cx="610.1" cy="864.4" r="5.0"/><circle cx="507.4" cy="827.7" r="5.0"/><circle cx="542.0" cy="810.9" r="5.0"/><circle cx="558.9" cy="822.9" r="5.0"/><circle cx="603.4" cy="845.3" r="5.0"/><circle cx="555.2" cy="814.1" r="5.0"/><circle cx="654.0" cy="863.4" r="5.0"/><circle cx="559.9" cy="868.8" r="5.0"/><circle cx="663.4" cy="822.5" r="5.0"/><circle cx="551.0" cy="807.3" r="5.0"/><circle cx="652.5" cy="803.6" r="5.0"/><circle cx="594.1" cy="843.4" r="5.0"/><circle cx="656.7" cy="861.4" r="5.0"/><circle cx="673.7" cy="836.9" r="5.0"/><circle cx="638.1" cy="840.7" r="5.0"/><circle cx="547.5" cy="824.3" r="5.0"/><circle cx="544.4" cy="827.5" r="5.0"/><circle cx="660.6" cy="803.0" r="5.0"/><circle cx="650.2" cy="830.5" r="5.0"/><circle cx="638.0" cy="802.5" r="5.0"/><circle cx="528.7" cy="840.8" r="5.0"/><circle cx="552.4" cy="854.2" r="5.0"/><circle cx="630.8" cy="813.7" r="5.0"/><circle cx="504.4" cy="848.9" r="5.0"/><circle cx="555.7" cy="858.8" r="5.0"/><circle cx="649.5" cy="869.3" r="5.0"/><circle cx="639.6" cy="888.5" r="5.0"/><circle cx="532.0" cy="810.4" r="5.0"/><circle cx="582.8" cy="788.2" r="5.0"/><circle cx="644.3" cy="823.9" r="5.0"/><circle cx="493.3" cy="791.6" r="5.0"/><circle cx="626.2" cy="847.9" r="5.0"/><circle cx="508.0" cy="843.6" r="5.0"/><circle cx="619.1" cy="824.1" r="5.0"/><circle cx="573.6" cy="863.0" r="5.0"/><circle cx="636.9" cy="880.5" r="5.0"/><circle cx="560.2" cy="852.6" r="5.0"/><circle cx="568.2" cy="802.6" r="5.0"/><circle cx="567.8" cy="821.0" r="5.0"/><circle cx="536.7" cy="831.5" r="5.0"/><circle cx="435.5" cy="764.9" r="5.0"/><circle cx="431.2" cy="811.8" r="5.0"/><circle cx="432.0" cy="772.2" r="5.0"/><circle cx="448.2" cy="790.3" r="5.0"/><circle cx="442.5" cy="805.6" r="5.0"/><circle cx="443.0" cy="837.4" r="5.0"/><circle cx="463.5" cy="797.2" r="5.0"/><circle cx="442.8" cy="784.8" r="5.0"/><circle cx="461.3" cy="789.7" r="5.0"/><circle cx="469.1" cy="822.6" r="5.0"/><circle cx="450.3" cy="804.3" r="5.0"/><circle cx="453.9" cy="804.9" r="5.0"/><circle cx="445.2" cy="802.5" r="5.0"/><circle cx="431.7" cy="812.1" r="5.0"/><circle cx="459.9" cy="784.4" r="5.0"/><circle cx="446.9" cy="791.2" r="5.0"/><circle cx="451.4" cy="813.1" r="5.0"/><circle cx="434.6" cy="790.4" r="5.0"/><circle cx="470.6" cy="789.5" r="5.0"/><circle cx="464.2" cy="801.0" r="5.0"/><circle cx="445.8" cy="796.1" r="5.0"/><circle cx="452.8" cy="788.3" r="5.0"/><circle cx="461.9" cy="823.9" r="5.0"/><circle cx="458.8" cy="791.9" r="5.0"/><circle cx="461.2" cy="821.6" r="5.0"/><circle cx="470.1" cy="805.7" r="5.0"/><circle cx="466.5" cy="782.5" r="5.0"/><circle cx="457.7" cy="815.8" r="5.0"/><circle cx="468.2" cy="784.5" r="5.0"/><circle cx="442.2" cy="787.1" r="5.0"/><circle cx="446.1" cy="773.1" r="5.0"/><circle cx="456.1" cy="837.2" r="5.0"/><circle cx="469.7" cy="829.4" r="5.0"/><circle cx="453.0" cy="797.3" r="5.0"/><circle cx="451.0" cy="808.5" r="5.0"/><circle cx="431.7" cy="796.3" r="5.0"/><circle cx="465.4" cy="797.3" r="5.0"/><circle cx="459.2" cy="808.6" r="5.0"/><circle cx="453.7" cy="800.7" r="5.0"/><circle cx="457.2" cy="832.7" r="5.0"/><circle cx="448.3" cy="829.2" r="5.0"/><circle cx="450.1" cy="804.8" r="5.0"/><circle cx="456.3" cy="804.4" r="5.0"/><circle cx="458.1" cy="787.2" r="5.0"/><circle cx="463.7" cy="786.2" r="5.0"/><circle cx="205.2" cy="674.6" r="5.0"/><circle cx="209.0" cy="700.3" r="5.0"/><circle cx="224.4" cy="724.1" r="5.0"/><circle cx="220.2" cy="733.5" r="5.0"/><circle cx="275.6" cy="674.3" r="5.0"/><circle cx="301.5" cy="681.6" r="5.0"/><circle cx="341.7" cy="687.9" r="5.0"/><circle cx="301.5" cy="707.8" r="5.0"/><circle cx="319.5" cy="711.7" r="5.0"/><circle cx="268.8" cy="717.1" r="5.0"/><circle cx="286.8" cy="717.1" r="5.0"/><circle cx="272.1" cy="729.3" r="5.0"/><circle cx="289.8" cy="731.1" r="5.0"/><circle cx="312.5" cy="728.8" r="5.0"/><circle cx="360.4" cy="724.6" r="5.0"/><circle cx="345.2" cy="732.3" r="5.0"/><circle cx="375.1" cy="737.0" r="5.0"/><circle cx="375.1" cy="747.5" r="5.0"/><circle cx="393.1" cy="745.6" r="5.0"/><circle cx="290.3" cy="748.6" r="5.0"/><circle cx="316.4" cy="742.1" r="5.0"/><circle cx="333.5" cy="742.1" r="5.0"/><circle cx="348.7" cy="742.1" r="5.0"/><circle cx="316.0" cy="751.0" r="5.0"/><circle cx="327.2" cy="755.0" r="5.0"/><circle cx="338.2" cy="759.6" r="5.0"/><circle cx="352.2" cy="748.6" r="5.0"/><circle cx="363.9" cy="755.2" r="5.0"/><circle cx="305.0" cy="759.6" r="5.0"/><circle cx="319.5" cy="764.3" r="5.0"/><circle cx="327.2" cy="771.5" r="5.0"/><circle cx="351.0" cy="768.5" r="5.0"/><circle cx="355.7" cy="774.3" r="5.0"/><circle cx="367.9" cy="783.0" r="5.0"/><circle cx="360.4" cy="789.5" r="5.0"/><circle cx="352.2" cy="795.4" r="5.0"/><circle cx="378.6" cy="766.2" r="5.0"/><circle cx="378.6" cy="780.2" r="5.0"/><circle cx="386.1" cy="773.2" r="5.0"/><circle cx="393.1" cy="777.9" r="5.0"/><circle cx="404.3" cy="771.3" r="5.0"/><circle cx="401.3" cy="781.4" r="5.0"/><circle cx="396.6" cy="793.0" r="5.0"/><circle cx="382.1" cy="791.4" r="5.0"/><circle cx="374.9" cy="804.7" r="5.0"/><circle cx="382.1" cy="801.7" r="5.0"/><circle cx="400.6" cy="800.7" r="5.0"/><circle cx="415.3" cy="768.0" r="5.0"/><circle cx="422.3" cy="763.8" r="5.0"/><circle cx="428.1" cy="756.8" r="5.0"/><circle cx="416.4" cy="780.2" r="5.0"/><circle cx="423.5" cy="789.5" r="5.0"/><circle cx="408.3" cy="793.0" r="5.0"/><circle cx="414.6" cy="804.7" r="5.0"/><circle cx="370.9" cy="831.1" r="5.0"/><circle cx="386.1" cy="850.3" r="5.0"/><circle cx="389.6" cy="818.7" r="5.0"/><circle cx="434.2" cy="746.3" r="5.0"/><circle cx="492.8" cy="748.0" r="5.0"/><circle cx="544.0" cy="757.7" r="5.0"/><circle cx="679.9" cy="783.4" r="5.0"/><circle cx="679.9" cy="790.9" r="5.0"/><circle cx="624.7" cy="781.3" r="5.0"/><circle cx="643.4" cy="783.9" r="5.0"/><circle cx="646.9" cy="792.2" r="5.0"/><circle cx="632.0" cy="790.9" r="5.0"/><circle cx="661.8" cy="874.1" r="5.0"/><circle cx="661.8" cy="906.5" r="5.0"/><circle cx="643.1" cy="916.1" r="5.0"/><circle cx="650.8" cy="932.8" r="5.0"/><circle cx="625.0" cy="941.0" r="5.0"/><circle cx="580.9" cy="938.6" r="5.0"/><circle cx="580.9" cy="904.8" r="5.0"/><circle cx="586.5" cy="904.8" r="5.0"/><circle cx="590.9" cy="903.9" r="5.0"/><circle cx="613.7" cy="903.9" r="5.0"/><circle cx="613.7" cy="908.3" r="5.0"/><circle cx="627.7" cy="902.1" r="5.0"/><circle cx="628.5" cy="909.1" r="5.0"/><circle cx="635.6" cy="894.3" r="5.0"/><circle cx="639.9" cy="894.3" r="5.0"/><circle cx="639.9" cy="883.7" r="5.0"/><circle cx="540.1" cy="899.5" r="5.0"/><circle cx="477.1" cy="895.1" r="5.0"/><circle cx="503.3" cy="875.0" r="5.0"/><circle cx="469.2" cy="878.5" r="5.0"/></g>
<path d="M205.2,691.9C211.6,694.5 229.4,701.4 243.6,707.8C257.8,714.1 278.6,724.2 290.3,730.0C302.0,735.8 305.8,738.3 313.6,742.8C321.4,747.3 329.2,752.3 337.0,756.8C344.8,761.3 352.6,765.6 360.4,769.7C368.2,773.8 375.9,777.9 383.7,781.4C391.5,784.9 399.4,787.8 407.1,790.7C414.8,793.6 419.5,795.5 430.0,798.9C440.5,802.3 456.9,807.4 470.0,811.0C483.1,814.6 495.3,817.5 508.6,820.7C521.9,823.9 533.6,826.6 550.0,830.0C566.4,833.4 591.7,838.8 606.7,840.8C621.7,842.8 627.8,841.8 640.0,842.0C652.2,842.2 673.3,842.2 680.0,842.2" fill="none" stroke="#E69F00" stroke-width="3.5"/>
<path d="M109.9,821.5C111.3,821.7 115.5,822.2 118.3,822.5C121.1,822.9 123.9,823.2 126.7,823.6C129.5,823.9 132.4,824.3 135.2,824.6C138.0,825.0 140.8,825.3 143.6,825.7C146.4,826.0 149.2,826.4 152.0,826.7C154.8,827.1 157.6,827.5 160.4,827.8C163.2,828.0 166.0,828.2 168.8,828.4C171.6,828.7 174.5,828.9 177.3,829.1C180.1,829.4 182.9,829.6 185.7,829.8C188.5,830.0 191.3,830.3 194.1,830.5C196.9,830.7 199.7,831.0 202.5,831.2C205.3,831.4 208.1,831.6 210.9,831.9C213.8,832.1 216.6,832.3 219.4,832.5C222.2,832.7 225.0,832.9 227.8,833.0C230.6,833.2 233.4,833.4 236.2,833.5C239.0,833.7 241.8,833.9 244.6,834.0C247.4,834.2 250.2,834.3 253.0,834.5C255.9,834.7 258.7,834.8 261.5,835.0C264.3,835.2 267.1,835.3 269.9,835.5C272.7,835.6 275.5,835.8 278.3,836.0C281.1,836.1 283.9,836.3 286.7,836.4C289.5,836.6 292.3,836.8 295.1,836.9C298.0,837.1 300.8,837.3 303.6,837.4C306.4,837.6 309.2,837.8 312.0,837.9C314.8,838.0 317.6,838.1 320.4,838.1C323.2,838.2 326.0,838.2 328.8,838.3C331.6,838.3 334.4,838.4 337.2,838.4C340.1,838.5 342.9,838.5 345.7,838.5C348.5,838.6 351.3,838.6 354.1,838.7C356.9,838.7 359.7,838.8 362.5,838.8C365.3,838.9 368.1,838.9 370.9,839.0C373.7,839.0 376.5,839.1 379.4,839.1C382.2,839.2 385.0,839.2 387.8,839.1C390.6,839.1 393.4,839.1 396.2,839.0C399.0,839.0 401.8,839.0 404.6,838.9C407.4,838.9 410.2,838.9 413.0,838.8C415.8,838.8 418.6,838.7 421.5,838.7C424.3,838.7 427.1,838.7 429.9,838.6C432.7,838.5 435.5,838.2 438.3,838.0C441.1,837.9 443.9,837.7 446.7,837.5C449.5,837.3 452.3,837.1 455.1,836.9C457.9,836.7 460.7,836.5 463.6,836.3C466.4,836.1 469.2,835.9 472.0,835.6C474.8,835.3 477.6,834.9 480.4,834.5C483.2,834.1 486.0,833.7 488.8,833.4C491.6,833.0 494.4,832.6 497.2,832.2C500.0,831.8 502.8,831.5 505.7,831.1C508.5,830.7 511.3,830.3 514.1,830.0C516.9,829.6 519.7,829.3 522.5,828.8C525.3,828.3 528.1,827.7 530.9,827.1C533.7,826.5 536.5,826.0 539.3,825.4C542.1,824.8 545.0,824.3 547.8,823.7C550.6,823.1 553.4,822.6 556.2,822.0C559.0,821.4 561.8,820.9 564.6,820.3C567.4,819.7 570.2,819.1 573.0,818.4C575.8,817.8 578.6,817.1 581.4,816.4C584.2,815.7 587.1,815.0 589.9,814.3C592.7,813.6 595.5,812.9 598.3,812.2C601.1,811.5 605.3,810.4 606.7,810.1L606.7,819.1C605.3,819.3 601.1,820.0 598.3,820.5C595.5,821.0 592.7,821.4 589.9,821.9C587.1,822.4 584.2,822.8 581.4,823.3C578.6,823.8 575.8,824.2 573.0,824.7C570.2,825.2 567.4,825.8 564.6,826.3C561.8,826.9 559.0,827.5 556.2,828.1C553.4,828.7 550.6,829.3 547.8,829.9C545.0,830.5 542.1,831.1 539.3,831.7C536.5,832.3 533.7,832.9 530.9,833.4C528.1,834.0 525.3,834.6 522.5,835.2C519.7,835.8 516.9,836.5 514.1,837.1C511.3,837.7 508.5,838.3 505.7,839.0C502.8,839.6 500.0,840.2 497.2,840.8C494.4,841.5 491.6,842.1 488.8,842.7C486.0,843.3 483.2,844.0 480.4,844.6C477.6,845.2 474.8,845.9 472.0,846.5C469.2,847.0 466.4,847.4 463.6,847.8C460.7,848.2 457.9,848.6 455.1,849.0C452.3,849.4 449.5,849.8 446.7,850.2C443.9,850.6 441.1,851.0 438.3,851.4C435.5,851.8 432.7,852.3 429.9,852.6C427.1,852.9 424.3,852.9 421.5,853.1C418.6,853.2 415.8,853.4 413.0,853.6C410.2,853.7 407.4,853.9 404.6,854.0C401.8,854.2 399.0,854.3 396.2,854.5C393.4,854.7 390.6,854.8 387.8,855.0C385.0,855.1 382.2,855.2 379.4,855.3C376.5,855.4 373.7,855.5 370.9,855.5C368.1,855.6 365.3,855.7 362.5,855.7C359.7,855.8 356.9,855.9 354.1,856.0C351.3,856.0 348.5,856.1 345.7,856.2C342.9,856.2 340.1,856.3 337.2,856.4C334.4,856.5 331.6,856.5 328.8,856.6C326.0,856.7 323.2,856.8 320.4,856.8C317.6,856.9 314.8,857.0 312.0,857.0C309.2,857.1 306.4,857.1 303.6,857.2C300.8,857.2 298.0,857.3 295.1,857.3C292.3,857.4 289.5,857.4 286.7,857.5C283.9,857.5 281.1,857.6 278.3,857.6C275.5,857.6 272.7,857.7 269.9,857.7C267.1,857.8 264.3,857.8 261.5,857.9C258.7,857.9 255.9,858.0 253.0,858.0C250.2,858.1 247.4,858.1 244.6,858.2C241.8,858.2 239.0,858.3 236.2,858.3C233.4,858.4 230.6,858.4 227.8,858.5C225.0,858.5 222.2,858.5 219.4,858.6C216.6,858.7 213.8,858.9 210.9,859.1C208.1,859.2 205.3,859.4 202.5,859.5C199.7,859.7 196.9,859.8 194.1,859.9C191.3,860.1 188.5,860.2 185.7,860.4C182.9,860.5 180.1,860.7 177.3,860.8C174.5,861.0 171.6,861.1 168.8,861.3C166.0,861.4 163.2,861.5 160.4,861.7C157.6,861.9 154.8,862.2 152.0,862.5C149.2,862.8 146.4,863.0 143.6,863.3C140.8,863.6 138.0,863.8 135.2,864.1C132.4,864.4 129.5,864.6 126.7,864.9C123.9,865.2 121.1,865.4 118.3,865.7C115.5,866.0 111.3,866.4 109.9,866.5Z" fill="#D3D3D3" fill-opacity="0.45"/>
<g fill="#0072B2" fill-opacity="0.55"><circle cx="527.0" cy="807.7" r="5.0"/><circle cx="531.9" cy="822.4" r="5.0"/><circle cx="591.6" cy="807.7" r="5.0"/><circle cx="605.1" cy="849.3" r="5.0"/><circle cx="554.6" cy="843.8" r="5.0"/><circle cx="545.4" cy="819.7" r="5.0"/><circle cx="563.5" cy="835.9" r="5.0"/><circle cx="557.9" cy="831.2" r="5.0"/><circle cx="555.9" cy="827.0" r="5.0"/><circle cx="525.9" cy="789.0" r="5.0"/><circle cx="562.2" cy="855.3" r="5.0"/><circle cx="553.4" cy="803.1" r="5.0"/><circle cx="588.8" cy="800.8" r="5.0"/><circle cx="588.1" cy="814.2" r="5.0"/><circle cx="603.8" cy="840.1" r="5.0"/><circle cx="539.9" cy="831.4" r="5.0"/><circle cx="576.4" cy="839.4" r="5.0"/><circle cx="517.5" cy="811.7" r="5.0"/><circle cx="562.2" cy="827.1" r="5.0"/><circle cx="569.5" cy="821.7" r="5.0"/><circle cx="532.6" cy="859.7" r="5.0"/><circle cx="551.1" cy="793.4" r="5.0"/><circle cx="528.9" cy="893.7" r="5.0"/><circle cx="585.3" cy="752.5" r="5.0"/><circle cx="543.4" cy="863.0" r="5.0"/><circle cx="581.1" cy="844.2" r="5.0"/><circle cx="515.0" cy="853.8" r="5.0"/><circle cx="546.7" cy="878.2" r="5.0"/><circle cx="603.7" cy="793.0" r="5.0"/><circle cx="549.2" cy="857.2" r="5.0"/><circle cx="517.0" cy="869.6" r="5.0"/><circle cx="540.8" cy="806.8" r="5.0"/><circle cx="577.1" cy="814.3" r="5.0"/><circle cx="507.6" cy="896.8" r="5.0"/><circle cx="555.6" cy="878.1" r="5.0"/><circle cx="548.0" cy="839.0" r="5.0"/><circle cx="541.7" cy="834.4" r="5.0"/><circle cx="566.1" cy="814.1" r="5.0"/><circle cx="531.6" cy="843.5" r="5.0"/><circle cx="571.4" cy="793.2" r="5.0"/><circle cx="573.3" cy="796.7" r="5.0"/><circle cx="606.3" cy="809.4" r="5.0"/><circle cx="565.0" cy="828.8" r="5.0"/><circle cx="553.1" cy="798.1" r="5.0"/><circle cx="522.1" cy="796.2" r="5.0"/><circle cx="539.3" cy="825.9" r="5.0"/><circle cx="516.5" cy="840.4" r="5.0"/><circle cx="596.6" cy="799.3" r="5.0"/><circle cx="568.4" cy="843.1" r="5.0"/><circle cx="569.7" cy="816.9" r="5.0"/><circle cx="575.7" cy="803.1" r="5.0"/><circle cx="542.9" cy="865.8" r="5.0"/><circle cx="546.3" cy="855.3" r="5.0"/><circle cx="508.5" cy="897.5" r="5.0"/><circle cx="536.2" cy="851.6" r="5.0"/><circle cx="533.7" cy="820.5" r="5.0"/><circle cx="594.9" cy="836.4" r="5.0"/><circle cx="554.6" cy="816.3" r="5.0"/><circle cx="528.4" cy="834.6" r="5.0"/><circle cx="528.3" cy="858.8" r="5.0"/><circle cx="551.5" cy="790.1" r="5.0"/><circle cx="542.1" cy="836.9" r="5.0"/><circle cx="553.1" cy="799.9" r="5.0"/><circle cx="586.4" cy="809.8" r="5.0"/><circle cx="515.1" cy="838.2" r="5.0"/><circle cx="536.5" cy="780.8" r="5.0"/><circle cx="563.8" cy="837.2" r="5.0"/><circle cx="512.4" cy="854.6" r="5.0"/><circle cx="576.3" cy="784.4" r="5.0"/><circle cx="598.8" cy="806.9" r="5.0"/><circle cx="561.9" cy="847.9" r="5.0"/><circle cx="583.3" cy="832.0" r="5.0"/><circle cx="548.9" cy="866.3" r="5.0"/><circle cx="560.2" cy="808.8" r="5.0"/><circle cx="568.2" cy="789.8" r="5.0"/><circle cx="559.1" cy="810.0" r="5.0"/><circle cx="597.1" cy="795.7" r="5.0"/><circle cx="546.9" cy="788.4" r="5.0"/><circle cx="587.9" cy="813.5" r="5.0"/><circle cx="548.0" cy="848.9" r="5.0"/><circle cx="602.4" cy="835.6" r="5.0"/><circle cx="571.8" cy="810.4" r="5.0"/><circle cx="519.6" cy="825.1" r="5.0"/><circle cx="534.2" cy="822.5" r="5.0"/><circle cx="584.5" cy="852.4" r="5.0"/><circle cx="544.9" cy="827.4" r="5.0"/><circle cx="536.2" cy="785.7" r="5.0"/><circle cx="559.2" cy="821.8" r="5.0"/><circle cx="514.7" cy="796.6" r="5.0"/><circle cx="543.8" cy="817.3" r="5.0"/><circle cx="563.4" cy="830.0" r="5.0"/><circle cx="587.2" cy="782.3" r="5.0"/><circle cx="534.0" cy="777.5" r="5.0"/><circle cx="586.3" cy="796.6" r="5.0"/><circle cx="540.0" cy="788.4" r="5.0"/><circle cx="527.1" cy="840.5" r="5.0"/><circle cx="569.4" cy="851.8" r="5.0"/><circle cx="556.6" cy="875.1" r="5.0"/><circle cx="512.5" cy="829.6" r="5.0"/><circle cx="557.2" cy="777.5" r="5.0"/><circle cx="536.0" cy="842.4" r="5.0"/><circle cx="536.0" cy="868.2" r="5.0"/><circle cx="596.9" cy="811.8" r="5.0"/><circle cx="567.5" cy="820.2" r="5.0"/><circle cx="537.6" cy="828.2" r="5.0"/><circle cx="574.9" cy="849.9" r="5.0"/><circle cx="544.6" cy="781.2" r="5.0"/><circle cx="536.9" cy="847.2" r="5.0"/><circle cx="572.4" cy="828.9" r="5.0"/><circle cx="533.6" cy="877.4" r="5.0"/><circle cx="584.0" cy="804.4" r="5.0"/><circle cx="540.5" cy="778.8" r="5.0"/><circle cx="539.4" cy="799.2" r="5.0"/><circle cx="538.3" cy="866.8" r="5.0"/><circle cx="558.9" cy="805.1" r="5.0"/><circle cx="536.0" cy="865.1" r="5.0"/><circle cx="562.6" cy="834.4" r="5.0"/><circle cx="583.8" cy="834.6" r="5.0"/><circle cx="526.6" cy="812.4" r="5.0"/><circle cx="566.5" cy="811.1" r="5.0"/><circle cx="594.7" cy="829.9" r="5.0"/><circle cx="585.3" cy="826.4" r="5.0"/><circle cx="532.1" cy="790.8" r="5.0"/><circle cx="598.1" cy="864.1" r="5.0"/><circle cx="530.6" cy="850.1" r="5.0"/><circle cx="590.3" cy="757.9" r="5.0"/><circle cx="511.6" cy="832.3" r="5.0"/><circle cx="578.2" cy="850.5" r="5.0"/><circle cx="550.5" cy="810.5" r="5.0"/><circle cx="549.4" cy="798.6" r="5.0"/><circle cx="547.5" cy="855.1" r="5.0"/><circle cx="529.8" cy="833.4" r="5.0"/><circle cx="573.0" cy="836.6" r="5.0"/><circle cx="563.9" cy="798.8" r="5.0"/><circle cx="584.0" cy="808.1" r="5.0"/><circle cx="533.8" cy="844.2" r="5.0"/><circle cx="581.1" cy="789.6" r="5.0"/><circle cx="589.6" cy="829.0" r="5.0"/><circle cx="531.8" cy="764.2" r="5.0"/><circle cx="596.8" cy="775.4" r="5.0"/><circle cx="605.6" cy="819.9" r="5.0"/><circle cx="523.2" cy="821.2" r="5.0"/><circle cx="531.2" cy="791.8" r="5.0"/><circle cx="570.2" cy="803.1" r="5.0"/><circle cx="555.8" cy="853.7" r="5.0"/><circle cx="531.8" cy="843.8" r="5.0"/><circle cx="580.0" cy="833.7" r="5.0"/><circle cx="546.5" cy="834.9" r="5.0"/><circle cx="572.0" cy="874.9" r="5.0"/><circle cx="566.3" cy="802.3" r="5.0"/><circle cx="574.3" cy="817.0" r="5.0"/><circle cx="580.1" cy="816.4" r="5.0"/><circle cx="551.5" cy="833.1" r="5.0"/><circle cx="574.0" cy="805.6" r="5.0"/><circle cx="578.0" cy="840.6" r="5.0"/><circle cx="552.1" cy="837.2" r="5.0"/><circle cx="538.0" cy="815.2" r="5.0"/><circle cx="567.8" cy="843.3" r="5.0"/><circle cx="607.2" cy="766.4" r="5.0"/><circle cx="554.0" cy="802.8" r="5.0"/><circle cx="545.3" cy="824.5" r="5.0"/><circle cx="568.8" cy="816.1" r="5.0"/><circle cx="545.5" cy="807.5" r="5.0"/><circle cx="561.9" cy="834.8" r="5.0"/><circle cx="558.4" cy="787.1" r="5.0"/><circle cx="542.2" cy="816.0" r="5.0"/><circle cx="569.8" cy="801.2" r="5.0"/><circle cx="533.2" cy="874.0" r="5.0"/><circle cx="536.5" cy="876.2" r="5.0"/><circle cx="507.9" cy="773.3" r="5.0"/><circle cx="534.5" cy="835.6" r="5.0"/><circle cx="564.4" cy="835.2" r="5.0"/><circle cx="592.9" cy="773.7" r="5.0"/><circle cx="553.7" cy="805.1" r="5.0"/><circle cx="543.6" cy="805.7" r="5.0"/><circle cx="513.2" cy="778.6" r="5.0"/><circle cx="583.2" cy="807.9" r="5.0"/><circle cx="565.4" cy="827.6" r="5.0"/><circle cx="605.2" cy="826.5" r="5.0"/><circle cx="550.1" cy="889.0" r="5.0"/><circle cx="561.2" cy="826.5" r="5.0"/><circle cx="536.6" cy="832.7" r="5.0"/><circle cx="553.6" cy="844.1" r="5.0"/><circle cx="537.6" cy="856.8" r="5.0"/><circle cx="532.8" cy="842.4" r="5.0"/><circle cx="585.6" cy="836.4" r="5.0"/><circle cx="509.5" cy="848.5" r="5.0"/><circle cx="508.2" cy="813.8" r="5.0"/><circle cx="529.9" cy="842.9" r="5.0"/><circle cx="522.8" cy="814.0" r="5.0"/><circle cx="541.6" cy="838.1" r="5.0"/><circle cx="529.3" cy="849.2" r="5.0"/><circle cx="602.9" cy="830.4" r="5.0"/><circle cx="529.1" cy="790.6" r="5.0"/><circle cx="545.5" cy="813.5" r="5.0"/><circle cx="567.8" cy="809.8" r="5.0"/><circle cx="546.5" cy="836.2" r="5.0"/><circle cx="535.2" cy="843.6" r="5.0"/><circle cx="581.6" cy="760.3" r="5.0"/><circle cx="539.5" cy="775.4" r="5.0"/><circle cx="538.6" cy="853.7" r="5.0"/><circle cx="510.7" cy="861.0" r="5.0"/><circle cx="584.8" cy="834.0" r="5.0"/><circle cx="565.4" cy="837.9" r="5.0"/><circle cx="603.3" cy="787.2" r="5.0"/><circle cx="559.9" cy="780.1" r="5.0"/><circle cx="543.3" cy="828.9" r="5.0"/><circle cx="574.4" cy="848.3" r="5.0"/><circle cx="573.6" cy="791.5" r="5.0"/><circle cx="526.5" cy="785.2" r="5.0"/><circle cx="605.2" cy="860.3" r="5.0"/><circle cx="560.3" cy="815.1" r="5.0"/><circle cx="579.2" cy="849.3" r="5.0"/><circle cx="538.4" cy="857.9" r="5.0"/><circle cx="585.6" cy="846.9" r="5.0"/><circle cx="550.1" cy="783.9" r="5.0"/><circle cx="525.6" cy="821.1" r="5.0"/><circle cx="559.9" cy="846.0" r="5.0"/><circle cx="559.9" cy="826.7" r="5.0"/><circle cx="575.5" cy="810.0" r="5.0"/><circle cx="508.4" cy="879.6" r="5.0"/><circle cx="586.6" cy="799.8" r="5.0"/><circle cx="564.4" cy="855.5" r="5.0"/><circle cx="547.0" cy="852.1" r="5.0"/><circle cx="519.1" cy="784.5" r="5.0"/><circle cx="562.1" cy="792.0" r="5.0"/><circle cx="588.3" cy="785.2" r="5.0"/><circle cx="569.9" cy="831.4" r="5.0"/><circle cx="569.8" cy="787.6" r="5.0"/><circle cx="557.3" cy="819.8" r="5.0"/><circle cx="564.3" cy="842.0" r="5.0"/><circle cx="514.5" cy="821.0" r="5.0"/><circle cx="600.1" cy="831.4" r="5.0"/><circle cx="586.5" cy="828.5" r="5.0"/><circle cx="547.7" cy="853.9" r="5.0"/><circle cx="557.0" cy="789.4" r="5.0"/><circle cx="513.7" cy="838.2" r="5.0"/><circle cx="529.4" cy="875.1" r="5.0"/><circle cx="567.9" cy="850.9" r="5.0"/><circle cx="534.2" cy="855.0" r="5.0"/><circle cx="521.4" cy="867.2" r="5.0"/><circle cx="545.5" cy="833.7" r="5.0"/><circle cx="573.1" cy="826.3" r="5.0"/><circle cx="523.0" cy="780.9" r="5.0"/><circle cx="568.8" cy="778.7" r="5.0"/><circle cx="572.3" cy="866.6" r="5.0"/><circle cx="573.7" cy="778.8" r="5.0"/><circle cx="570.8" cy="855.5" r="5.0"/><circle cx="557.3" cy="794.3" r="5.0"/><circle cx="546.6" cy="823.7" r="5.0"/><circle cx="584.4" cy="820.2" r="5.0"/><circle cx="527.5" cy="823.5" r="5.0"/><circle cx="592.3" cy="840.9" r="5.0"/><circle cx="516.6" cy="873.1" r="5.0"/><circle cx="548.0" cy="771.2" r="5.0"/><circle cx="562.2" cy="872.2" r="5.0"/><circle cx="570.5" cy="800.5" r="5.0"/><circle cx="587.9" cy="849.2" r="5.0"/><circle cx="522.5" cy="820.1" r="5.0"/><circle cx="549.0" cy="829.5" r="5.0"/><circle cx="579.0" cy="817.0" r="5.0"/><circle cx="578.0" cy="847.1" r="5.0"/><circle cx="585.4" cy="809.2" r="5.0"/><circle cx="508.0" cy="778.3" r="5.0"/><circle cx="549.2" cy="803.2" r="5.0"/><circle cx="591.5" cy="777.6" r="5.0"/><circle cx="511.4" cy="851.7" r="5.0"/><circle cx="517.7" cy="844.0" r="5.0"/><circle cx="551.6" cy="801.0" r="5.0"/><circle cx="552.1" cy="876.7" r="5.0"/><circle cx="512.0" cy="802.3" r="5.0"/><circle cx="525.0" cy="833.7" r="5.0"/><circle cx="550.7" cy="834.0" r="5.0"/><circle cx="558.1" cy="778.3" r="5.0"/><circle cx="583.6" cy="846.3" r="5.0"/><circle cx="563.2" cy="779.0" r="5.0"/><circle cx="555.3" cy="862.9" r="5.0"/><circle cx="578.5" cy="860.9" r="5.0"/><circle cx="546.6" cy="798.0" r="5.0"/><circle cx="530.5" cy="796.7" r="5.0"/><circle cx="520.5" cy="879.2" r="5.0"/><circle cx="557.0" cy="823.0" r="5.0"/><circle cx="521.9" cy="771.4" r="5.0"/><circle cx="533.0" cy="830.2" r="5.0"/><circle cx="532.7" cy="871.2" r="5.0"/><circle cx="584.9" cy="831.1" r="5.0"/><circle cx="603.6" cy="816.8" r="5.0"/><circle cx="543.0" cy="835.1" r="5.0"/><circle cx="542.6" cy="864.6" r="5.0"/><circle cx="588.8" cy="839.3" r="5.0"/><circle cx="557.6" cy="814.3" r="5.0"/><circle cx="546.1" cy="808.3" r="5.0"/><circle cx="582.8" cy="823.6" r="5.0"/><circle cx="529.8" cy="817.8" r="5.0"/><circle cx="577.7" cy="815.7" r="5.0"/><circle cx="514.5" cy="882.3" r="5.0"/><circle cx="571.7" cy="773.7" r="5.0"/><circle cx="551.0" cy="782.9" r="5.0"/><circle cx="596.7" cy="815.2" r="5.0"/><circle cx="587.4" cy="823.8" r="5.0"/><circle cx="532.3" cy="827.9" r="5.0"/><circle cx="552.8" cy="821.1" r="5.0"/><circle cx="531.1" cy="805.6" r="5.0"/><circle cx="588.1" cy="788.6" r="5.0"/><circle cx="530.2" cy="839.7" r="5.0"/><circle cx="553.2" cy="858.1" r="5.0"/><circle cx="583.2" cy="853.7" r="5.0"/><circle cx="541.8" cy="778.1" r="5.0"/><circle cx="522.7" cy="839.4" r="5.0"/><circle cx="520.2" cy="871.1" r="5.0"/><circle cx="523.8" cy="815.1" r="5.0"/><circle cx="548.9" cy="832.8" r="5.0"/><circle cx="545.0" cy="831.3" r="5.0"/><circle cx="567.6" cy="864.9" r="5.0"/><circle cx="552.4" cy="851.0" r="5.0"/><circle cx="590.6" cy="847.0" r="5.0"/><circle cx="578.0" cy="827.1" r="5.0"/><circle cx="598.1" cy="764.6" r="5.0"/><circle cx="538.1" cy="855.1" r="5.0"/><circle cx="520.2" cy="878.3" r="5.0"/><circle cx="595.5" cy="796.4" r="5.0"/><circle cx="568.5" cy="805.3" r="5.0"/><circle cx="539.1" cy="852.4" r="5.0"/><circle cx="569.6" cy="828.0" r="5.0"/><circle cx="592.9" cy="851.1" r="5.0"/><circle cx="590.9" cy="767.5" r="5.0"/><circle cx="565.3" cy="816.7" r="5.0"/><circle cx="543.4" cy="884.1" r="5.0"/><circle cx="531.6" cy="809.2" r="5.0"/><circle cx="536.6" cy="804.9" r="5.0"/><circle cx="523.6" cy="885.2" r="5.0"/><circle cx="555.6" cy="832.2" r="5.0"/><circle cx="587.9" cy="825.8" r="5.0"/><circle cx="571.7" cy="879.7" r="5.0"/><circle cx="527.2" cy="895.3" r="5.0"/><circle cx="577.2" cy="861.3" r="5.0"/><circle cx="590.3" cy="805.8" r="5.0"/><circle cx="553.0" cy="808.5" r="5.0"/><circle cx="549.6" cy="798.5" r="5.0"/><circle cx="557.3" cy="800.9" r="5.0"/><circle cx="571.0" cy="823.4" r="5.0"/><circle cx="530.5" cy="861.2" r="5.0"/><circle cx="516.9" cy="877.4" r="5.0"/><circle cx="557.1" cy="814.2" r="5.0"/><circle cx="570.8" cy="856.0" r="5.0"/><circle cx="539.8" cy="801.9" r="5.0"/><circle cx="587.2" cy="829.6" r="5.0"/><circle cx="562.0" cy="788.8" r="5.0"/><circle cx="564.7" cy="879.8" r="5.0"/><circle cx="559.4" cy="774.4" r="5.0"/><circle cx="522.2" cy="848.0" r="5.0"/><circle cx="563.2" cy="813.1" r="5.0"/><circle cx="507.8" cy="882.6" r="5.0"/><circle cx="574.7" cy="804.5" r="5.0"/><circle cx="583.5" cy="816.9" r="5.0"/><circle cx="519.0" cy="801.4" r="5.0"/><circle cx="560.3" cy="807.1" r="5.0"/><circle cx="604.3" cy="753.0" r="5.0"/><circle cx="574.2" cy="875.9" r="5.0"/><circle cx="561.4" cy="842.5" r="5.0"/><circle cx="559.4" cy="871.6" r="5.0"/><circle cx="571.3" cy="829.6" r="5.0"/><circle cx="528.7" cy="804.5" r="5.0"/><circle cx="545.7" cy="801.4" r="5.0"/><circle cx="567.2" cy="847.1" r="5.0"/><circle cx="558.1" cy="877.1" r="5.0"/><circle cx="598.0" cy="821.4" r="5.0"/><circle cx="544.1" cy="812.6" r="5.0"/><circle cx="538.4" cy="880.3" r="5.0"/><circle cx="556.3" cy="827.2" r="5.0"/><circle cx="589.6" cy="847.9" r="5.0"/><circle cx="551.5" cy="817.1" r="5.0"/><circle cx="598.7" cy="842.8" r="5.0"/><circle cx="593.3" cy="787.8" r="5.0"/><circle cx="561.5" cy="846.2" r="5.0"/><circle cx="555.2" cy="825.9" r="5.0"/><circle cx="555.6" cy="838.4" r="5.0"/><circle cx="567.9" cy="831.2" r="5.0"/><circle cx="519.0" cy="823.5" r="5.0"/><circle cx="602.3" cy="804.0" r="5.0"/><circle cx="563.5" cy="820.5" r="5.0"/><circle cx="569.2" cy="846.5" r="5.0"/><circle cx="542.7" cy="836.8" r="5.0"/><circle cx="543.6" cy="813.3" r="5.0"/><circle cx="606.9" cy="866.7" r="5.0"/><circle cx="506.8" cy="806.0" r="5.0"/><circle cx="501.0" cy="842.5" r="5.0"/><circle cx="474.2" cy="803.4" r="5.0"/><circle cx="489.7" cy="853.1" r="5.0"/><circle cx="485.4" cy="826.4" r="5.0"/><circle cx="499.7" cy="846.7" r="5.0"/><circle cx="477.4" cy="812.9" r="5.0"/><circle cx="474.0" cy="806.0" r="5.0"/><circle cx="473.2" cy="860.4" r="5.0"/><circle cx="477.0" cy="819.5" r="5.0"/><circle cx="507.0" cy="841.2" r="5.0"/><circle cx="494.6" cy="817.8" r="5.0"/><circle cx="507.9" cy="852.1" r="5.0"/><circle cx="508.5" cy="851.1" r="5.0"/><circle cx="475.1" cy="828.2" r="5.0"/><circle cx="506.7" cy="807.8" r="5.0"/><circle cx="493.7" cy="833.1" r="5.0"/><circle cx="477.1" cy="828.4" r="5.0"/><circle cx="515.8" cy="849.5" r="5.0"/><circle cx="510.9" cy="805.0" r="5.0"/><circle cx="473.6" cy="844.3" r="5.0"/><circle cx="501.1" cy="868.6" r="5.0"/><circle cx="515.3" cy="784.6" r="5.0"/><circle cx="497.1" cy="878.1" r="5.0"/><circle cx="473.2" cy="801.5" r="5.0"/><circle cx="506.8" cy="829.2" r="5.0"/><circle cx="493.6" cy="821.9" r="5.0"/><circle cx="496.1" cy="854.9" r="5.0"/><circle cx="487.0" cy="869.5" r="5.0"/><circle cx="495.6" cy="879.2" r="5.0"/><circle cx="503.8" cy="836.0" r="5.0"/><circle cx="506.8" cy="798.0" r="5.0"/><circle cx="509.7" cy="841.0" r="5.0"/><circle cx="475.6" cy="841.4" r="5.0"/><circle cx="481.4" cy="833.2" r="5.0"/><circle cx="479.6" cy="848.9" r="5.0"/><circle cx="494.5" cy="830.9" r="5.0"/><circle cx="501.5" cy="877.1" r="5.0"/><circle cx="514.0" cy="902.8" r="5.0"/><circle cx="471.9" cy="867.8" r="5.0"/><circle cx="495.9" cy="857.8" r="5.0"/><circle cx="503.9" cy="802.0" r="5.0"/><circle cx="479.4" cy="832.0" r="5.0"/><circle cx="495.2" cy="873.4" r="5.0"/><circle cx="512.8" cy="795.3" r="5.0"/><circle cx="459.7" cy="817.0" r="5.0"/><circle cx="462.6" cy="826.7" r="5.0"/><circle cx="470.1" cy="828.9" r="5.0"/><circle cx="462.7" cy="856.5" r="5.0"/><circle cx="452.4" cy="859.4" r="5.0"/><circle cx="468.3" cy="800.4" r="5.0"/><circle cx="452.7" cy="838.2" r="5.0"/><circle cx="466.5" cy="834.9" r="5.0"/><circle cx="444.0" cy="840.3" r="5.0"/><circle cx="449.7" cy="846.1" r="5.0"/><circle cx="446.5" cy="880.4" r="5.0"/><circle cx="468.4" cy="827.9" r="5.0"/><circle cx="431.2" cy="855.0" r="5.0"/><circle cx="470.1" cy="861.5" r="5.0"/><circle cx="435.0" cy="807.4" r="5.0"/><circle cx="430.9" cy="848.1" r="5.0"/><circle cx="445.7" cy="827.9" r="5.0"/><circle cx="436.5" cy="879.0" r="5.0"/><circle cx="431.1" cy="812.5" r="5.0"/><circle cx="436.5" cy="838.8" r="5.0"/><circle cx="463.9" cy="814.4" r="5.0"/><circle cx="441.0" cy="813.0" r="5.0"/><circle cx="431.8" cy="850.2" r="5.0"/><circle cx="460.6" cy="820.3" r="5.0"/><circle cx="459.6" cy="843.8" r="5.0"/><circle cx="431.4" cy="833.4" r="5.0"/><circle cx="455.4" cy="838.2" r="5.0"/><circle cx="444.4" cy="883.9" r="5.0"/><circle cx="454.7" cy="869.4" r="5.0"/><circle cx="436.4" cy="894.8" r="5.0"/><circle cx="467.7" cy="894.8" r="5.0"/><circle cx="456.2" cy="831.3" r="5.0"/><circle cx="439.9" cy="806.3" r="5.0"/><circle cx="470.1" cy="821.3" r="5.0"/><circle cx="441.4" cy="855.1" r="5.0"/><circle cx="457.0" cy="822.8" r="5.0"/><circle cx="461.0" cy="800.5" r="5.0"/><circle cx="442.1" cy="848.0" r="5.0"/><circle cx="440.5" cy="826.8" r="5.0"/><circle cx="461.9" cy="868.5" r="5.0"/><circle cx="432.8" cy="854.4" r="5.0"/><circle cx="460.0" cy="881.1" r="5.0"/><circle cx="448.1" cy="839.1" r="5.0"/><circle cx="460.2" cy="857.9" r="5.0"/><circle cx="433.9" cy="873.0" r="5.0"/><circle cx="439.9" cy="823.8" r="5.0"/><circle cx="432.2" cy="852.1" r="5.0"/><circle cx="438.3" cy="851.4" r="5.0"/><circle cx="447.6" cy="837.0" r="5.0"/><circle cx="455.1" cy="866.1" r="5.0"/><circle cx="456.0" cy="842.8" r="5.0"/><circle cx="469.9" cy="847.6" r="5.0"/><circle cx="433.3" cy="859.2" r="5.0"/><circle cx="436.6" cy="849.6" r="5.0"/><circle cx="439.1" cy="824.0" r="5.0"/><circle cx="457.9" cy="837.7" r="5.0"/><circle cx="436.7" cy="852.1" r="5.0"/><circle cx="452.5" cy="868.6" r="5.0"/><circle cx="447.9" cy="829.7" r="5.0"/><circle cx="464.4" cy="809.6" r="5.0"/><circle cx="109.7" cy="793.7" r="5.0"/><circle cx="150.1" cy="796.1" r="5.0"/><circle cx="127.9" cy="806.4" r="5.0"/><circle cx="190.5" cy="804.7" r="5.0"/><circle cx="142.6" cy="827.4" r="5.0"/><circle cx="127.9" cy="834.4" r="5.0"/><circle cx="153.6" cy="839.8" r="5.0"/><circle cx="127.9" cy="846.1" r="5.0"/><circle cx="168.3" cy="844.4" r="5.0"/><circle cx="172.3" cy="843.3" r="5.0"/><circle cx="157.6" cy="851.4" r="5.0"/><circle cx="175.8" cy="853.8" r="5.0"/><circle cx="190.5" cy="851.4" r="5.0"/><circle cx="171.8" cy="860.8" r="5.0"/><circle cx="131.9" cy="869.4" r="5.0"/><circle cx="146.4" cy="879.5" r="5.0"/><circle cx="146.4" cy="883.0" r="5.0"/><circle cx="124.4" cy="916.4" r="5.0"/><circle cx="205.2" cy="879.5" r="5.0"/><circle cx="216.7" cy="887.0" r="5.0"/><circle cx="224.4" cy="821.1" r="5.0"/><circle cx="228.4" cy="817.6" r="5.0"/><circle cx="231.9" cy="818.7" r="5.0"/><circle cx="222.5" cy="835.1" r="5.0"/><circle cx="227.9" cy="833.9" r="5.0"/><circle cx="242.4" cy="837.4" r="5.0"/><circle cx="242.4" cy="842.1" r="5.0"/><circle cx="238.9" cy="845.6" r="5.0"/><circle cx="235.4" cy="853.8" r="5.0"/><circle cx="227.2" cy="859.6" r="5.0"/><circle cx="243.1" cy="849.1" r="5.0"/><circle cx="249.9" cy="858.9" r="5.0"/><circle cx="257.1" cy="828.1" r="5.0"/><circle cx="264.6" cy="833.9" r="5.0"/><circle cx="257.1" cy="844.4" r="5.0"/><circle cx="261.1" cy="847.9" r="5.0"/><circle cx="257.1" cy="853.1" r="5.0"/><circle cx="257.1" cy="865.5" r="5.0"/><circle cx="257.1" cy="871.8" r="5.0"/><circle cx="268.1" cy="870.8" r="5.0"/><circle cx="275.6" cy="867.1" r="5.0"/><circle cx="275.6" cy="779.0" r="5.0"/><circle cx="275.6" cy="793.7" r="5.0"/><circle cx="282.8" cy="842.8" r="5.0"/><circle cx="279.3" cy="844.4" r="5.0"/><circle cx="282.8" cy="851.4" r="5.0"/><circle cx="286.3" cy="858.5" r="5.0"/><circle cx="286.3" cy="815.7" r="5.0"/><circle cx="293.8" cy="853.8" r="5.0"/><circle cx="297.3" cy="862.0" r="5.0"/><circle cx="301.3" cy="814.8" r="5.0"/><circle cx="308.5" cy="819.9" r="5.0"/><circle cx="308.5" cy="829.7" r="5.0"/><circle cx="308.5" cy="835.1" r="5.0"/><circle cx="308.5" cy="843.3" r="5.0"/><circle cx="308.5" cy="848.6" r="5.0"/><circle cx="308.5" cy="853.8" r="5.0"/><circle cx="316.0" cy="812.2" r="5.0"/><circle cx="316.0" cy="873.6" r="5.0"/><circle cx="323.5" cy="878.3" r="5.0"/><circle cx="323.5" cy="832.8" r="5.0"/><circle cx="323.5" cy="842.8" r="5.0"/><circle cx="323.5" cy="848.6" r="5.0"/><circle cx="323.5" cy="858.5" r="5.0"/><circle cx="330.7" cy="858.5" r="5.0"/><circle cx="334.2" cy="825.3" r="5.0"/><circle cx="334.2" cy="845.6" r="5.0"/><circle cx="338.2" cy="836.3" r="5.0"/><circle cx="341.7" cy="856.1" r="5.0"/><circle cx="345.2" cy="787.7" r="5.0"/><circle cx="345.2" cy="811.0" r="5.0"/><circle cx="345.2" cy="831.6" r="5.0"/><circle cx="348.7" cy="851.4" r="5.0"/><circle cx="356.4" cy="812.2" r="5.0"/><circle cx="356.4" cy="822.2" r="5.0"/><circle cx="356.4" cy="829.7" r="5.0"/><circle cx="356.4" cy="839.8" r="5.0"/><circle cx="356.4" cy="853.1" r="5.0"/><circle cx="363.9" cy="845.6" r="5.0"/><circle cx="360.4" cy="870.1" r="5.0"/><circle cx="359.9" cy="881.8" r="5.0"/><circle cx="363.9" cy="880.2" r="5.0"/><circle cx="367.4" cy="863.8" r="5.0"/><circle cx="374.9" cy="860.8" r="5.0"/><circle cx="371.4" cy="824.6" r="5.0"/><circle cx="374.9" cy="845.6" r="5.0"/><circle cx="378.6" cy="843.3" r="5.0"/><circle cx="382.1" cy="832.8" r="5.0"/><circle cx="389.6" cy="807.1" r="5.0"/><circle cx="389.6" cy="824.6" r="5.0"/><circle cx="389.6" cy="860.8" r="5.0"/><circle cx="393.1" cy="871.3" r="5.0"/><circle cx="393.1" cy="838.6" r="5.0"/><circle cx="396.6" cy="839.8" r="5.0"/><circle cx="404.3" cy="818.0" r="5.0"/><circle cx="404.3" cy="835.1" r="5.0"/><circle cx="404.3" cy="850.3" r="5.0"/><circle cx="408.3" cy="852.6" r="5.0"/><circle cx="411.8" cy="840.9" r="5.0"/><circle cx="408.3" cy="863.8" r="5.0"/><circle cx="407.8" cy="882.5" r="5.0"/><circle cx="415.3" cy="883.0" r="5.0"/><circle cx="415.3" cy="812.9" r="5.0"/><circle cx="415.3" cy="833.9" r="5.0"/><circle cx="422.3" cy="817.6" r="5.0"/><circle cx="422.3" cy="825.7" r="5.0"/><circle cx="422.3" cy="859.6" r="5.0"/><circle cx="422.3" cy="865.5" r="5.0"/><circle cx="422.3" cy="873.6" r="5.0"/><circle cx="428.1" cy="835.1" r="5.0"/><circle cx="382.1" cy="891.9" r="5.0"/><circle cx="370.9" cy="901.0" r="5.0"/><circle cx="330.7" cy="907.5" r="5.0"/><circle cx="349.2" cy="908.7" r="5.0"/><circle cx="286.3" cy="918.7" r="5.0"/><circle cx="400.6" cy="909.9" r="5.0"/><circle cx="400.6" cy="931.6" r="5.0"/><circle cx="536.6" cy="759.4" r="5.0"/><circle cx="584.8" cy="755.9" r="5.0"/><circle cx="591.8" cy="759.4" r="5.0"/><circle cx="595.3" cy="762.9" r="5.0"/><circle cx="595.3" cy="766.4" r="5.0"/><circle cx="576.9" cy="764.7" r="5.0"/><circle cx="477.9" cy="772.2" r="5.0"/><circle cx="543.6" cy="772.5" r="5.0"/><circle cx="555.0" cy="772.2" r="5.0"/><circle cx="566.4" cy="923.2" r="5.0"/><circle cx="598.8" cy="905.3" r="5.0"/><circle cx="466.2" cy="944.2" r="5.0"/><circle cx="452.2" cy="912.3" r="5.0"/><circle cx="448.7" cy="896.9" r="5.0"/><circle cx="488.4" cy="902.5" r="5.0"/><circle cx="480.6" cy="897.8" r="5.0"/><circle cx="492.3" cy="893.4" r="5.0"/><circle cx="499.8" cy="893.4" r="5.0"/><circle cx="507.2" cy="884.6" r="5.0"/><circle cx="522.1" cy="900.7" r="5.0"/><circle cx="532.7" cy="903.0" r="5.0"/><circle cx="558.5" cy="900.4" r="5.0"/></g>
<path d="M109.9,844.0C128.3,844.3 186.2,845.0 220.2,845.6C254.1,846.2 286.4,847.2 313.6,847.5C340.9,847.8 364.3,847.5 383.7,847.2C403.1,846.9 415.6,846.6 430.0,845.6C444.4,844.6 454.6,843.7 470.0,841.4C485.4,839.1 499.8,836.5 522.6,832.0C545.4,827.5 592.7,817.5 606.7,814.6" fill="none" stroke="#0072B2" stroke-width="3.5"/>
<line x1="470.5" y1="958.6" x2="470.5" y2="648.0" stroke="#BEBEBE" stroke-width="3" stroke-dasharray="23.3 10.3"/>
<line x1="80.8" y1="648.2" x2="80.8" y2="959.1" stroke="#444" stroke-width="0.9"/>
<line x1="80.3" y1="958.6" x2="717.0" y2="958.6" stroke="#444" stroke-width="0.9"/>
<line x1="78.8" y1="694.8" x2="80.8" y2="694.8" stroke="#333" stroke-width="1"/>
<text x="77.0" y="701.4" font-size="18.5" fill="#4D4D4D" text-anchor="end" font-weight="normal" font-family="'Liberation Sans', sans-serif">-1.0</text>
<line x1="78.8" y1="784.7" x2="80.8" y2="784.7" stroke="#333" stroke-width="1"/>
<text x="77.0" y="791.3" font-size="18.5" fill="#4D4D4D" text-anchor="end" font-weight="normal" font-family="'Liberation Sans', sans-serif">-1.5</text>
<line x1="78.8" y1="874.6" x2="80.8" y2="874.6" stroke="#333" stroke-width="1"/>
<text x="77.0" y="881.2" font-size="18.5" fill="#4D4D4D" text-anchor="end" font-weight="normal" font-family="'Liberation Sans', sans-serif">-2.0</text>
<line x1="161.6" y1="958.6" x2="161.6" y2="960.8" stroke="#333" stroke-width="1"/>
<text x="161.6" y="976.6" font-size="18.5" fill="#4D4D4D" text-anchor="middle" font-weight="normal" font-family="'Liberation Sans', sans-serif">25</text>
<line x1="290.4" y1="958.6" x2="290.4" y2="960.8" stroke="#333" stroke-width="1"/>
<text x="290.4" y="976.6" font-size="18.5" fill="#4D4D4D" text-anchor="middle" font-weight="normal" font-family="'Liberation Sans', sans-serif">30</text>
<line x1="419.2" y1="958.6" x2="419.2" y2="960.8" stroke="#333" stroke-width="1"/>
<text x="419.2" y="976.6" font-size="18.5" fill="#4D4D4D" text-anchor="middle" font-weight="normal" font-family="'Liberation Sans', sans-serif">35</text>
<line x1="548.0" y1="958.6" x2="548.0" y2="960.8" stroke="#333" stroke-width="1"/>
<text x="548.0" y="976.6" font-size="18.5" fill="#4D4D4D" text-anchor="middle" font-weight="normal" font-family="'Liberation Sans', sans-serif">40</text>
<line x1="676.8" y1="958.6" x2="676.8" y2="960.8" stroke="#333" stroke-width="1"/>
<text x="676.8" y="976.6" font-size="18.5" fill="#4D4D4D" text-anchor="middle" font-weight="normal" font-family="'Liberation Sans', sans-serif">45</text>
<text x="23.3" y="805.2" font-size="29.5" fill="#000" text-anchor="middle" font-weight="normal" font-family="'Liberation Sans', sans-serif">η</text>
<text x="506.0" y="716.0" font-size="56.5" fill="#0072B2" text-anchor="start" font-weight="normal" font-family="'DejaVu Sans', sans-serif">***</text>
<text x="622.0" y="716.0" font-size="56.5" fill="#E69F00" text-anchor="start" font-weight="normal" font-family="'DejaVu Sans', sans-serif">***</text>
<path d="M200.0,1177.5C201.4,1177.1 205.4,1176.1 208.1,1175.3C210.8,1174.6 213.6,1173.9 216.3,1173.2C219.0,1172.4 221.7,1171.8 224.4,1171.0C227.1,1170.2 229.8,1169.5 232.5,1168.6C235.3,1167.7 238.0,1166.6 240.7,1165.6C243.4,1164.6 246.1,1163.6 248.8,1162.6C251.5,1161.6 254.2,1160.7 256.9,1159.6C259.7,1158.5 262.4,1157.3 265.1,1156.1C267.8,1154.9 270.5,1153.6 273.2,1152.3C275.9,1151.1 278.6,1149.8 281.4,1148.5C284.1,1147.3 286.8,1146.2 289.5,1144.7C292.2,1143.3 294.9,1141.6 297.6,1140.1C300.3,1138.5 303.1,1136.9 305.8,1135.3C308.5,1133.7 311.2,1132.1 313.9,1130.6C316.6,1129.0 319.3,1127.4 322.0,1125.8C324.7,1124.2 327.5,1122.7 330.2,1121.1C332.9,1119.5 335.6,1117.9 338.3,1116.4C341.0,1114.8 343.7,1113.2 346.4,1111.8C349.2,1110.4 351.9,1109.1 354.6,1107.8C357.3,1106.5 360.0,1105.1 362.7,1103.9C365.4,1102.7 368.1,1101.5 370.8,1100.4C373.6,1099.4 376.3,1098.4 379.0,1097.5C381.7,1096.6 384.4,1095.6 387.1,1095.0C389.8,1094.4 392.5,1094.1 395.3,1093.7C398.0,1093.3 400.7,1092.9 403.4,1092.6C406.1,1092.3 408.8,1092.1 411.5,1092.0C414.2,1091.8 416.9,1091.8 419.7,1091.7C422.4,1091.7 425.1,1091.5 427.8,1091.5C430.5,1091.5 433.2,1091.7 435.9,1091.8C438.6,1091.9 441.4,1092.0 444.1,1092.1C446.8,1092.2 449.5,1092.3 452.2,1092.4C454.9,1092.6 457.6,1092.7 460.3,1092.8C463.1,1092.9 465.8,1092.9 468.5,1093.1C471.2,1093.2 473.9,1093.5 476.6,1093.7C479.3,1093.9 482.0,1094.1 484.7,1094.3C487.5,1094.6 490.2,1094.8 492.9,1095.0C495.6,1095.2 498.3,1095.4 501.0,1095.7C503.7,1095.9 506.4,1096.1 509.2,1096.3C511.9,1096.5 514.6,1096.8 517.3,1097.0C520.0,1097.2 522.7,1097.4 525.4,1097.6C528.1,1097.8 530.8,1098.0 533.6,1098.2C536.3,1098.4 539.0,1098.6 541.7,1098.8C544.4,1099.0 547.1,1099.2 549.8,1099.4C552.5,1099.6 555.3,1099.8 558.0,1100.0C560.7,1100.1 563.4,1100.2 566.1,1100.4C568.8,1100.5 571.5,1100.6 574.2,1100.7C576.9,1100.8 579.7,1100.9 582.4,1101.1C585.1,1101.2 587.8,1101.3 590.5,1101.4C593.2,1101.5 595.9,1101.8 598.6,1101.7C601.4,1101.7 604.1,1101.5 606.8,1101.3C609.5,1101.1 612.2,1100.9 614.9,1100.7C617.6,1100.5 620.3,1100.3 623.1,1100.1C625.8,1099.8 628.5,1099.6 631.2,1099.3C633.9,1099.1 636.6,1098.8 639.3,1098.6C642.0,1098.3 644.7,1098.1 647.5,1097.8C650.2,1097.5 652.9,1097.2 655.6,1096.8C658.3,1096.5 661.0,1096.1 663.7,1095.8C666.4,1095.4 669.2,1095.1 671.9,1094.7C674.6,1094.4 678.6,1093.9 680.0,1093.7L680.0,1117.7C678.6,1117.5 674.6,1116.9 671.9,1116.6C669.2,1116.2 666.4,1115.8 663.7,1115.4C661.0,1115.1 658.3,1114.7 655.6,1114.3C652.9,1114.0 650.2,1113.6 647.5,1113.3C644.7,1113.0 642.0,1112.7 639.3,1112.4C636.6,1112.1 633.9,1111.9 631.2,1111.6C628.5,1111.3 625.8,1111.0 623.1,1110.8C620.3,1110.5 617.6,1110.3 614.9,1110.1C612.2,1109.8 609.5,1109.6 606.8,1109.4C604.1,1109.2 601.4,1108.9 598.6,1108.7C595.9,1108.6 593.2,1108.5 590.5,1108.3C587.8,1108.2 585.1,1108.1 582.4,1108.0C579.7,1107.8 576.9,1107.7 574.2,1107.6C571.5,1107.4 568.8,1107.3 566.1,1107.2C563.4,1107.1 560.7,1106.9 558.0,1106.7C555.3,1106.6 552.5,1106.3 549.8,1106.1C547.1,1105.9 544.4,1105.7 541.7,1105.5C539.0,1105.3 536.3,1105.1 533.6,1104.9C530.8,1104.6 528.1,1104.4 525.4,1104.2C522.7,1104.0 520.0,1103.8 517.3,1103.7C514.6,1103.6 511.9,1103.5 509.2,1103.4C506.4,1103.3 503.7,1103.2 501.0,1103.1C498.3,1103.0 495.6,1102.9 492.9,1102.7C490.2,1102.6 487.5,1102.5 484.7,1102.4C482.0,1102.3 479.3,1102.2 476.6,1102.1C473.9,1102.0 471.2,1101.9 468.5,1101.9C465.8,1101.8 463.1,1101.9 460.3,1101.9C457.6,1101.9 454.9,1101.9 452.2,1101.9C449.5,1101.9 446.8,1101.9 444.1,1102.0C441.4,1102.0 438.6,1102.0 435.9,1102.1C433.2,1102.1 430.5,1102.2 427.8,1102.4C425.1,1102.6 422.4,1102.9 419.7,1103.2C416.9,1103.5 414.2,1103.7 411.5,1104.0C408.8,1104.4 406.1,1104.8 403.4,1105.3C400.7,1105.7 398.0,1106.3 395.3,1106.9C392.5,1107.5 389.8,1108.0 387.1,1108.9C384.4,1109.7 381.7,1110.8 379.0,1111.8C376.3,1112.9 373.6,1114.0 370.8,1115.2C368.1,1116.4 365.4,1117.7 362.7,1119.0C360.0,1120.4 357.3,1121.8 354.6,1123.3C351.9,1124.7 349.2,1126.0 346.4,1127.7C343.7,1129.4 341.0,1131.5 338.3,1133.5C335.6,1135.4 332.9,1137.5 330.2,1139.5C327.5,1141.5 324.7,1143.4 322.0,1145.5C319.3,1147.5 316.6,1149.7 313.9,1151.8C311.2,1153.9 308.5,1156.0 305.8,1158.2C303.1,1160.3 300.3,1162.4 297.6,1164.5C294.9,1166.7 292.2,1168.8 289.5,1170.9C286.8,1173.1 284.1,1175.2 281.4,1177.4C278.6,1179.6 275.9,1181.8 273.2,1183.9C270.5,1186.1 267.8,1188.3 265.1,1190.4C262.4,1192.6 259.7,1194.7 256.9,1196.8C254.2,1198.9 251.5,1201.0 248.8,1203.1C246.1,1205.2 243.4,1207.2 240.7,1209.3C238.0,1211.4 235.3,1213.6 232.5,1215.6C229.8,1217.5 227.1,1219.4 224.4,1221.2C221.7,1223.1 219.0,1224.8 216.3,1226.7C213.6,1228.5 210.8,1230.3 208.1,1232.1C205.4,1233.9 201.4,1236.6 200.0,1237.5Z" fill="#D3D3D3" fill-opacity="0.45"/>
<g fill="#E69F00" fill-opacity="0.55"><circle cx="520.1" cy="1086.4" r="5.0"/><circle cx="619.9" cy="1098.7" r="5.0"/><circle cx="564.2" cy="1107.6" r="5.0"/><circle cx="559.6" cy="1102.1" r="5.0"/><circle cx="554.2" cy="1075.7" r="5.0"/><circle cx="502.8" cy="1115.2" r="5.0"/><circle cx="471.4" cy="1126.6" r="5.0"/><circle cx="627.5" cy="1119.4" r="5.0"/><circle cx="586.6" cy="1092.9" r="5.0"/><circle cx="486.0" cy="1079.7" r="5.0"/><circle cx="607.4" cy="1122.8" r="5.0"/><circle cx="596.7" cy="1099.8" r="5.0"/><circle cx="554.8" cy="1118.3" r="5.0"/><circle cx="605.3" cy="1096.3" r="5.0"/><circle cx="605.8" cy="1121.2" r="5.0"/><circle cx="591.2" cy="1097.2" r="5.0"/><circle cx="633.7" cy="1109.0" r="5.0"/><circle cx="532.3" cy="1140.7" r="5.0"/><circle cx="584.5" cy="1114.2" r="5.0"/><circle cx="661.3" cy="1120.5" r="5.0"/><circle cx="588.1" cy="1059.3" r="5.0"/><circle cx="670.4" cy="1119.2" r="5.0"/><circle cx="560.9" cy="1090.0" r="5.0"/><circle cx="506.0" cy="1128.6" r="5.0"/><circle cx="620.2" cy="1084.5" r="5.0"/><circle cx="648.7" cy="1113.1" r="5.0"/><circle cx="558.8" cy="1128.0" r="5.0"/><circle cx="641.6" cy="1115.9" r="5.0"/><circle cx="500.7" cy="1126.0" r="5.0"/><circle cx="520.7" cy="1087.2" r="5.0"/><circle cx="546.5" cy="1097.2" r="5.0"/><circle cx="570.2" cy="1064.6" r="5.0"/><circle cx="584.4" cy="1091.2" r="5.0"/><circle cx="591.6" cy="1071.7" r="5.0"/><circle cx="622.1" cy="1100.9" r="5.0"/><circle cx="541.2" cy="1105.7" r="5.0"/><circle cx="557.1" cy="1110.5" r="5.0"/><circle cx="668.3" cy="1118.5" r="5.0"/><circle cx="572.1" cy="1064.8" r="5.0"/><circle cx="620.7" cy="1120.8" r="5.0"/><circle cx="592.1" cy="1125.1" r="5.0"/><circle cx="577.7" cy="1097.4" r="5.0"/><circle cx="611.7" cy="1107.8" r="5.0"/><circle cx="538.9" cy="1081.5" r="5.0"/><circle cx="591.5" cy="1084.7" r="5.0"/><circle cx="616.8" cy="1099.5" r="5.0"/><circle cx="592.1" cy="1110.2" r="5.0"/><circle cx="561.9" cy="1114.6" r="5.0"/><circle cx="549.3" cy="1099.9" r="5.0"/><circle cx="567.3" cy="1102.9" r="5.0"/><circle cx="634.7" cy="1099.5" r="5.0"/><circle cx="601.9" cy="1101.8" r="5.0"/><circle cx="544.2" cy="1073.3" r="5.0"/><circle cx="649.3" cy="1061.5" r="5.0"/><circle cx="548.9" cy="1119.2" r="5.0"/><circle cx="621.0" cy="1105.6" r="5.0"/><circle cx="567.4" cy="1094.0" r="5.0"/><circle cx="492.0" cy="1101.6" r="5.0"/><circle cx="562.0" cy="1121.2" r="5.0"/><circle cx="538.4" cy="1098.2" r="5.0"/><circle cx="559.1" cy="1136.7" r="5.0"/><circle cx="561.2" cy="1091.7" r="5.0"/><circle cx="541.6" cy="1129.4" r="5.0"/><circle cx="579.3" cy="1122.4" r="5.0"/><circle cx="564.0" cy="1108.0" r="5.0"/><circle cx="510.0" cy="1061.8" r="5.0"/><circle cx="589.1" cy="1072.6" r="5.0"/><circle cx="594.2" cy="1093.1" r="5.0"/><circle cx="547.1" cy="1073.1" r="5.0"/><circle cx="568.1" cy="1090.6" r="5.0"/><circle cx="548.2" cy="1118.7" r="5.0"/><circle cx="535.3" cy="1103.9" r="5.0"/><circle cx="564.5" cy="1106.2" r="5.0"/><circle cx="605.0" cy="1118.1" r="5.0"/><circle cx="595.7" cy="1092.3" r="5.0"/><circle cx="503.4" cy="1109.2" r="5.0"/><circle cx="566.7" cy="1118.2" r="5.0"/><circle cx="615.8" cy="1110.1" r="5.0"/><circle cx="638.9" cy="1106.4" r="5.0"/><circle cx="555.7" cy="1129.8" r="5.0"/><circle cx="599.3" cy="1084.1" r="5.0"/><circle cx="579.0" cy="1093.4" r="5.0"/><circle cx="515.7" cy="1137.8" r="5.0"/><circle cx="593.1" cy="1117.5" r="5.0"/><circle cx="538.4" cy="1058.5" r="5.0"/><circle cx="511.0" cy="1127.4" r="5.0"/><circle cx="656.1" cy="1101.1" r="5.0"/><circle cx="637.5" cy="1085.3" r="5.0"/><circle cx="592.2" cy="1136.5" r="5.0"/><circle cx="517.7" cy="1075.2" r="5.0"/><circle cx="612.7" cy="1105.8" r="5.0"/><circle cx="565.2" cy="1097.6" r="5.0"/><circle cx="600.9" cy="1109.8" r="5.0"/><circle cx="572.3" cy="1082.3" r="5.0"/><circle cx="593.3" cy="1080.9" r="5.0"/><circle cx="509.4" cy="1065.4" r="5.0"/><circle cx="582.2" cy="1110.4" r="5.0"/><circle cx="593.6" cy="1112.7" r="5.0"/><circle cx="643.5" cy="1094.3" r="5.0"/><circle cx="488.3" cy="1109.9" r="5.0"/><circle cx="582.0" cy="1097.8" r="5.0"/><circle cx="554.3" cy="1125.3" r="5.0"/><circle cx="644.8" cy="1120.8" r="5.0"/><circle cx="496.7" cy="1096.2" r="5.0"/><circle cx="571.4" cy="1103.7" r="5.0"/><circle cx="633.6" cy="1138.6" r="5.0"/><circle cx="672.1" cy="1138.5" r="5.0"/><circle cx="629.5" cy="1089.3" r="5.0"/><circle cx="593.5" cy="1109.2" r="5.0"/><circle cx="586.6" cy="1097.0" r="5.0"/><circle cx="599.0" cy="1106.3" r="5.0"/><circle cx="641.4" cy="1104.0" r="5.0"/><circle cx="477.3" cy="1099.5" r="5.0"/><circle cx="578.0" cy="1125.9" r="5.0"/><circle cx="594.6" cy="1132.0" r="5.0"/><circle cx="560.6" cy="1098.8" r="5.0"/><circle cx="582.3" cy="1077.9" r="5.0"/><circle cx="648.4" cy="1133.0" r="5.0"/><circle cx="572.3" cy="1076.1" r="5.0"/><circle cx="566.9" cy="1074.8" r="5.0"/><circle cx="654.2" cy="1107.5" r="5.0"/><circle cx="582.6" cy="1060.1" r="5.0"/><circle cx="559.8" cy="1115.2" r="5.0"/><circle cx="510.0" cy="1115.2" r="5.0"/><circle cx="571.9" cy="1104.1" r="5.0"/><circle cx="502.3" cy="1080.3" r="5.0"/><circle cx="558.7" cy="1108.9" r="5.0"/><circle cx="608.8" cy="1111.5" r="5.0"/><circle cx="552.3" cy="1085.2" r="5.0"/><circle cx="574.7" cy="1128.0" r="5.0"/><circle cx="609.9" cy="1115.5" r="5.0"/><circle cx="635.5" cy="1066.5" r="5.0"/><circle cx="675.9" cy="1114.8" r="5.0"/><circle cx="656.4" cy="1098.3" r="5.0"/><circle cx="621.1" cy="1112.0" r="5.0"/><circle cx="610.8" cy="1097.4" r="5.0"/><circle cx="585.6" cy="1109.1" r="5.0"/><circle cx="551.1" cy="1108.0" r="5.0"/><circle cx="601.4" cy="1132.5" r="5.0"/><circle cx="543.1" cy="1090.0" r="5.0"/><circle cx="645.5" cy="1086.3" r="5.0"/><circle cx="510.8" cy="1102.8" r="5.0"/><circle cx="487.9" cy="1089.6" r="5.0"/><circle cx="552.7" cy="1091.6" r="5.0"/><circle cx="639.4" cy="1106.6" r="5.0"/><circle cx="567.1" cy="1083.7" r="5.0"/><circle cx="560.6" cy="1111.3" r="5.0"/><circle cx="636.9" cy="1093.8" r="5.0"/><circle cx="573.4" cy="1108.6" r="5.0"/><circle cx="604.3" cy="1136.2" r="5.0"/><circle cx="565.4" cy="1144.4" r="5.0"/><circle cx="578.0" cy="1115.0" r="5.0"/><circle cx="492.5" cy="1135.2" r="5.0"/><circle cx="661.6" cy="1112.6" r="5.0"/><circle cx="473.1" cy="1092.9" r="5.0"/><circle cx="480.6" cy="1117.7" r="5.0"/><circle cx="634.7" cy="1125.7" r="5.0"/><circle cx="573.5" cy="1067.1" r="5.0"/><circle cx="582.9" cy="1104.2" r="5.0"/><circle cx="626.7" cy="1108.7" r="5.0"/><circle cx="555.8" cy="1101.6" r="5.0"/><circle cx="492.1" cy="1117.6" r="5.0"/><circle cx="589.2" cy="1145.8" r="5.0"/><circle cx="541.2" cy="1081.8" r="5.0"/><circle cx="665.0" cy="1148.9" r="5.0"/><circle cx="594.3" cy="1116.1" r="5.0"/><circle cx="612.5" cy="1101.3" r="5.0"/><circle cx="507.9" cy="1092.7" r="5.0"/><circle cx="588.3" cy="1106.7" r="5.0"/><circle cx="595.5" cy="1148.0" r="5.0"/><circle cx="616.0" cy="1101.8" r="5.0"/><circle cx="520.7" cy="1084.0" r="5.0"/><circle cx="611.1" cy="1123.6" r="5.0"/><circle cx="641.7" cy="1111.3" r="5.0"/><circle cx="567.5" cy="1083.1" r="5.0"/><circle cx="557.6" cy="1116.8" r="5.0"/><circle cx="609.9" cy="1101.0" r="5.0"/><circle cx="634.6" cy="1118.6" r="5.0"/><circle cx="569.0" cy="1097.2" r="5.0"/><circle cx="633.3" cy="1087.7" r="5.0"/><circle cx="676.3" cy="1110.7" r="5.0"/><circle cx="608.5" cy="1132.2" r="5.0"/><circle cx="578.9" cy="1115.3" r="5.0"/><circle cx="627.6" cy="1108.8" r="5.0"/><circle cx="661.8" cy="1111.6" r="5.0"/><circle cx="653.9" cy="1112.5" r="5.0"/><circle cx="596.4" cy="1084.6" r="5.0"/><circle cx="623.4" cy="1104.8" r="5.0"/><circle cx="553.9" cy="1092.2" r="5.0"/><circle cx="589.0" cy="1089.5" r="5.0"/><circle cx="560.2" cy="1082.7" r="5.0"/><circle cx="552.3" cy="1096.1" r="5.0"/><circle cx="581.5" cy="1102.5" r="5.0"/><circle cx="555.5" cy="1097.1" r="5.0"/><circle cx="583.3" cy="1087.4" r="5.0"/><circle cx="582.0" cy="1103.6" r="5.0"/><circle cx="521.3" cy="1129.6" r="5.0"/><circle cx="552.4" cy="1071.1" r="5.0"/><circle cx="610.7" cy="1109.3" r="5.0"/><circle cx="560.5" cy="1084.1" r="5.0"/><circle cx="672.5" cy="1135.8" r="5.0"/><circle cx="624.6" cy="1100.0" r="5.0"/><circle cx="598.6" cy="1135.6" r="5.0"/><circle cx="601.1" cy="1099.9" r="5.0"/><circle cx="506.4" cy="1086.8" r="5.0"/><circle cx="559.7" cy="1103.9" r="5.0"/><circle cx="478.8" cy="1114.4" r="5.0"/><circle cx="604.1" cy="1070.3" r="5.0"/><circle cx="627.1" cy="1097.2" r="5.0"/><circle cx="590.3" cy="1133.6" r="5.0"/><circle cx="571.9" cy="1120.2" r="5.0"/><circle cx="545.5" cy="1061.8" r="5.0"/><circle cx="601.2" cy="1132.2" r="5.0"/><circle cx="518.7" cy="1135.3" r="5.0"/><circle cx="632.9" cy="1066.2" r="5.0"/><circle cx="513.2" cy="1096.4" r="5.0"/><circle cx="496.9" cy="1053.7" r="5.0"/><circle cx="560.3" cy="1112.7" r="5.0"/><circle cx="590.4" cy="1095.4" r="5.0"/><circle cx="542.3" cy="1087.3" r="5.0"/><circle cx="566.9" cy="1097.2" r="5.0"/><circle cx="592.3" cy="1119.5" r="5.0"/><circle cx="538.9" cy="1079.5" r="5.0"/><circle cx="623.5" cy="1086.4" r="5.0"/><circle cx="567.2" cy="1088.1" r="5.0"/><circle cx="604.7" cy="1114.0" r="5.0"/><circle cx="542.7" cy="1110.1" r="5.0"/><circle cx="485.7" cy="1121.3" r="5.0"/><circle cx="603.7" cy="1118.3" r="5.0"/><circle cx="621.0" cy="1112.3" r="5.0"/><circle cx="536.2" cy="1075.1" r="5.0"/><circle cx="569.5" cy="1097.8" r="5.0"/><circle cx="506.6" cy="1090.9" r="5.0"/><circle cx="494.4" cy="1070.7" r="5.0"/><circle cx="642.8" cy="1123.7" r="5.0"/><circle cx="652.6" cy="1095.0" r="5.0"/><circle cx="545.0" cy="1059.5" r="5.0"/><circle cx="668.4" cy="1077.3" r="5.0"/><circle cx="545.8" cy="1112.0" r="5.0"/><circle cx="602.1" cy="1099.6" r="5.0"/><circle cx="576.7" cy="1133.0" r="5.0"/><circle cx="580.6" cy="1110.6" r="5.0"/><circle cx="650.9" cy="1078.0" r="5.0"/><circle cx="528.0" cy="1085.8" r="5.0"/><circle cx="567.0" cy="1119.0" r="5.0"/><circle cx="629.4" cy="1091.4" r="5.0"/><circle cx="509.4" cy="1103.6" r="5.0"/><circle cx="570.8" cy="1114.3" r="5.0"/><circle cx="567.7" cy="1099.4" r="5.0"/><circle cx="564.5" cy="1096.4" r="5.0"/><circle cx="512.7" cy="1116.4" r="5.0"/><circle cx="594.1" cy="1089.7" r="5.0"/><circle cx="507.8" cy="1104.9" r="5.0"/><circle cx="569.7" cy="1106.8" r="5.0"/><circle cx="657.0" cy="1142.4" r="5.0"/><circle cx="576.8" cy="1095.7" r="5.0"/><circle cx="504.3" cy="1071.4" r="5.0"/><circle cx="582.1" cy="1090.2" r="5.0"/><circle cx="504.3" cy="1112.1" r="5.0"/><circle cx="530.7" cy="1081.3" r="5.0"/><circle cx="581.6" cy="1130.9" r="5.0"/><circle cx="533.0" cy="1079.3" r="5.0"/><circle cx="561.8" cy="1086.0" r="5.0"/><circle cx="568.4" cy="1133.1" r="5.0"/><circle cx="626.2" cy="1085.2" r="5.0"/><circle cx="472.8" cy="1102.0" r="5.0"/><circle cx="563.7" cy="1116.3" r="5.0"/><circle cx="634.2" cy="1091.3" r="5.0"/><circle cx="595.3" cy="1106.8" r="5.0"/><circle cx="580.1" cy="1141.3" r="5.0"/><circle cx="588.1" cy="1109.9" r="5.0"/><circle cx="596.9" cy="1097.4" r="5.0"/><circle cx="628.8" cy="1114.5" r="5.0"/><circle cx="673.5" cy="1090.4" r="5.0"/><circle cx="597.6" cy="1086.8" r="5.0"/><circle cx="562.1" cy="1089.9" r="5.0"/><circle cx="643.8" cy="1133.4" r="5.0"/><circle cx="625.9" cy="1096.2" r="5.0"/><circle cx="606.6" cy="1108.5" r="5.0"/><circle cx="598.6" cy="1115.1" r="5.0"/><circle cx="559.5" cy="1102.5" r="5.0"/><circle cx="509.8" cy="1086.4" r="5.0"/><circle cx="632.5" cy="1075.8" r="5.0"/><circle cx="528.0" cy="1092.3" r="5.0"/><circle cx="515.1" cy="1078.2" r="5.0"/><circle cx="532.4" cy="1125.5" r="5.0"/><circle cx="590.7" cy="1102.0" r="5.0"/><circle cx="623.4" cy="1137.0" r="5.0"/><circle cx="601.8" cy="1113.9" r="5.0"/><circle cx="666.8" cy="1075.3" r="5.0"/><circle cx="661.7" cy="1106.7" r="5.0"/><circle cx="571.6" cy="1126.2" r="5.0"/><circle cx="632.4" cy="1110.2" r="5.0"/><circle cx="572.8" cy="1100.9" r="5.0"/><circle cx="553.1" cy="1099.8" r="5.0"/><circle cx="663.5" cy="1088.1" r="5.0"/><circle cx="586.0" cy="1132.0" r="5.0"/><circle cx="610.7" cy="1090.2" r="5.0"/><circle cx="516.9" cy="1104.8" r="5.0"/><circle cx="578.9" cy="1095.2" r="5.0"/><circle cx="651.5" cy="1112.3" r="5.0"/><circle cx="562.2" cy="1079.1" r="5.0"/><circle cx="599.1" cy="1123.0" r="5.0"/><circle cx="581.0" cy="1099.7" r="5.0"/><circle cx="631.6" cy="1095.7" r="5.0"/><circle cx="641.7" cy="1096.7" r="5.0"/><circle cx="610.1" cy="1106.0" r="5.0"/><circle cx="579.9" cy="1130.5" r="5.0"/><circle cx="608.4" cy="1113.2" r="5.0"/><circle cx="598.9" cy="1134.3" r="5.0"/><circle cx="591.4" cy="1113.0" r="5.0"/><circle cx="585.8" cy="1082.3" r="5.0"/><circle cx="511.9" cy="1093.5" r="5.0"/><circle cx="554.0" cy="1095.0" r="5.0"/><circle cx="546.8" cy="1070.8" r="5.0"/><circle cx="614.7" cy="1107.3" r="5.0"/><circle cx="582.4" cy="1107.3" r="5.0"/><circle cx="611.4" cy="1088.3" r="5.0"/><circle cx="590.8" cy="1094.6" r="5.0"/><circle cx="518.7" cy="1093.4" r="5.0"/><circle cx="587.4" cy="1115.5" r="5.0"/><circle cx="572.2" cy="1109.8" r="5.0"/><circle cx="621.2" cy="1110.9" r="5.0"/><circle cx="558.1" cy="1097.1" r="5.0"/><circle cx="625.0" cy="1093.2" r="5.0"/><circle cx="529.2" cy="1088.0" r="5.0"/><circle cx="612.4" cy="1128.3" r="5.0"/><circle cx="586.3" cy="1086.3" r="5.0"/><circle cx="556.0" cy="1128.5" r="5.0"/><circle cx="505.9" cy="1090.9" r="5.0"/><circle cx="483.9" cy="1103.6" r="5.0"/><circle cx="516.6" cy="1119.2" r="5.0"/><circle cx="630.6" cy="1121.5" r="5.0"/><circle cx="548.1" cy="1130.3" r="5.0"/><circle cx="597.7" cy="1112.0" r="5.0"/><circle cx="606.3" cy="1099.9" r="5.0"/><circle cx="558.2" cy="1107.5" r="5.0"/><circle cx="608.3" cy="1107.4" r="5.0"/><circle cx="522.4" cy="1093.0" r="5.0"/><circle cx="625.1" cy="1112.9" r="5.0"/><circle cx="643.7" cy="1117.7" r="5.0"/><circle cx="546.6" cy="1102.2" r="5.0"/><circle cx="588.6" cy="1092.0" r="5.0"/><circle cx="595.8" cy="1102.1" r="5.0"/><circle cx="589.8" cy="1102.3" r="5.0"/><circle cx="588.5" cy="1137.7" r="5.0"/><circle cx="556.5" cy="1058.6" r="5.0"/><circle cx="585.5" cy="1080.0" r="5.0"/><circle cx="541.1" cy="1094.9" r="5.0"/><circle cx="541.0" cy="1089.7" r="5.0"/><circle cx="609.6" cy="1065.1" r="5.0"/><circle cx="545.1" cy="1089.6" r="5.0"/><circle cx="548.1" cy="1070.7" r="5.0"/><circle cx="544.6" cy="1093.8" r="5.0"/><circle cx="621.8" cy="1099.7" r="5.0"/><circle cx="513.5" cy="1090.1" r="5.0"/><circle cx="649.0" cy="1115.6" r="5.0"/><circle cx="577.9" cy="1081.4" r="5.0"/><circle cx="603.5" cy="1110.0" r="5.0"/><circle cx="671.9" cy="1072.9" r="5.0"/><circle cx="438.5" cy="1079.2" r="5.0"/><circle cx="457.0" cy="1091.2" r="5.0"/><circle cx="464.6" cy="1102.3" r="5.0"/><circle cx="451.3" cy="1097.5" r="5.0"/><circle cx="467.8" cy="1096.1" r="5.0"/><circle cx="446.2" cy="1101.2" r="5.0"/><circle cx="447.8" cy="1093.0" r="5.0"/><circle cx="432.5" cy="1095.0" r="5.0"/><circle cx="457.0" cy="1093.3" r="5.0"/><circle cx="444.1" cy="1133.6" r="5.0"/><circle cx="449.5" cy="1089.7" r="5.0"/><circle cx="457.7" cy="1096.1" r="5.0"/><circle cx="467.0" cy="1056.8" r="5.0"/><circle cx="464.5" cy="1099.3" r="5.0"/><circle cx="466.2" cy="1098.2" r="5.0"/><circle cx="447.0" cy="1102.7" r="5.0"/><circle cx="442.3" cy="1084.9" r="5.0"/><circle cx="449.0" cy="1062.4" r="5.0"/><circle cx="443.9" cy="1113.2" r="5.0"/><circle cx="454.3" cy="1091.0" r="5.0"/><circle cx="451.2" cy="1068.1" r="5.0"/><circle cx="448.6" cy="1084.2" r="5.0"/><circle cx="449.0" cy="1080.5" r="5.0"/><circle cx="453.7" cy="1119.6" r="5.0"/><circle cx="460.3" cy="1066.8" r="5.0"/><circle cx="439.3" cy="1081.3" r="5.0"/><circle cx="459.7" cy="1065.0" r="5.0"/><circle cx="430.4" cy="1083.0" r="5.0"/><circle cx="453.3" cy="1063.0" r="5.0"/><circle cx="431.8" cy="1084.9" r="5.0"/><circle cx="452.6" cy="1093.0" r="5.0"/><circle cx="437.0" cy="1087.7" r="5.0"/><circle cx="449.7" cy="1101.7" r="5.0"/><circle cx="459.9" cy="1082.1" r="5.0"/><circle cx="435.4" cy="1078.6" r="5.0"/><circle cx="459.2" cy="1090.1" r="5.0"/><circle cx="200.1" cy="1123.7" r="5.0"/><circle cx="215.5" cy="1134.9" r="5.0"/><circle cx="267.6" cy="1100.8" r="5.0"/><circle cx="271.4" cy="1129.5" r="5.0"/><circle cx="203.8" cy="1271.6" r="5.0"/><circle cx="219.0" cy="1284.2" r="5.0"/><circle cx="319.5" cy="1277.2" r="5.0"/><circle cx="263.9" cy="1205.9" r="5.0"/><circle cx="282.3" cy="1169.3" r="5.0"/><circle cx="286.1" cy="1173.9" r="5.0"/><circle cx="282.3" cy="1179.1" r="5.0"/><circle cx="282.3" cy="1189.1" r="5.0"/><circle cx="286.1" cy="1189.1" r="5.0"/><circle cx="297.3" cy="1191.9" r="5.0"/><circle cx="297.3" cy="1165.0" r="5.0"/><circle cx="300.8" cy="1158.7" r="5.0"/><circle cx="308.3" cy="1153.4" r="5.0"/><circle cx="316.0" cy="1152.9" r="5.0"/><circle cx="312.0" cy="1169.3" r="5.0"/><circle cx="327.0" cy="1164.6" r="5.0"/><circle cx="334.2" cy="1169.3" r="5.0"/><circle cx="345.4" cy="1166.9" r="5.0"/><circle cx="349.2" cy="1172.8" r="5.0"/><circle cx="341.7" cy="1147.1" r="5.0"/><circle cx="349.2" cy="1153.4" r="5.0"/><circle cx="360.4" cy="1145.4" r="5.0"/><circle cx="316.0" cy="1129.1" r="5.0"/><circle cx="330.7" cy="1133.0" r="5.0"/><circle cx="345.4" cy="1126.7" r="5.0"/><circle cx="323.0" cy="1059.4" r="5.0"/><circle cx="338.2" cy="1061.3" r="5.0"/><circle cx="349.2" cy="1061.3" r="5.0"/><circle cx="312.0" cy="1078.1" r="5.0"/><circle cx="323.0" cy="1096.1" r="5.0"/><circle cx="341.7" cy="1096.1" r="5.0"/><circle cx="349.2" cy="1107.3" r="5.0"/><circle cx="356.4" cy="1113.6" r="5.0"/><circle cx="356.4" cy="1075.3" r="5.0"/><circle cx="363.9" cy="1102.7" r="5.0"/><circle cx="371.6" cy="1115.5" r="5.0"/><circle cx="371.6" cy="1119.0" r="5.0"/><circle cx="371.6" cy="1126.7" r="5.0"/><circle cx="379.1" cy="1065.3" r="5.0"/><circle cx="379.1" cy="1086.3" r="5.0"/><circle cx="382.8" cy="1087.0" r="5.0"/><circle cx="394.0" cy="1127.2" r="5.0"/><circle cx="397.8" cy="1127.2" r="5.0"/><circle cx="394.0" cy="1147.1" r="5.0"/><circle cx="397.8" cy="1061.3" r="5.0"/><circle cx="390.3" cy="1074.6" r="5.0"/><circle cx="412.5" cy="1052.4" r="5.0"/><circle cx="427.4" cy="1041.9" r="5.0"/><circle cx="416.4" cy="1147.1" r="5.0"/><circle cx="409.0" cy="1082.8" r="5.0"/><circle cx="416.4" cy="1087.5" r="5.0"/><circle cx="420.0" cy="1114.3" r="5.0"/><circle cx="427.4" cy="1127.2" r="5.0"/><circle cx="427.4" cy="1141.2" r="5.0"/><circle cx="583.0" cy="1180.2" r="5.0"/><circle cx="597.9" cy="1168.0" r="5.0"/><circle cx="638.7" cy="1165.0" r="5.0"/><circle cx="646.1" cy="1155.2" r="5.0"/><circle cx="653.4" cy="1149.6" r="5.0"/><circle cx="679.7" cy="1083.4" r="5.0"/><circle cx="679.7" cy="1117.5" r="5.0"/><circle cx="624.2" cy="1047.7" r="5.0"/><circle cx="635.2" cy="1055.9" r="5.0"/><circle cx="660.9" cy="1062.0" r="5.0"/><circle cx="597.9" cy="1051.5" r="5.0"/><circle cx="434.2" cy="1050.6" r="5.0"/><circle cx="442.0" cy="1055.9" r="5.0"/><circle cx="472.2" cy="1046.6" r="5.0"/><circle cx="460.4" cy="1151.0" r="5.0"/><circle cx="431.2" cy="1141.2" r="5.0"/><circle cx="501.2" cy="1153.1" r="5.0"/><circle cx="523.5" cy="1159.6" r="5.0"/><circle cx="531.3" cy="1151.7" r="5.0"/></g>
<path d="M200.0,1207.5C205.0,1205.2 220.0,1198.7 230.0,1193.5C240.0,1188.3 250.0,1182.5 260.0,1176.5C270.0,1170.5 280.0,1164.1 290.0,1157.5C300.0,1150.9 310.8,1143.2 320.0,1137.0C329.2,1130.8 338.3,1124.6 345.0,1120.5C351.7,1116.4 355.5,1114.9 360.4,1112.5C365.3,1110.1 369.7,1108.0 374.4,1106.2C379.1,1104.4 383.0,1102.8 388.4,1101.5C393.8,1100.2 400.1,1099.1 407.0,1098.3C413.9,1097.5 419.5,1096.9 430.0,1096.8C440.5,1096.7 455.0,1096.9 470.0,1097.5C485.0,1098.1 505.0,1099.5 520.0,1100.5C535.0,1101.5 546.7,1102.7 560.0,1103.5C573.3,1104.3 580.0,1104.9 600.0,1105.3C620.0,1105.7 666.7,1105.6 680.0,1105.7" fill="none" stroke="#E69F00" stroke-width="3.5"/>
<path d="M104.0,1065.7C105.4,1065.9 109.7,1066.3 112.5,1066.7C115.3,1067.0 118.2,1067.3 121.0,1067.6C123.9,1067.9 126.7,1068.3 129.5,1068.6C132.4,1068.9 135.2,1069.2 138.0,1069.6C140.9,1069.9 143.7,1070.2 146.5,1070.5C149.4,1070.8 152.2,1071.2 155.1,1071.5C157.9,1071.8 160.7,1072.1 163.6,1072.3C166.4,1072.6 169.2,1072.8 172.1,1073.0C174.9,1073.3 177.7,1073.5 180.6,1073.7C183.4,1074.0 186.2,1074.2 189.1,1074.4C191.9,1074.7 194.8,1074.9 197.6,1075.1C200.4,1075.4 203.3,1075.6 206.1,1075.8C208.9,1076.0 211.8,1076.2 214.6,1076.4C217.4,1076.6 220.3,1076.8 223.1,1076.9C226.0,1077.1 228.8,1077.2 231.6,1077.4C234.5,1077.5 237.3,1077.7 240.1,1077.8C243.0,1078.0 245.8,1078.1 248.6,1078.3C251.5,1078.4 254.3,1078.6 257.2,1078.7C260.0,1078.8 262.8,1079.0 265.7,1079.1C268.5,1079.3 271.3,1079.4 274.2,1079.6C277.0,1079.7 279.8,1079.9 282.7,1080.0C285.5,1080.2 288.4,1080.3 291.2,1080.5C294.0,1080.6 296.9,1080.8 299.7,1080.9C302.5,1081.0 305.4,1081.1 308.2,1081.2C311.0,1081.3 313.9,1081.4 316.7,1081.6C319.5,1081.7 322.4,1081.9 325.2,1082.1C328.1,1082.3 330.9,1082.5 333.7,1082.7C336.6,1082.8 339.4,1083.0 342.2,1083.2C345.1,1083.4 347.9,1083.6 350.7,1083.8C353.6,1083.9 356.4,1084.1 359.3,1084.3C362.1,1084.5 364.9,1084.7 367.8,1084.9C370.6,1085.0 373.4,1085.2 376.3,1085.4C379.1,1085.6 381.9,1085.8 384.8,1086.0C387.6,1086.2 390.5,1086.4 393.3,1086.6C396.1,1086.9 399.0,1087.1 401.8,1087.3C404.6,1087.6 407.5,1087.8 410.3,1088.0C413.1,1088.3 416.0,1088.5 418.8,1088.7C421.6,1089.0 424.5,1089.2 427.3,1089.4C430.2,1089.7 433.0,1089.9 435.8,1090.2C438.7,1090.5 441.5,1090.8 444.3,1091.0C447.2,1091.3 450.0,1091.6 452.8,1091.8C455.7,1092.1 458.5,1092.4 461.4,1092.7C464.2,1092.9 467.0,1093.2 469.9,1093.5C472.7,1093.7 475.5,1094.0 478.4,1094.2C481.2,1094.5 484.0,1094.7 486.9,1094.9C489.7,1095.2 492.6,1095.4 495.4,1095.7C498.2,1095.9 501.1,1096.2 503.9,1096.4C506.7,1096.6 509.6,1096.9 512.4,1097.1C515.2,1097.4 518.1,1097.6 520.9,1097.9C523.8,1098.1 526.6,1098.4 529.4,1098.6C532.3,1098.8 535.1,1099.1 537.9,1099.3C540.8,1099.5 543.6,1099.7 546.4,1099.9C549.3,1100.1 552.1,1100.3 554.9,1100.5C557.8,1100.7 560.6,1100.9 563.5,1101.1C566.3,1101.3 569.1,1101.5 572.0,1101.7C574.8,1101.9 577.6,1102.1 580.5,1102.2C583.3,1102.3 586.1,1102.3 589.0,1102.3C591.8,1102.4 594.7,1102.4 597.5,1102.4C600.3,1102.4 604.6,1102.5 606.0,1102.5L606.0,1111.5C604.6,1111.3 600.3,1110.8 597.5,1110.4C594.7,1110.1 591.8,1109.7 589.0,1109.4C586.1,1109.0 583.3,1108.6 580.5,1108.3C577.6,1108.0 574.8,1107.9 572.0,1107.7C569.1,1107.5 566.3,1107.3 563.5,1107.1C560.6,1106.9 557.8,1106.7 554.9,1106.5C552.1,1106.3 549.3,1106.1 546.4,1105.9C543.6,1105.7 540.8,1105.6 537.9,1105.4C535.1,1105.2 532.3,1105.1 529.4,1104.9C526.6,1104.7 523.8,1104.6 520.9,1104.4C518.1,1104.2 515.2,1104.1 512.4,1103.9C509.6,1103.8 506.7,1103.6 503.9,1103.4C501.1,1103.3 498.2,1103.1 495.4,1103.0C492.6,1102.8 489.7,1102.6 486.9,1102.5C484.0,1102.3 481.2,1102.1 478.4,1102.0C475.5,1101.8 472.7,1101.6 469.9,1101.5C467.0,1101.3 464.2,1101.2 461.4,1101.0C458.5,1100.9 455.7,1100.7 452.8,1100.6C450.0,1100.4 447.2,1100.3 444.3,1100.1C441.5,1100.0 438.7,1099.8 435.8,1099.7C433.0,1099.5 430.2,1099.4 427.3,1099.3C424.5,1099.1 421.6,1099.0 418.8,1098.9C416.0,1098.8 413.1,1098.7 410.3,1098.6C407.5,1098.5 404.6,1098.4 401.8,1098.3C399.0,1098.1 396.1,1098.0 393.3,1097.9C390.5,1097.8 387.6,1097.7 384.8,1097.6C381.9,1097.5 379.1,1097.4 376.3,1097.3C373.4,1097.3 370.6,1097.2 367.8,1097.1C364.9,1097.1 362.1,1097.0 359.3,1096.9C356.4,1096.9 353.6,1096.8 350.7,1096.7C347.9,1096.7 345.1,1096.6 342.2,1096.5C339.4,1096.5 336.6,1096.4 333.7,1096.3C330.9,1096.2 328.1,1096.2 325.2,1096.1C322.4,1096.0 319.5,1095.9 316.7,1095.9C313.9,1095.9 311.0,1095.9 308.2,1095.9C305.4,1095.9 302.5,1095.9 299.7,1095.9C296.9,1096.0 294.0,1096.0 291.2,1096.1C288.4,1096.2 285.5,1096.2 282.7,1096.3C279.8,1096.4 277.0,1096.4 274.2,1096.5C271.3,1096.6 268.5,1096.6 265.7,1096.7C262.8,1096.8 260.0,1096.8 257.2,1096.9C254.3,1097.0 251.5,1097.0 248.6,1097.1C245.8,1097.2 243.0,1097.2 240.1,1097.3C237.3,1097.4 234.5,1097.4 231.6,1097.5C228.8,1097.6 226.0,1097.6 223.1,1097.7C220.3,1097.8 217.4,1097.9 214.6,1098.0C211.8,1098.1 208.9,1098.3 206.1,1098.4C203.3,1098.5 200.4,1098.6 197.6,1098.7C194.8,1098.9 191.9,1098.9 189.1,1099.0C186.2,1099.1 183.4,1099.2 180.6,1099.3C177.7,1099.4 174.9,1099.5 172.1,1099.6C169.2,1099.7 166.4,1099.8 163.6,1099.9C160.7,1100.0 157.9,1100.2 155.1,1100.4C152.2,1100.5 149.4,1100.7 146.5,1100.9C143.7,1101.1 140.9,1101.3 138.0,1101.5C135.2,1101.7 132.4,1101.8 129.5,1102.0C126.7,1102.2 123.9,1102.4 121.0,1102.6C118.2,1102.8 115.3,1103.0 112.5,1103.1C109.7,1103.3 105.4,1103.6 104.0,1103.7Z" fill="#D3D3D3" fill-opacity="0.45"/>
<g fill="#0072B2" fill-opacity="0.55"><circle cx="591.1" cy="1137.1" r="5.0"/><circle cx="562.3" cy="1091.0" r="5.0"/><circle cx="518.0" cy="1054.8" r="5.0"/><circle cx="591.1" cy="1122.1" r="5.0"/><circle cx="517.8" cy="1056.0" r="5.0"/><circle cx="567.3" cy="1122.2" r="5.0"/><circle cx="579.5" cy="1083.5" r="5.0"/><circle cx="551.8" cy="1070.0" r="5.0"/><circle cx="533.0" cy="1116.6" r="5.0"/><circle cx="544.4" cy="1125.9" r="5.0"/><circle cx="524.9" cy="1096.4" r="5.0"/><circle cx="559.2" cy="1069.5" r="5.0"/><circle cx="532.5" cy="1096.8" r="5.0"/><circle cx="573.1" cy="1104.3" r="5.0"/><circle cx="529.3" cy="1110.9" r="5.0"/><circle cx="556.4" cy="1093.5" r="5.0"/><circle cx="546.1" cy="1104.3" r="5.0"/><circle cx="593.4" cy="1063.7" r="5.0"/><circle cx="569.3" cy="1080.9" r="5.0"/><circle cx="530.6" cy="1107.5" r="5.0"/><circle cx="601.0" cy="1146.0" r="5.0"/><circle cx="526.4" cy="1096.0" r="5.0"/><circle cx="588.3" cy="1093.9" r="5.0"/><circle cx="596.2" cy="1122.6" r="5.0"/><circle cx="525.0" cy="1101.2" r="5.0"/><circle cx="563.4" cy="1116.4" r="5.0"/><circle cx="526.7" cy="1111.2" r="5.0"/><circle cx="551.5" cy="1091.8" r="5.0"/><circle cx="564.4" cy="1095.1" r="5.0"/><circle cx="519.6" cy="1112.1" r="5.0"/><circle cx="552.5" cy="1098.0" r="5.0"/><circle cx="508.4" cy="1082.5" r="5.0"/><circle cx="507.9" cy="1111.1" r="5.0"/><circle cx="528.1" cy="1133.5" r="5.0"/><circle cx="556.2" cy="1120.3" r="5.0"/><circle cx="571.5" cy="1107.2" r="5.0"/><circle cx="552.4" cy="1086.2" r="5.0"/><circle cx="589.1" cy="1148.2" r="5.0"/><circle cx="575.2" cy="1118.0" r="5.0"/><circle cx="505.3" cy="1073.4" r="5.0"/><circle cx="555.8" cy="1105.4" r="5.0"/><circle cx="554.1" cy="1099.0" r="5.0"/><circle cx="577.2" cy="1133.2" r="5.0"/><circle cx="555.7" cy="1122.5" r="5.0"/><circle cx="512.8" cy="1125.1" r="5.0"/><circle cx="534.0" cy="1052.7" r="5.0"/><circle cx="557.7" cy="1060.6" r="5.0"/><circle cx="556.2" cy="1093.0" r="5.0"/><circle cx="575.3" cy="1128.1" r="5.0"/><circle cx="574.6" cy="1104.7" r="5.0"/><circle cx="589.9" cy="1159.6" r="5.0"/><circle cx="545.4" cy="1091.7" r="5.0"/><circle cx="552.1" cy="1077.3" r="5.0"/><circle cx="562.2" cy="1076.0" r="5.0"/><circle cx="513.0" cy="1087.1" r="5.0"/><circle cx="556.6" cy="1089.6" r="5.0"/><circle cx="604.9" cy="1141.4" r="5.0"/><circle cx="526.7" cy="1069.3" r="5.0"/><circle cx="562.5" cy="1084.4" r="5.0"/><circle cx="550.4" cy="1088.8" r="5.0"/><circle cx="552.4" cy="1140.2" r="5.0"/><circle cx="575.4" cy="1091.1" r="5.0"/><circle cx="558.7" cy="1110.9" r="5.0"/><circle cx="530.5" cy="1102.1" r="5.0"/><circle cx="575.2" cy="1097.7" r="5.0"/><circle cx="578.9" cy="1109.6" r="5.0"/><circle cx="546.1" cy="1089.9" r="5.0"/><circle cx="571.4" cy="1136.6" r="5.0"/><circle cx="560.9" cy="1116.9" r="5.0"/><circle cx="543.3" cy="1095.4" r="5.0"/><circle cx="543.5" cy="1096.9" r="5.0"/><circle cx="547.5" cy="1130.7" r="5.0"/><circle cx="589.9" cy="1058.9" r="5.0"/><circle cx="543.3" cy="1102.0" r="5.0"/><circle cx="528.2" cy="1138.6" r="5.0"/><circle cx="522.0" cy="1108.5" r="5.0"/><circle cx="577.5" cy="1078.1" r="5.0"/><circle cx="548.7" cy="1129.3" r="5.0"/><circle cx="573.2" cy="1097.7" r="5.0"/><circle cx="546.1" cy="1142.4" r="5.0"/><circle cx="543.2" cy="1070.9" r="5.0"/><circle cx="557.4" cy="1097.4" r="5.0"/><circle cx="554.4" cy="1131.6" r="5.0"/><circle cx="547.8" cy="1083.3" r="5.0"/><circle cx="508.5" cy="1068.4" r="5.0"/><circle cx="604.1" cy="1117.5" r="5.0"/><circle cx="534.1" cy="1091.8" r="5.0"/><circle cx="519.5" cy="1116.0" r="5.0"/><circle cx="537.5" cy="1095.4" r="5.0"/><circle cx="527.7" cy="1081.5" r="5.0"/><circle cx="545.8" cy="1099.7" r="5.0"/><circle cx="527.5" cy="1102.7" r="5.0"/><circle cx="554.1" cy="1069.8" r="5.0"/><circle cx="569.6" cy="1129.0" r="5.0"/><circle cx="598.8" cy="1082.4" r="5.0"/><circle cx="523.2" cy="1105.5" r="5.0"/><circle cx="571.0" cy="1090.1" r="5.0"/><circle cx="598.1" cy="1099.4" r="5.0"/><circle cx="552.1" cy="1071.2" r="5.0"/><circle cx="520.1" cy="1096.9" r="5.0"/><circle cx="581.4" cy="1094.5" r="5.0"/><circle cx="557.0" cy="1119.7" r="5.0"/><circle cx="521.4" cy="1098.3" r="5.0"/><circle cx="527.4" cy="1079.8" r="5.0"/><circle cx="520.1" cy="1122.6" r="5.0"/><circle cx="596.4" cy="1093.3" r="5.0"/><circle cx="552.8" cy="1122.6" r="5.0"/><circle cx="555.5" cy="1075.4" r="5.0"/><circle cx="551.8" cy="1088.9" r="5.0"/><circle cx="544.6" cy="1145.2" r="5.0"/><circle cx="603.0" cy="1094.5" r="5.0"/><circle cx="512.1" cy="1099.7" r="5.0"/><circle cx="525.4" cy="1128.0" r="5.0"/><circle cx="594.6" cy="1149.5" r="5.0"/><circle cx="560.1" cy="1113.0" r="5.0"/><circle cx="561.1" cy="1056.3" r="5.0"/><circle cx="577.7" cy="1062.3" r="5.0"/><circle cx="516.0" cy="1123.2" r="5.0"/><circle cx="565.5" cy="1123.1" r="5.0"/><circle cx="504.5" cy="1111.3" r="5.0"/><circle cx="536.6" cy="1142.8" r="5.0"/><circle cx="533.6" cy="1096.5" r="5.0"/><circle cx="554.2" cy="1087.5" r="5.0"/><circle cx="580.7" cy="1082.2" r="5.0"/><circle cx="573.4" cy="1116.7" r="5.0"/><circle cx="541.4" cy="1105.6" r="5.0"/><circle cx="541.0" cy="1111.6" r="5.0"/><circle cx="588.7" cy="1090.0" r="5.0"/><circle cx="547.0" cy="1070.0" r="5.0"/><circle cx="592.7" cy="1134.3" r="5.0"/><circle cx="527.8" cy="1065.4" r="5.0"/><circle cx="539.7" cy="1067.8" r="5.0"/><circle cx="557.8" cy="1065.4" r="5.0"/><circle cx="573.7" cy="1118.3" r="5.0"/><circle cx="589.1" cy="1145.1" r="5.0"/><circle cx="519.6" cy="1125.2" r="5.0"/><circle cx="533.9" cy="1110.3" r="5.0"/><circle cx="510.0" cy="1046.7" r="5.0"/><circle cx="531.4" cy="1095.7" r="5.0"/><circle cx="566.8" cy="1119.1" r="5.0"/><circle cx="560.9" cy="1093.7" r="5.0"/><circle cx="554.7" cy="1133.6" r="5.0"/><circle cx="576.7" cy="1123.2" r="5.0"/><circle cx="543.1" cy="1096.2" r="5.0"/><circle cx="551.6" cy="1081.5" r="5.0"/><circle cx="591.9" cy="1132.1" r="5.0"/><circle cx="581.6" cy="1051.6" r="5.0"/><circle cx="574.9" cy="1083.2" r="5.0"/><circle cx="530.6" cy="1121.2" r="5.0"/><circle cx="522.9" cy="1054.7" r="5.0"/><circle cx="558.9" cy="1104.0" r="5.0"/><circle cx="549.4" cy="1114.8" r="5.0"/><circle cx="603.0" cy="1116.4" r="5.0"/><circle cx="542.1" cy="1075.9" r="5.0"/><circle cx="573.0" cy="1110.8" r="5.0"/><circle cx="526.8" cy="1087.8" r="5.0"/><circle cx="539.5" cy="1112.6" r="5.0"/><circle cx="560.0" cy="1140.5" r="5.0"/><circle cx="528.1" cy="1148.9" r="5.0"/><circle cx="584.2" cy="1115.2" r="5.0"/><circle cx="543.3" cy="1097.0" r="5.0"/><circle cx="528.3" cy="1093.2" r="5.0"/><circle cx="586.9" cy="1126.4" r="5.0"/><circle cx="578.2" cy="1109.9" r="5.0"/><circle cx="556.0" cy="1091.3" r="5.0"/><circle cx="570.3" cy="1100.9" r="5.0"/><circle cx="546.8" cy="1092.6" r="5.0"/><circle cx="603.3" cy="1138.3" r="5.0"/><circle cx="584.5" cy="1121.6" r="5.0"/><circle cx="529.0" cy="1121.9" r="5.0"/><circle cx="583.2" cy="1072.9" r="5.0"/><circle cx="511.0" cy="1103.2" r="5.0"/><circle cx="518.6" cy="1122.1" r="5.0"/><circle cx="540.4" cy="1123.8" r="5.0"/><circle cx="554.3" cy="1099.2" r="5.0"/><circle cx="575.3" cy="1069.2" r="5.0"/><circle cx="559.9" cy="1076.9" r="5.0"/><circle cx="573.0" cy="1117.3" r="5.0"/><circle cx="578.3" cy="1113.9" r="5.0"/><circle cx="544.5" cy="1071.5" r="5.0"/><circle cx="578.4" cy="1102.1" r="5.0"/><circle cx="571.0" cy="1086.3" r="5.0"/><circle cx="542.9" cy="1067.4" r="5.0"/><circle cx="551.8" cy="1132.6" r="5.0"/><circle cx="540.9" cy="1097.3" r="5.0"/><circle cx="547.1" cy="1078.9" r="5.0"/><circle cx="558.3" cy="1091.3" r="5.0"/><circle cx="505.9" cy="1104.4" r="5.0"/><circle cx="530.1" cy="1128.9" r="5.0"/><circle cx="542.8" cy="1130.2" r="5.0"/><circle cx="553.6" cy="1103.0" r="5.0"/><circle cx="556.4" cy="1116.6" r="5.0"/><circle cx="561.2" cy="1157.8" r="5.0"/><circle cx="572.7" cy="1094.1" r="5.0"/><circle cx="556.4" cy="1118.4" r="5.0"/><circle cx="574.8" cy="1110.1" r="5.0"/><circle cx="574.2" cy="1124.1" r="5.0"/><circle cx="510.5" cy="1068.5" r="5.0"/><circle cx="566.7" cy="1078.5" r="5.0"/><circle cx="604.9" cy="1142.5" r="5.0"/><circle cx="525.6" cy="1100.3" r="5.0"/><circle cx="587.0" cy="1140.1" r="5.0"/><circle cx="520.9" cy="1139.4" r="5.0"/><circle cx="520.7" cy="1120.4" r="5.0"/><circle cx="565.1" cy="1098.2" r="5.0"/><circle cx="567.1" cy="1106.4" r="5.0"/><circle cx="527.1" cy="1063.3" r="5.0"/><circle cx="584.2" cy="1108.7" r="5.0"/><circle cx="566.3" cy="1126.2" r="5.0"/><circle cx="562.3" cy="1067.2" r="5.0"/><circle cx="557.9" cy="1103.6" r="5.0"/><circle cx="536.4" cy="1088.4" r="5.0"/><circle cx="574.5" cy="1141.5" r="5.0"/><circle cx="571.9" cy="1078.1" r="5.0"/><circle cx="545.0" cy="1120.1" r="5.0"/><circle cx="577.6" cy="1120.9" r="5.0"/><circle cx="547.1" cy="1128.6" r="5.0"/><circle cx="586.3" cy="1106.0" r="5.0"/><circle cx="555.4" cy="1129.1" r="5.0"/><circle cx="543.1" cy="1112.0" r="5.0"/><circle cx="555.8" cy="1076.6" r="5.0"/><circle cx="580.8" cy="1148.3" r="5.0"/><circle cx="532.5" cy="1136.2" r="5.0"/><circle cx="564.6" cy="1131.8" r="5.0"/><circle cx="530.9" cy="1149.2" r="5.0"/><circle cx="531.0" cy="1110.4" r="5.0"/><circle cx="543.0" cy="1090.7" r="5.0"/><circle cx="534.7" cy="1122.6" r="5.0"/><circle cx="569.7" cy="1059.5" r="5.0"/><circle cx="539.4" cy="1098.4" r="5.0"/><circle cx="540.7" cy="1077.3" r="5.0"/><circle cx="563.6" cy="1085.0" r="5.0"/><circle cx="560.1" cy="1126.7" r="5.0"/><circle cx="541.8" cy="1115.6" r="5.0"/><circle cx="545.3" cy="1102.5" r="5.0"/><circle cx="525.0" cy="1108.6" r="5.0"/><circle cx="574.4" cy="1108.7" r="5.0"/><circle cx="560.2" cy="1139.4" r="5.0"/><circle cx="574.6" cy="1090.6" r="5.0"/><circle cx="574.6" cy="1135.3" r="5.0"/><circle cx="534.4" cy="1080.4" r="5.0"/><circle cx="540.3" cy="1106.5" r="5.0"/><circle cx="523.6" cy="1124.4" r="5.0"/><circle cx="530.7" cy="1110.7" r="5.0"/><circle cx="570.1" cy="1116.0" r="5.0"/><circle cx="599.8" cy="1138.6" r="5.0"/><circle cx="550.9" cy="1093.5" r="5.0"/><circle cx="565.8" cy="1091.5" r="5.0"/><circle cx="565.7" cy="1098.3" r="5.0"/><circle cx="538.6" cy="1155.8" r="5.0"/><circle cx="525.7" cy="1098.7" r="5.0"/><circle cx="580.8" cy="1080.8" r="5.0"/><circle cx="568.9" cy="1115.6" r="5.0"/><circle cx="566.8" cy="1113.5" r="5.0"/><circle cx="565.2" cy="1120.4" r="5.0"/><circle cx="522.4" cy="1055.5" r="5.0"/><circle cx="571.9" cy="1123.8" r="5.0"/><circle cx="540.2" cy="1049.7" r="5.0"/><circle cx="559.3" cy="1083.1" r="5.0"/><circle cx="557.2" cy="1072.8" r="5.0"/><circle cx="533.3" cy="1079.2" r="5.0"/><circle cx="513.0" cy="1108.0" r="5.0"/><circle cx="532.5" cy="1101.0" r="5.0"/><circle cx="549.2" cy="1149.5" r="5.0"/><circle cx="585.1" cy="1132.4" r="5.0"/><circle cx="555.8" cy="1146.4" r="5.0"/><circle cx="512.5" cy="1068.0" r="5.0"/><circle cx="553.5" cy="1116.3" r="5.0"/><circle cx="536.4" cy="1092.5" r="5.0"/><circle cx="568.2" cy="1120.4" r="5.0"/><circle cx="558.4" cy="1076.0" r="5.0"/><circle cx="533.1" cy="1107.7" r="5.0"/><circle cx="566.0" cy="1119.7" r="5.0"/><circle cx="534.8" cy="1101.6" r="5.0"/><circle cx="544.4" cy="1106.0" r="5.0"/><circle cx="518.6" cy="1112.1" r="5.0"/><circle cx="517.5" cy="1076.3" r="5.0"/><circle cx="553.4" cy="1107.6" r="5.0"/><circle cx="548.7" cy="1097.3" r="5.0"/><circle cx="561.1" cy="1121.1" r="5.0"/><circle cx="529.5" cy="1123.6" r="5.0"/><circle cx="554.5" cy="1095.7" r="5.0"/><circle cx="581.5" cy="1140.7" r="5.0"/><circle cx="577.5" cy="1110.6" r="5.0"/><circle cx="561.0" cy="1157.4" r="5.0"/><circle cx="553.9" cy="1100.0" r="5.0"/><circle cx="568.3" cy="1121.4" r="5.0"/><circle cx="525.3" cy="1105.8" r="5.0"/><circle cx="600.6" cy="1114.5" r="5.0"/><circle cx="519.0" cy="1125.4" r="5.0"/><circle cx="541.2" cy="1100.0" r="5.0"/><circle cx="544.7" cy="1070.7" r="5.0"/><circle cx="514.9" cy="1086.2" r="5.0"/><circle cx="557.1" cy="1094.0" r="5.0"/><circle cx="552.7" cy="1084.6" r="5.0"/><circle cx="527.0" cy="1078.2" r="5.0"/><circle cx="525.9" cy="1061.9" r="5.0"/><circle cx="587.2" cy="1098.4" r="5.0"/><circle cx="547.8" cy="1115.6" r="5.0"/><circle cx="577.7" cy="1130.7" r="5.0"/><circle cx="578.6" cy="1113.3" r="5.0"/><circle cx="556.2" cy="1113.3" r="5.0"/><circle cx="509.3" cy="1098.5" r="5.0"/><circle cx="540.7" cy="1056.0" r="5.0"/><circle cx="515.6" cy="1103.9" r="5.0"/><circle cx="511.2" cy="1073.8" r="5.0"/><circle cx="560.9" cy="1110.1" r="5.0"/><circle cx="508.1" cy="1110.4" r="5.0"/><circle cx="573.5" cy="1126.0" r="5.0"/><circle cx="546.2" cy="1093.2" r="5.0"/><circle cx="554.4" cy="1126.6" r="5.0"/><circle cx="539.4" cy="1066.4" r="5.0"/><circle cx="593.9" cy="1112.2" r="5.0"/><circle cx="521.4" cy="1081.0" r="5.0"/><circle cx="548.8" cy="1114.3" r="5.0"/><circle cx="570.9" cy="1076.9" r="5.0"/><circle cx="573.0" cy="1128.7" r="5.0"/><circle cx="538.6" cy="1108.0" r="5.0"/><circle cx="570.9" cy="1097.3" r="5.0"/><circle cx="563.1" cy="1122.0" r="5.0"/><circle cx="585.0" cy="1120.3" r="5.0"/><circle cx="570.8" cy="1109.5" r="5.0"/><circle cx="535.6" cy="1098.2" r="5.0"/><circle cx="545.5" cy="1124.1" r="5.0"/><circle cx="545.0" cy="1111.7" r="5.0"/><circle cx="547.6" cy="1082.7" r="5.0"/><circle cx="570.0" cy="1065.5" r="5.0"/><circle cx="577.2" cy="1100.0" r="5.0"/><circle cx="567.4" cy="1134.9" r="5.0"/><circle cx="558.9" cy="1121.9" r="5.0"/><circle cx="581.6" cy="1108.7" r="5.0"/><circle cx="567.2" cy="1072.5" r="5.0"/><circle cx="580.0" cy="1116.7" r="5.0"/><circle cx="585.2" cy="1134.1" r="5.0"/><circle cx="600.2" cy="1123.7" r="5.0"/><circle cx="584.1" cy="1070.6" r="5.0"/><circle cx="571.8" cy="1099.5" r="5.0"/><circle cx="563.3" cy="1111.1" r="5.0"/><circle cx="573.4" cy="1122.3" r="5.0"/><circle cx="539.2" cy="1103.5" r="5.0"/><circle cx="573.1" cy="1077.5" r="5.0"/><circle cx="546.8" cy="1105.5" r="5.0"/><circle cx="554.6" cy="1081.9" r="5.0"/><circle cx="521.3" cy="1098.1" r="5.0"/><circle cx="577.1" cy="1075.0" r="5.0"/><circle cx="571.8" cy="1098.4" r="5.0"/><circle cx="575.4" cy="1107.2" r="5.0"/><circle cx="520.5" cy="1107.4" r="5.0"/><circle cx="576.1" cy="1085.4" r="5.0"/><circle cx="563.1" cy="1098.1" r="5.0"/><circle cx="524.8" cy="1096.9" r="5.0"/><circle cx="532.0" cy="1086.2" r="5.0"/><circle cx="556.1" cy="1116.6" r="5.0"/><circle cx="535.5" cy="1122.2" r="5.0"/><circle cx="568.8" cy="1090.1" r="5.0"/><circle cx="551.4" cy="1078.9" r="5.0"/><circle cx="581.9" cy="1084.6" r="5.0"/><circle cx="578.2" cy="1090.5" r="5.0"/><circle cx="554.5" cy="1071.4" r="5.0"/><circle cx="580.3" cy="1119.2" r="5.0"/><circle cx="561.6" cy="1107.5" r="5.0"/><circle cx="507.2" cy="1080.8" r="5.0"/><circle cx="557.6" cy="1063.2" r="5.0"/><circle cx="566.0" cy="1071.4" r="5.0"/><circle cx="534.3" cy="1125.5" r="5.0"/><circle cx="566.5" cy="1080.7" r="5.0"/><circle cx="556.6" cy="1118.9" r="5.0"/><circle cx="551.8" cy="1068.2" r="5.0"/><circle cx="604.4" cy="1095.4" r="5.0"/><circle cx="538.8" cy="1079.5" r="5.0"/><circle cx="528.8" cy="1135.4" r="5.0"/><circle cx="528.1" cy="1109.6" r="5.0"/><circle cx="588.4" cy="1065.1" r="5.0"/><circle cx="535.3" cy="1117.1" r="5.0"/><circle cx="543.4" cy="1121.1" r="5.0"/><circle cx="554.4" cy="1156.5" r="5.0"/><circle cx="580.3" cy="1084.4" r="5.0"/><circle cx="535.9" cy="1112.3" r="5.0"/><circle cx="538.9" cy="1127.5" r="5.0"/><circle cx="523.1" cy="1081.9" r="5.0"/><circle cx="597.1" cy="1097.9" r="5.0"/><circle cx="525.2" cy="1094.5" r="5.0"/><circle cx="566.6" cy="1140.4" r="5.0"/><circle cx="522.3" cy="1128.4" r="5.0"/><circle cx="516.7" cy="1059.1" r="5.0"/><circle cx="468.3" cy="1124.0" r="5.0"/><circle cx="495.1" cy="1082.6" r="5.0"/><circle cx="501.6" cy="1154.4" r="5.0"/><circle cx="501.4" cy="1077.6" r="5.0"/><circle cx="468.4" cy="1074.7" r="5.0"/><circle cx="470.0" cy="1080.9" r="5.0"/><circle cx="508.4" cy="1097.0" r="5.0"/><circle cx="514.8" cy="1128.4" r="5.0"/><circle cx="501.3" cy="1121.3" r="5.0"/><circle cx="503.5" cy="1095.1" r="5.0"/><circle cx="483.3" cy="1085.0" r="5.0"/><circle cx="468.6" cy="1062.9" r="5.0"/><circle cx="471.4" cy="1079.5" r="5.0"/><circle cx="475.7" cy="1067.9" r="5.0"/><circle cx="473.6" cy="1074.0" r="5.0"/><circle cx="490.0" cy="1087.4" r="5.0"/><circle cx="491.9" cy="1120.5" r="5.0"/><circle cx="511.8" cy="1123.7" r="5.0"/><circle cx="507.9" cy="1129.9" r="5.0"/><circle cx="504.8" cy="1108.7" r="5.0"/><circle cx="499.4" cy="1116.0" r="5.0"/><circle cx="504.3" cy="1075.5" r="5.0"/><circle cx="483.1" cy="1069.1" r="5.0"/><circle cx="472.2" cy="1064.2" r="5.0"/><circle cx="513.2" cy="1121.3" r="5.0"/><circle cx="482.2" cy="1078.0" r="5.0"/><circle cx="477.2" cy="1114.6" r="5.0"/><circle cx="486.2" cy="1109.3" r="5.0"/><circle cx="503.2" cy="1110.8" r="5.0"/><circle cx="481.7" cy="1063.1" r="5.0"/><circle cx="487.4" cy="1109.5" r="5.0"/><circle cx="484.3" cy="1048.3" r="5.0"/><circle cx="482.5" cy="1051.9" r="5.0"/><circle cx="502.2" cy="1134.7" r="5.0"/><circle cx="472.3" cy="1138.3" r="5.0"/><circle cx="488.9" cy="1082.6" r="5.0"/><circle cx="485.0" cy="1120.2" r="5.0"/><circle cx="494.9" cy="1089.6" r="5.0"/><circle cx="473.8" cy="1067.1" r="5.0"/><circle cx="485.3" cy="1091.0" r="5.0"/><circle cx="469.3" cy="1150.1" r="5.0"/><circle cx="499.9" cy="1090.4" r="5.0"/><circle cx="501.0" cy="1085.6" r="5.0"/><circle cx="503.3" cy="1126.9" r="5.0"/><circle cx="486.8" cy="1110.3" r="5.0"/><circle cx="461.7" cy="1109.1" r="5.0"/><circle cx="459.6" cy="1093.4" r="5.0"/><circle cx="453.2" cy="1086.1" r="5.0"/><circle cx="436.8" cy="1095.3" r="5.0"/><circle cx="466.1" cy="1098.8" r="5.0"/><circle cx="463.3" cy="1095.9" r="5.0"/><circle cx="446.0" cy="1093.2" r="5.0"/><circle cx="458.1" cy="1097.6" r="5.0"/><circle cx="432.3" cy="1072.2" r="5.0"/><circle cx="462.6" cy="1074.5" r="5.0"/><circle cx="463.2" cy="1097.6" r="5.0"/><circle cx="444.7" cy="1107.9" r="5.0"/><circle cx="434.2" cy="1099.0" r="5.0"/><circle cx="456.8" cy="1072.2" r="5.0"/><circle cx="458.9" cy="1098.2" r="5.0"/><circle cx="447.9" cy="1098.7" r="5.0"/><circle cx="451.3" cy="1106.4" r="5.0"/><circle cx="452.3" cy="1075.9" r="5.0"/><circle cx="466.9" cy="1072.0" r="5.0"/><circle cx="459.2" cy="1112.7" r="5.0"/><circle cx="430.8" cy="1070.2" r="5.0"/><circle cx="437.0" cy="1098.6" r="5.0"/><circle cx="444.2" cy="1074.0" r="5.0"/><circle cx="436.9" cy="1116.1" r="5.0"/><circle cx="464.8" cy="1080.2" r="5.0"/><circle cx="435.6" cy="1064.2" r="5.0"/><circle cx="464.7" cy="1130.7" r="5.0"/><circle cx="451.7" cy="1088.5" r="5.0"/><circle cx="452.4" cy="1084.0" r="5.0"/><circle cx="457.6" cy="1100.1" r="5.0"/><circle cx="450.2" cy="1084.6" r="5.0"/><circle cx="463.4" cy="1091.3" r="5.0"/><circle cx="442.5" cy="1076.4" r="5.0"/><circle cx="457.9" cy="1083.4" r="5.0"/><circle cx="437.4" cy="1077.9" r="5.0"/><circle cx="449.6" cy="1107.0" r="5.0"/><circle cx="434.7" cy="1109.7" r="5.0"/><circle cx="440.1" cy="1102.8" r="5.0"/><circle cx="443.6" cy="1086.3" r="5.0"/><circle cx="456.5" cy="1080.1" r="5.0"/><circle cx="453.9" cy="1076.9" r="5.0"/><circle cx="465.4" cy="1064.4" r="5.0"/><circle cx="137.2" cy="1001.5" r="5.0"/><circle cx="140.7" cy="1020.4" r="5.0"/><circle cx="170.7" cy="1015.0" r="5.0"/><circle cx="118.6" cy="1033.3" r="5.0"/><circle cx="144.7" cy="1045.4" r="5.0"/><circle cx="200.1" cy="1029.5" r="5.0"/><circle cx="263.9" cy="1011.5" r="5.0"/><circle cx="252.7" cy="1023.0" r="5.0"/><circle cx="271.4" cy="1024.2" r="5.0"/><circle cx="252.7" cy="1049.2" r="5.0"/><circle cx="278.6" cy="1051.7" r="5.0"/><circle cx="289.6" cy="1048.9" r="5.0"/><circle cx="211.3" cy="1061.3" r="5.0"/><circle cx="219.0" cy="1064.1" r="5.0"/><circle cx="223.0" cy="1068.8" r="5.0"/><circle cx="166.7" cy="1072.8" r="5.0"/><circle cx="162.9" cy="1078.6" r="5.0"/><circle cx="185.6" cy="1085.1" r="5.0"/><circle cx="122.1" cy="1087.9" r="5.0"/><circle cx="140.7" cy="1089.8" r="5.0"/><circle cx="122.1" cy="1099.2" r="5.0"/><circle cx="103.8" cy="1121.8" r="5.0"/><circle cx="148.0" cy="1117.1" r="5.0"/><circle cx="166.7" cy="1118.3" r="5.0"/><circle cx="185.6" cy="1121.4" r="5.0"/><circle cx="152.0" cy="1151.0" r="5.0"/><circle cx="126.0" cy="1170.9" r="5.0"/><circle cx="237.7" cy="1226.0" r="5.0"/><circle cx="234.0" cy="1140.5" r="5.0"/><circle cx="245.2" cy="1076.3" r="5.0"/><circle cx="256.4" cy="1073.0" r="5.0"/><circle cx="237.7" cy="1084.0" r="5.0"/><circle cx="237.7" cy="1094.5" r="5.0"/><circle cx="223.0" cy="1095.0" r="5.0"/><circle cx="226.7" cy="1099.2" r="5.0"/><circle cx="219.0" cy="1102.7" r="5.0"/><circle cx="219.0" cy="1107.3" r="5.0"/><circle cx="230.2" cy="1113.6" r="5.0"/><circle cx="223.0" cy="1119.5" r="5.0"/><circle cx="252.7" cy="1095.0" r="5.0"/><circle cx="252.7" cy="1114.3" r="5.0"/><circle cx="252.7" cy="1117.9" r="5.0"/><circle cx="252.7" cy="1120.9" r="5.0"/><circle cx="260.1" cy="1111.5" r="5.0"/><circle cx="271.4" cy="1076.3" r="5.0"/><circle cx="278.6" cy="1077.0" r="5.0"/><circle cx="282.3" cy="1071.1" r="5.0"/><circle cx="282.3" cy="1074.6" r="5.0"/><circle cx="275.1" cy="1096.1" r="5.0"/><circle cx="282.3" cy="1094.5" r="5.0"/><circle cx="278.6" cy="1117.1" r="5.0"/><circle cx="271.4" cy="1126.7" r="5.0"/><circle cx="282.3" cy="1147.8" r="5.0"/><circle cx="293.6" cy="1065.3" r="5.0"/><circle cx="297.3" cy="1100.8" r="5.0"/><circle cx="304.8" cy="1061.8" r="5.0"/><circle cx="312.0" cy="1055.9" r="5.0"/><circle cx="312.0" cy="1061.1" r="5.0"/><circle cx="304.8" cy="1074.6" r="5.0"/><circle cx="304.8" cy="1082.3" r="5.0"/><circle cx="304.8" cy="1100.3" r="5.0"/><circle cx="312.0" cy="1099.2" r="5.0"/><circle cx="304.8" cy="1129.5" r="5.0"/><circle cx="304.8" cy="1134.7" r="5.0"/><circle cx="304.8" cy="1142.4" r="5.0"/><circle cx="319.5" cy="1065.3" r="5.0"/><circle cx="319.5" cy="1071.1" r="5.0"/><circle cx="319.5" cy="1084.0" r="5.0"/><circle cx="319.5" cy="1089.8" r="5.0"/><circle cx="319.5" cy="1102.7" r="5.0"/><circle cx="327.0" cy="1094.5" r="5.0"/><circle cx="330.7" cy="1066.4" r="5.0"/><circle cx="330.7" cy="1102.7" r="5.0"/><circle cx="330.7" cy="1108.0" r="5.0"/><circle cx="327.0" cy="1117.1" r="5.0"/><circle cx="334.2" cy="1121.8" r="5.0"/><circle cx="334.2" cy="1087.9" r="5.0"/><circle cx="338.2" cy="1138.9" r="5.0"/><circle cx="341.7" cy="1067.6" r="5.0"/><circle cx="345.4" cy="1066.9" r="5.0"/><circle cx="341.7" cy="1127.2" r="5.0"/><circle cx="345.4" cy="1082.8" r="5.0"/><circle cx="352.9" cy="1074.6" r="5.0"/><circle cx="352.9" cy="1081.6" r="5.0"/><circle cx="356.4" cy="1082.8" r="5.0"/><circle cx="360.4" cy="1079.3" r="5.0"/><circle cx="356.4" cy="1100.8" r="5.0"/><circle cx="356.4" cy="1107.3" r="5.0"/><circle cx="363.9" cy="1052.4" r="5.0"/><circle cx="367.9" cy="1047.8" r="5.0"/><circle cx="375.3" cy="1049.6" r="5.0"/><circle cx="371.6" cy="1065.3" r="5.0"/><circle cx="371.6" cy="1080.5" r="5.0"/><circle cx="375.3" cy="1072.3" r="5.0"/><circle cx="371.6" cy="1100.8" r="5.0"/><circle cx="379.1" cy="1102.2" r="5.0"/><circle cx="386.5" cy="1074.6" r="5.0"/><circle cx="386.5" cy="1082.8" r="5.0"/><circle cx="390.3" cy="1088.6" r="5.0"/><circle cx="386.5" cy="1106.2" r="5.0"/><circle cx="397.8" cy="1075.3" r="5.0"/><circle cx="405.2" cy="1075.8" r="5.0"/><circle cx="405.2" cy="1085.1" r="5.0"/><circle cx="397.8" cy="1109.7" r="5.0"/><circle cx="401.5" cy="1111.3" r="5.0"/><circle cx="409.0" cy="1117.9" r="5.0"/><circle cx="409.0" cy="1122.1" r="5.0"/><circle cx="416.4" cy="1075.3" r="5.0"/><circle cx="420.0" cy="1070.0" r="5.0"/><circle cx="420.0" cy="1051.3" r="5.0"/><circle cx="416.4" cy="1129.5" r="5.0"/><circle cx="412.5" cy="1141.2" r="5.0"/><circle cx="420.0" cy="1115.5" r="5.0"/><circle cx="427.4" cy="1147.8" r="5.0"/><circle cx="568.5" cy="1180.8" r="5.0"/><circle cx="575.7" cy="1168.5" r="5.0"/><circle cx="516.5" cy="1162.7" r="5.0"/><circle cx="538.4" cy="1161.0" r="5.0"/><circle cx="497.5" cy="1157.5" r="5.0"/><circle cx="553.2" cy="1044.5" r="5.0"/><circle cx="463.9" cy="1049.8" r="5.0"/><circle cx="449.4" cy="1127.7" r="5.0"/><circle cx="483.2" cy="1148.2" r="5.0"/><circle cx="475.3" cy="1144.7" r="5.0"/></g>
<path d="M104.0,1084.7C120.0,1085.1 165.1,1086.3 200.0,1087.0C234.9,1087.7 283.0,1087.8 313.6,1088.6C344.2,1089.4 364.3,1090.7 383.7,1091.7C403.1,1092.7 415.6,1093.5 430.0,1094.5C444.4,1095.5 451.7,1096.2 470.0,1097.5C488.3,1098.8 517.3,1100.9 540.0,1102.5C562.7,1104.1 595.0,1106.2 606.0,1107.0" fill="none" stroke="#0072B2" stroke-width="3.5"/>
<line x1="468.2" y1="1298.0" x2="468.2" y2="987.4" stroke="#BEBEBE" stroke-width="3" stroke-dasharray="23.3 10.3"/>
<line x1="74.8" y1="987.4" x2="74.8" y2="1298.6" stroke="#000" stroke-width="1.15"/>
<line x1="74.3" y1="1298.0" x2="717.0" y2="1298.0" stroke="#000" stroke-width="1.15"/>
<line x1="72.8" y1="1027.6" x2="74.8" y2="1027.6" stroke="#333" stroke-width="1"/>
<text x="71.0" y="1034.2" font-size="18.5" fill="#4D4D4D" text-anchor="end" font-weight="normal" font-family="'Liberation Sans', sans-serif">0.4</text>
<line x1="72.8" y1="1127.0" x2="74.8" y2="1127.0" stroke="#333" stroke-width="1"/>
<text x="71.0" y="1133.6" font-size="18.5" fill="#4D4D4D" text-anchor="end" font-weight="normal" font-family="'Liberation Sans', sans-serif">0.3</text>
<line x1="72.8" y1="1226.4" x2="74.8" y2="1226.4" stroke="#333" stroke-width="1"/>
<text x="71.0" y="1233.0" font-size="18.5" fill="#4D4D4D" text-anchor="end" font-weight="normal" font-family="'Liberation Sans', sans-serif">0.2</text>
<line x1="155.6" y1="1298.0" x2="155.6" y2="1300.2" stroke="#333" stroke-width="1"/>
<text x="155.6" y="1316.0" font-size="18.5" fill="#4D4D4D" text-anchor="middle" font-weight="normal" font-family="'Liberation Sans', sans-serif">25</text>
<line x1="285.8" y1="1298.0" x2="285.8" y2="1300.2" stroke="#333" stroke-width="1"/>
<text x="285.8" y="1316.0" font-size="18.5" fill="#4D4D4D" text-anchor="middle" font-weight="normal" font-family="'Liberation Sans', sans-serif">30</text>
<line x1="416.0" y1="1298.0" x2="416.0" y2="1300.2" stroke="#333" stroke-width="1"/>
<text x="416.0" y="1316.0" font-size="18.5" fill="#4D4D4D" text-anchor="middle" font-weight="normal" font-family="'Liberation Sans', sans-serif">35</text>
<line x1="546.2" y1="1298.0" x2="546.2" y2="1300.2" stroke="#333" stroke-width="1"/>
<text x="546.2" y="1316.0" font-size="18.5" fill="#4D4D4D" text-anchor="middle" font-weight="normal" font-family="'Liberation Sans', sans-serif">40</text>
<line x1="676.4" y1="1298.0" x2="676.4" y2="1300.2" stroke="#333" stroke-width="1"/>
<text x="676.4" y="1316.0" font-size="18.5" fill="#4D4D4D" text-anchor="middle" font-weight="normal" font-family="'Liberation Sans', sans-serif">45</text>
<text x="23.0" y="1144.2" font-size="29.5" fill="#000" text-anchor="middle" font-weight="normal" font-family="'Liberation Sans', sans-serif">γ</text>
<text x="382.0" y="1347.0" font-size="28.7" fill="#000" text-anchor="middle" font-weight="normal" font-family="'Liberation Sans', sans-serif">Weeks</text>
<text x="532.5" y="1029.0" font-size="56.5" fill="#0072B2" text-anchor="start" font-weight="normal" font-family="'DejaVu Sans', sans-serif">*</text>
<text x="621.0" y="1029.0" font-size="56.5" fill="#E69F00" text-anchor="start" font-weight="normal" font-family="'DejaVu Sans', sans-serif">***</text>
</g>
<g id="panel-c">
<g fill-opacity="0.78"><circle cx="996.2" cy="873.5" r="5.3" fill="#FAD21F"/><circle cx="1021.9" cy="849.6" r="5.3" fill="#E6B518"/><circle cx="1139.7" cy="891.4" r="5.3" fill="#C17F0B"/><circle cx="1030.0" cy="930.9" r="5.3" fill="#DFAC16"/><circle cx="948.3" cy="955.2" r="5.3" fill="#FED921"/><circle cx="922.1" cy="928.3" r="5.3" fill="#EDC01B"/><circle cx="1000.7" cy="907.6" r="5.3" fill="#EBBD1A"/><circle cx="1006.2" cy="948.9" r="5.3" fill="#E4B318"/><circle cx="1196.3" cy="1003.7" r="5.3" fill="#BC780A"/><circle cx="1123.4" cy="1030.9" r="5.3" fill="#BC780A"/><circle cx="1016.1" cy="914.4" r="5.3" fill="#F2C71D"/><circle cx="951.7" cy="976.0" r="5.3" fill="#E8B919"/><circle cx="1076.0" cy="976.3" r="5.3" fill="#C88A0E"/><circle cx="1095.1" cy="938.5" r="5.3" fill="#E6B618"/><circle cx="1046.1" cy="891.9" r="5.3" fill="#C4850D"/><circle cx="1080.5" cy="963.8" r="5.3" fill="#C7890E"/><circle cx="1031.0" cy="910.6" r="5.3" fill="#E3B117"/><circle cx="1092.3" cy="954.8" r="5.3" fill="#BF7D0B"/><circle cx="987.8" cy="947.9" r="5.3" fill="#FCD620"/><circle cx="892.1" cy="958.5" r="5.3" fill="#F1C61C"/><circle cx="986.2" cy="919.6" r="5.3" fill="#E1AE17"/><circle cx="1082.7" cy="930.2" r="5.3" fill="#E8B919"/><circle cx="994.9" cy="901.6" r="5.3" fill="#F1C61C"/><circle cx="1148.8" cy="884.7" r="5.3" fill="#BC780A"/><circle cx="1003.9" cy="865.5" r="5.3" fill="#EABB1A"/><circle cx="952.8" cy="824.0" r="5.3" fill="#D09611"/><circle cx="1067.3" cy="931.5" r="5.3" fill="#D39912"/><circle cx="1036.7" cy="992.8" r="5.3" fill="#E3B217"/><circle cx="1166.4" cy="1038.1" r="5.3" fill="#BC780A"/><circle cx="1188.2" cy="1089.3" r="5.3" fill="#B46D07"/><circle cx="1118.9" cy="864.8" r="5.3" fill="#C3830C"/><circle cx="915.8" cy="925.7" r="5.3" fill="#F1C51C"/><circle cx="1068.2" cy="939.6" r="5.3" fill="#EDC01B"/><circle cx="959.4" cy="911.6" r="5.3" fill="#FCD620"/><circle cx="1001.5" cy="894.5" r="5.3" fill="#F0C41C"/><circle cx="918.0" cy="910.1" r="5.3" fill="#F1C61C"/><circle cx="982.2" cy="909.4" r="5.3" fill="#E5B418"/><circle cx="964.2" cy="902.1" r="5.3" fill="#EBBD1A"/><circle cx="949.2" cy="900.2" r="5.3" fill="#E6B518"/><circle cx="1093.5" cy="911.1" r="5.3" fill="#F2C71D"/><circle cx="964.2" cy="902.3" r="5.3" fill="#EFC31C"/><circle cx="1025.7" cy="911.9" r="5.3" fill="#F1C61C"/><circle cx="855.4" cy="912.3" r="5.3" fill="#F4CA1D"/><circle cx="971.1" cy="863.1" r="5.3" fill="#FED821"/><circle cx="1004.0" cy="920.4" r="5.3" fill="#F1C61C"/><circle cx="976.4" cy="901.9" r="5.3" fill="#E2B017"/><circle cx="1009.9" cy="898.7" r="5.3" fill="#EBBD1A"/><circle cx="1095.5" cy="879.7" r="5.3" fill="#E6B618"/><circle cx="929.0" cy="902.9" r="5.3" fill="#F0C41C"/><circle cx="968.6" cy="906.8" r="5.3" fill="#F0C41C"/><circle cx="1079.1" cy="907.0" r="5.3" fill="#E0AD16"/><circle cx="962.6" cy="936.6" r="5.3" fill="#F1C61C"/><circle cx="1085.0" cy="1028.2" r="5.3" fill="#EABB1A"/><circle cx="980.6" cy="893.4" r="5.3" fill="#F7CF1E"/><circle cx="1063.6" cy="959.4" r="5.3" fill="#EEC11B"/><circle cx="987.3" cy="914.3" r="5.3" fill="#F6CD1E"/><circle cx="1073.7" cy="880.1" r="5.3" fill="#E5B518"/><circle cx="950.9" cy="974.4" r="5.3" fill="#EBBC1A"/><circle cx="1010.6" cy="986.8" r="5.3" fill="#E5B418"/><circle cx="984.0" cy="917.6" r="5.3" fill="#EEC21B"/><circle cx="1032.2" cy="930.6" r="5.3" fill="#DFAC16"/><circle cx="1018.0" cy="908.6" r="5.3" fill="#C2810C"/><circle cx="999.1" cy="967.8" r="5.3" fill="#F4CA1D"/><circle cx="1104.5" cy="985.8" r="5.3" fill="#C5860D"/><circle cx="1071.7" cy="973.4" r="5.3" fill="#E3B217"/><circle cx="952.8" cy="884.9" r="5.3" fill="#F8D01F"/><circle cx="1029.8" cy="972.7" r="5.3" fill="#E9BA19"/><circle cx="1088.7" cy="938.3" r="5.3" fill="#C7880D"/><circle cx="991.9" cy="985.0" r="5.3" fill="#F9D21F"/><circle cx="929.2" cy="900.4" r="5.3" fill="#FDD820"/><circle cx="1176.8" cy="939.4" r="5.3" fill="#BC780A"/><circle cx="1001.2" cy="853.8" r="5.3" fill="#E4B318"/><circle cx="1018.3" cy="939.4" r="5.3" fill="#E9BA19"/><circle cx="1085.1" cy="934.7" r="5.3" fill="#EDC01B"/><circle cx="1039.1" cy="890.7" r="5.3" fill="#F6CD1E"/><circle cx="1124.4" cy="976.4" r="5.3" fill="#CD9210"/><circle cx="939.6" cy="860.2" r="5.3" fill="#E5B418"/><circle cx="1099.6" cy="893.8" r="5.3" fill="#D49B12"/><circle cx="1016.0" cy="901.2" r="5.3" fill="#E4B218"/><circle cx="990.7" cy="899.9" r="5.3" fill="#DAA514"/><circle cx="1000.7" cy="949.4" r="5.3" fill="#E5B518"/><circle cx="965.9" cy="916.3" r="5.3" fill="#E7B719"/><circle cx="964.9" cy="859.4" r="5.3" fill="#E9BA19"/><circle cx="940.9" cy="948.3" r="5.3" fill="#F9D11F"/><circle cx="1077.8" cy="906.6" r="5.3" fill="#C7890E"/><circle cx="1063.6" cy="907.9" r="5.3" fill="#CF9410"/><circle cx="992.3" cy="914.7" r="5.3" fill="#EEC11B"/><circle cx="1041.2" cy="893.2" r="5.3" fill="#E5B518"/><circle cx="841.9" cy="924.0" r="5.3" fill="#EFC21B"/><circle cx="942.6" cy="959.8" r="5.3" fill="#F1C61C"/><circle cx="1050.4" cy="898.7" r="5.3" fill="#EABC1A"/><circle cx="1039.9" cy="980.2" r="5.3" fill="#ECBE1A"/><circle cx="939.4" cy="874.9" r="5.3" fill="#F2C71D"/><circle cx="1045.5" cy="877.1" r="5.3" fill="#EEC11B"/><circle cx="1078.4" cy="959.3" r="5.3" fill="#F8D01F"/><circle cx="1060.3" cy="977.7" r="5.3" fill="#EEC11B"/><circle cx="994.3" cy="916.7" r="5.3" fill="#F9D21F"/><circle cx="987.5" cy="908.1" r="5.3" fill="#F4CA1D"/><circle cx="1107.8" cy="838.9" r="5.3" fill="#C1800C"/><circle cx="996.1" cy="965.1" r="5.3" fill="#EABB1A"/><circle cx="1051.1" cy="939.7" r="5.3" fill="#E1AE16"/><circle cx="965.2" cy="899.0" r="5.3" fill="#EBBD1A"/><circle cx="1084.8" cy="927.6" r="5.3" fill="#BF7D0B"/><circle cx="991.6" cy="900.5" r="5.3" fill="#EBBD1A"/><circle cx="960.6" cy="959.0" r="5.3" fill="#E0AD16"/><circle cx="1109.7" cy="915.8" r="5.3" fill="#BF7E0B"/><circle cx="1139.3" cy="1202.9" r="5.3" fill="#B67108"/><circle cx="969.4" cy="966.9" r="5.3" fill="#ECBF1B"/><circle cx="1021.0" cy="888.8" r="5.3" fill="#ECBF1A"/><circle cx="1036.1" cy="970.1" r="5.3" fill="#E8B919"/><circle cx="917.2" cy="881.9" r="5.3" fill="#F8D01E"/><circle cx="1071.5" cy="844.3" r="5.3" fill="#D59C12"/><circle cx="1088.4" cy="943.5" r="5.3" fill="#CB8F0F"/><circle cx="979.7" cy="959.3" r="5.3" fill="#DFAC16"/><circle cx="1037.4" cy="899.2" r="5.3" fill="#E6B518"/><circle cx="970.6" cy="837.3" r="5.3" fill="#F1C61C"/><circle cx="998.0" cy="1047.6" r="5.3" fill="#EFC21B"/><circle cx="1088.9" cy="910.1" r="5.3" fill="#C7880D"/><circle cx="991.6" cy="918.2" r="5.3" fill="#F0C31C"/><circle cx="978.7" cy="887.6" r="5.3" fill="#EBBD1A"/><circle cx="950.3" cy="874.7" r="5.3" fill="#E2AF17"/><circle cx="1014.7" cy="998.2" r="5.3" fill="#EDC01B"/><circle cx="1031.4" cy="912.0" r="5.3" fill="#FED921"/><circle cx="1065.1" cy="925.7" r="5.3" fill="#D19711"/><circle cx="1043.7" cy="907.3" r="5.3" fill="#F6CD1E"/><circle cx="985.4" cy="901.3" r="5.3" fill="#FCD620"/><circle cx="998.0" cy="898.3" r="5.3" fill="#EFC31B"/><circle cx="963.2" cy="956.7" r="5.3" fill="#E6B518"/><circle cx="862.6" cy="888.0" r="5.3" fill="#F0C31C"/><circle cx="1089.1" cy="1022.8" r="5.3" fill="#C88B0E"/><circle cx="1060.3" cy="927.0" r="5.3" fill="#F0C41C"/><circle cx="1064.7" cy="962.7" r="5.3" fill="#F2C71C"/><circle cx="942.7" cy="831.1" r="5.3" fill="#FCD520"/><circle cx="1104.7" cy="966.4" r="5.3" fill="#C5860D"/><circle cx="1093.1" cy="969.3" r="5.3" fill="#C5860D"/><circle cx="1072.0" cy="895.7" r="5.3" fill="#DBA614"/><circle cx="1107.3" cy="900.6" r="5.3" fill="#E7B719"/><circle cx="1023.5" cy="921.7" r="5.3" fill="#EEC11B"/><circle cx="982.4" cy="983.9" r="5.3" fill="#E4B318"/><circle cx="1107.8" cy="913.3" r="5.3" fill="#F1C61C"/><circle cx="1010.2" cy="899.2" r="5.3" fill="#ECBE1A"/><circle cx="1041.0" cy="917.3" r="5.3" fill="#EBBC1A"/><circle cx="1185.9" cy="1030.4" r="5.3" fill="#BC780A"/><circle cx="1051.5" cy="962.8" r="5.3" fill="#D19811"/><circle cx="1018.8" cy="917.2" r="5.3" fill="#ECBE1A"/><circle cx="1072.7" cy="950.3" r="5.3" fill="#E7B719"/><circle cx="1046.4" cy="839.3" r="5.3" fill="#F8D11F"/><circle cx="932.7" cy="917.1" r="5.3" fill="#E5B418"/><circle cx="1030.4" cy="947.0" r="5.3" fill="#E4B217"/><circle cx="996.1" cy="879.4" r="5.3" fill="#ECBE1A"/><circle cx="1029.4" cy="958.1" r="5.3" fill="#E3B117"/><circle cx="982.0" cy="867.7" r="5.3" fill="#D7A013"/><circle cx="984.1" cy="913.7" r="5.3" fill="#F3C81D"/><circle cx="977.6" cy="877.2" r="5.3" fill="#E3B217"/><circle cx="1033.4" cy="926.2" r="5.3" fill="#E7B719"/><circle cx="1099.0" cy="899.6" r="5.3" fill="#C7890E"/><circle cx="1024.8" cy="906.5" r="5.3" fill="#F9D21F"/><circle cx="956.7" cy="941.7" r="5.3" fill="#ECBE1A"/><circle cx="1086.1" cy="984.9" r="5.3" fill="#C4840C"/><circle cx="1112.0" cy="973.2" r="5.3" fill="#CF9510"/><circle cx="954.3" cy="900.3" r="5.3" fill="#FED921"/><circle cx="880.7" cy="903.7" r="5.3" fill="#FED821"/><circle cx="975.4" cy="964.8" r="5.3" fill="#F6CD1E"/><circle cx="1100.8" cy="937.7" r="5.3" fill="#EDBF1B"/><circle cx="1110.8" cy="985.3" r="5.3" fill="#C7880E"/><circle cx="1023.8" cy="930.9" r="5.3" fill="#EFC31C"/><circle cx="1109.9" cy="1004.6" r="5.3" fill="#C6870D"/><circle cx="1099.9" cy="919.8" r="5.3" fill="#C88A0E"/><circle cx="1051.1" cy="908.0" r="5.3" fill="#E1AF17"/><circle cx="1139.3" cy="1062.6" r="5.3" fill="#B67108"/><circle cx="1064.3" cy="950.1" r="5.3" fill="#CF9410"/><circle cx="959.8" cy="952.4" r="5.3" fill="#F1C51C"/><circle cx="1071.0" cy="906.2" r="5.3" fill="#EFC21B"/><circle cx="1055.3" cy="919.6" r="5.3" fill="#EABC1A"/><circle cx="1032.7" cy="909.4" r="5.3" fill="#EEC21B"/><circle cx="1087.4" cy="951.6" r="5.3" fill="#CA8D0E"/><circle cx="998.7" cy="874.1" r="5.3" fill="#F9D11F"/><circle cx="997.3" cy="966.7" r="5.3" fill="#EDC01B"/><circle cx="1033.9" cy="888.0" r="5.3" fill="#EBBD1A"/><circle cx="1076.2" cy="906.6" r="5.3" fill="#D29811"/><circle cx="1243.4" cy="1066.6" r="5.3" fill="#B46D07"/><circle cx="960.4" cy="948.1" r="5.3" fill="#F0C41C"/><circle cx="1022.8" cy="941.5" r="5.3" fill="#F2C71C"/><circle cx="983.6" cy="885.4" r="5.3" fill="#F4CA1D"/><circle cx="1136.1" cy="1030.4" r="5.3" fill="#BC780A"/><circle cx="1031.4" cy="939.6" r="5.3" fill="#E9BA19"/><circle cx="1175.5" cy="1062.1" r="5.3" fill="#B67108"/><circle cx="922.0" cy="860.2" r="5.3" fill="#F1C51C"/><circle cx="999.6" cy="897.1" r="5.3" fill="#F8D01F"/><circle cx="1047.2" cy="874.7" r="5.3" fill="#DBA614"/><circle cx="936.2" cy="841.5" r="5.3" fill="#F2C71C"/><circle cx="974.2" cy="979.6" r="5.3" fill="#F1C61C"/><circle cx="967.7" cy="887.9" r="5.3" fill="#FBD420"/><circle cx="1046.5" cy="980.6" r="5.3" fill="#C6870D"/><circle cx="955.6" cy="914.0" r="5.3" fill="#DCA815"/><circle cx="956.4" cy="973.1" r="5.3" fill="#EEC11B"/><circle cx="1025.4" cy="870.6" r="5.3" fill="#EBBD1A"/><circle cx="1010.1" cy="908.3" r="5.3" fill="#EFC21B"/><circle cx="846.4" cy="886.5" r="5.3" fill="#EABB1A"/><circle cx="1092.5" cy="872.6" r="5.3" fill="#D49B12"/><circle cx="971.3" cy="939.4" r="5.3" fill="#E1AE17"/><circle cx="1066.7" cy="912.7" r="5.3" fill="#BF7D0B"/><circle cx="1053.7" cy="943.2" r="5.3" fill="#E2B017"/><circle cx="925.7" cy="956.5" r="5.3" fill="#F2C61C"/><circle cx="1064.7" cy="942.9" r="5.3" fill="#D09511"/><circle cx="985.7" cy="937.0" r="5.3" fill="#EDBF1B"/><circle cx="1051.1" cy="922.4" r="5.3" fill="#D59D12"/><circle cx="1008.2" cy="860.3" r="5.3" fill="#ECBF1A"/><circle cx="1069.0" cy="981.0" r="5.3" fill="#F2C71D"/><circle cx="1018.6" cy="924.3" r="5.3" fill="#F5CB1D"/><circle cx="975.2" cy="848.8" r="5.3" fill="#E9BB19"/><circle cx="1038.8" cy="947.2" r="5.3" fill="#EDC01B"/><circle cx="1090.1" cy="933.4" r="5.3" fill="#C07F0B"/><circle cx="1064.1" cy="968.9" r="5.3" fill="#EFC31B"/><circle cx="1059.1" cy="887.2" r="5.3" fill="#EFC31C"/><circle cx="1012.6" cy="940.8" r="5.3" fill="#F9D11F"/><circle cx="1113.2" cy="953.2" r="5.3" fill="#C2820C"/><circle cx="1038.0" cy="1017.5" r="5.3" fill="#C3820C"/><circle cx="1026.5" cy="897.2" r="5.3" fill="#EFC31B"/><circle cx="981.6" cy="897.5" r="5.3" fill="#E3B117"/><circle cx="979.2" cy="918.8" r="5.3" fill="#DCA815"/><circle cx="1035.4" cy="975.3" r="5.3" fill="#EFC31C"/><circle cx="983.0" cy="836.3" r="5.3" fill="#F0C41C"/><circle cx="1052.7" cy="928.9" r="5.3" fill="#F4CA1D"/><circle cx="1044.6" cy="969.1" r="5.3" fill="#E6B518"/><circle cx="929.8" cy="834.9" r="5.3" fill="#F9D11F"/><circle cx="951.5" cy="960.7" r="5.3" fill="#EBBD1A"/><circle cx="1057.1" cy="944.9" r="5.3" fill="#EEC11B"/><circle cx="1078.3" cy="918.4" r="5.3" fill="#EBBE1A"/><circle cx="1014.0" cy="902.4" r="5.3" fill="#F0C51C"/><circle cx="972.4" cy="893.2" r="5.3" fill="#F1C61C"/><circle cx="1215.3" cy="1193.9" r="5.3" fill="#B16906"/><circle cx="1086.0" cy="870.5" r="5.3" fill="#E6B618"/><circle cx="1130.1" cy="915.4" r="5.3" fill="#E1AE17"/><circle cx="1049.8" cy="884.3" r="5.3" fill="#F2C71C"/><circle cx="976.6" cy="888.4" r="5.3" fill="#E6B618"/><circle cx="1050.4" cy="918.5" r="5.3" fill="#C2810C"/><circle cx="1001.3" cy="945.3" r="5.3" fill="#ECBF1B"/><circle cx="1068.0" cy="952.3" r="5.3" fill="#F4CA1D"/><circle cx="1017.4" cy="1002.0" r="5.3" fill="#F3C91D"/><circle cx="889.9" cy="930.5" r="5.3" fill="#F4CA1D"/><circle cx="964.0" cy="906.0" r="5.3" fill="#EEC11B"/><circle cx="1034.1" cy="1002.6" r="5.3" fill="#F0C51C"/><circle cx="985.8" cy="898.1" r="5.3" fill="#E7B719"/><circle cx="1076.8" cy="983.4" r="5.3" fill="#BE7C0A"/><circle cx="956.9" cy="898.1" r="5.3" fill="#F2C71C"/><circle cx="948.5" cy="847.1" r="5.3" fill="#EDBF1B"/><circle cx="1069.9" cy="889.3" r="5.3" fill="#E1AE16"/><circle cx="1028.1" cy="867.8" r="5.3" fill="#EEC11B"/><circle cx="974.8" cy="926.0" r="5.3" fill="#FED820"/><circle cx="1075.7" cy="894.5" r="5.3" fill="#EBBD1A"/><circle cx="1020.1" cy="945.7" r="5.3" fill="#F0C41C"/><circle cx="957.2" cy="973.1" r="5.3" fill="#EBBD1A"/><circle cx="1048.7" cy="931.6" r="5.3" fill="#D39912"/><circle cx="1007.9" cy="904.0" r="5.3" fill="#E6B518"/><circle cx="1012.2" cy="890.2" r="5.3" fill="#EFC21B"/><circle cx="1033.4" cy="885.8" r="5.3" fill="#DCA815"/><circle cx="1053.1" cy="898.1" r="5.3" fill="#EBBC1A"/><circle cx="930.6" cy="951.0" r="5.3" fill="#F7CF1E"/><circle cx="923.2" cy="923.4" r="5.3" fill="#EBBC1A"/><circle cx="1005.2" cy="987.4" r="5.3" fill="#F9D21F"/><circle cx="1014.3" cy="845.6" r="5.3" fill="#E1AE16"/><circle cx="1004.2" cy="895.0" r="5.3" fill="#EDBF1B"/><circle cx="976.1" cy="896.0" r="5.3" fill="#FED921"/><circle cx="937.3" cy="896.6" r="5.3" fill="#EABB1A"/><circle cx="1045.5" cy="927.3" r="5.3" fill="#F0C41C"/><circle cx="855.3" cy="888.6" r="5.3" fill="#F3C81D"/><circle cx="1094.3" cy="907.3" r="5.3" fill="#C98B0E"/><circle cx="1027.8" cy="849.0" r="5.3" fill="#EFC31C"/><circle cx="896.2" cy="894.8" r="5.3" fill="#FED921"/><circle cx="1091.5" cy="922.6" r="5.3" fill="#E8B919"/><circle cx="926.8" cy="960.2" r="5.3" fill="#ECBF1A"/><circle cx="896.9" cy="964.3" r="5.3" fill="#F0C41C"/><circle cx="1030.0" cy="943.4" r="5.3" fill="#F5CC1E"/><circle cx="1049.6" cy="892.8" r="5.3" fill="#EBBE1A"/><circle cx="1120.4" cy="860.5" r="5.3" fill="#D29811"/><circle cx="1025.1" cy="921.5" r="5.3" fill="#E3B117"/><circle cx="1096.9" cy="914.4" r="5.3" fill="#E5B418"/><circle cx="1084.3" cy="856.3" r="5.3" fill="#D19811"/><circle cx="1132.0" cy="878.8" r="5.3" fill="#CD9210"/><circle cx="954.9" cy="893.8" r="5.3" fill="#E3B117"/><circle cx="995.7" cy="885.3" r="5.3" fill="#DFAB16"/><circle cx="1049.1" cy="954.4" r="5.3" fill="#F3C81D"/><circle cx="1048.8" cy="930.5" r="5.3" fill="#CA8D0F"/><circle cx="941.9" cy="852.1" r="5.3" fill="#F0C41C"/><circle cx="1045.7" cy="951.8" r="5.3" fill="#EABB1A"/><circle cx="1005.6" cy="943.6" r="5.3" fill="#EFC31B"/><circle cx="1023.0" cy="994.4" r="5.3" fill="#F0C51C"/><circle cx="1019.0" cy="909.0" r="5.3" fill="#EABC1A"/><circle cx="1034.4" cy="900.5" r="5.3" fill="#E8B919"/><circle cx="1122.5" cy="1012.8" r="5.3" fill="#C17F0B"/><circle cx="1006.3" cy="890.7" r="5.3" fill="#F0C41C"/><circle cx="1030.8" cy="900.6" r="5.3" fill="#F1C51C"/><circle cx="945.2" cy="862.3" r="5.3" fill="#F7CF1E"/><circle cx="972.8" cy="933.1" r="5.3" fill="#F1C61C"/><circle cx="989.0" cy="914.0" r="5.3" fill="#DFAB16"/><circle cx="1049.9" cy="919.1" r="5.3" fill="#CF9410"/><circle cx="1065.9" cy="914.3" r="5.3" fill="#CD9110"/><circle cx="969.4" cy="912.7" r="5.3" fill="#DDA915"/><circle cx="1000.0" cy="897.4" r="5.3" fill="#E0AD16"/><circle cx="976.1" cy="877.7" r="5.3" fill="#DFAC16"/><circle cx="1065.3" cy="894.0" r="5.3" fill="#F2C71D"/><circle cx="1048.5" cy="869.7" r="5.3" fill="#F3C81D"/><circle cx="1188.2" cy="1045.4" r="5.3" fill="#BC780A"/><circle cx="977.2" cy="1005.5" r="5.3" fill="#EBBD1A"/><circle cx="1010.1" cy="860.5" r="5.3" fill="#E7B819"/><circle cx="1084.0" cy="947.2" r="5.3" fill="#C5860D"/><circle cx="1023.7" cy="1016.3" r="5.3" fill="#E2B117"/><circle cx="1077.3" cy="905.5" r="5.3" fill="#FED921"/><circle cx="936.5" cy="900.1" r="5.3" fill="#F7CE1E"/><circle cx="1083.3" cy="884.5" r="5.3" fill="#E6B618"/><circle cx="992.0" cy="891.9" r="5.3" fill="#EABB1A"/><circle cx="993.6" cy="927.1" r="5.3" fill="#F7CF1E"/><circle cx="1003.3" cy="900.7" r="5.3" fill="#E6B518"/><circle cx="970.4" cy="921.2" r="5.3" fill="#F4C91D"/><circle cx="1064.6" cy="968.3" r="5.3" fill="#E1AF17"/><circle cx="1065.0" cy="977.0" r="5.3" fill="#CA8D0F"/><circle cx="1108.3" cy="931.5" r="5.3" fill="#C98B0E"/><circle cx="1044.5" cy="988.7" r="5.3" fill="#F2C81D"/><circle cx="998.1" cy="935.5" r="5.3" fill="#E9BA19"/><circle cx="1004.0" cy="851.5" r="5.3" fill="#F1C61C"/><circle cx="1054.9" cy="845.9" r="5.3" fill="#CC900F"/><circle cx="1122.0" cy="860.1" r="5.3" fill="#DDA815"/><circle cx="957.9" cy="872.9" r="5.3" fill="#F0C51C"/><circle cx="978.9" cy="964.4" r="5.3" fill="#EDC01B"/><circle cx="1083.9" cy="942.4" r="5.3" fill="#EBBC1A"/><circle cx="1070.0" cy="944.9" r="5.3" fill="#F0C41C"/><circle cx="1037.2" cy="910.8" r="5.3" fill="#EFC31C"/><circle cx="979.3" cy="881.3" r="5.3" fill="#F2C61C"/><circle cx="1067.8" cy="948.8" r="5.3" fill="#F2C71D"/><circle cx="1074.3" cy="891.0" r="5.3" fill="#E9BB1A"/><circle cx="1061.1" cy="920.6" r="5.3" fill="#E8B919"/><circle cx="1037.6" cy="1013.7" r="5.3" fill="#E5B418"/><circle cx="975.7" cy="965.0" r="5.3" fill="#E8B819"/><circle cx="987.5" cy="909.0" r="5.3" fill="#ECBF1A"/><circle cx="995.0" cy="912.6" r="5.3" fill="#F1C51C"/><circle cx="1100.9" cy="923.6" r="5.3" fill="#C2810C"/><circle cx="1048.7" cy="909.4" r="5.3" fill="#EDC01B"/><circle cx="930.2" cy="891.6" r="5.3" fill="#F4CA1D"/><circle cx="1085.3" cy="954.0" r="5.3" fill="#DCA615"/><circle cx="1116.0" cy="879.4" r="5.3" fill="#CE9310"/><circle cx="1080.5" cy="927.9" r="5.3" fill="#E8B819"/><circle cx="979.3" cy="884.0" r="5.3" fill="#EEC21B"/><circle cx="980.1" cy="894.2" r="5.3" fill="#F1C51C"/><circle cx="1029.6" cy="970.5" r="5.3" fill="#EFC31C"/><circle cx="1078.4" cy="889.0" r="5.3" fill="#CD9210"/><circle cx="1040.6" cy="897.3" r="5.3" fill="#F5CB1D"/><circle cx="987.5" cy="913.5" r="5.3" fill="#E3B217"/><circle cx="1054.1" cy="960.5" r="5.3" fill="#F3C91D"/><circle cx="1062.2" cy="958.2" r="5.3" fill="#BF7D0B"/><circle cx="1075.9" cy="951.5" r="5.3" fill="#EEC11B"/><circle cx="997.6" cy="917.0" r="5.3" fill="#F6CE1E"/><circle cx="974.1" cy="912.0" r="5.3" fill="#E7B819"/><circle cx="1006.8" cy="848.4" r="5.3" fill="#F4CA1D"/><circle cx="1170.0" cy="920.0" r="5.3" fill="#B67108"/><circle cx="975.7" cy="916.6" r="5.3" fill="#F0C41C"/><circle cx="1084.0" cy="992.4" r="5.3" fill="#E3B217"/><circle cx="1149.7" cy="1026.4" r="5.3" fill="#B67108"/><circle cx="1049.5" cy="1002.9" r="5.3" fill="#E8B919"/><circle cx="998.9" cy="970.6" r="5.3" fill="#FAD21F"/><circle cx="991.3" cy="904.0" r="5.3" fill="#EBBD1A"/><circle cx="1100.5" cy="939.3" r="5.3" fill="#E9BA19"/><circle cx="1074.5" cy="911.6" r="5.3" fill="#EEC11B"/><circle cx="1011.2" cy="896.0" r="5.3" fill="#F0C41C"/><circle cx="1044.7" cy="915.2" r="5.3" fill="#E3B117"/><circle cx="968.8" cy="907.7" r="5.3" fill="#F3C81D"/><circle cx="1040.8" cy="861.3" r="5.3" fill="#E5B518"/><circle cx="1013.0" cy="946.1" r="5.3" fill="#FBD420"/><circle cx="983.2" cy="873.2" r="5.3" fill="#EFC31C"/><circle cx="960.1" cy="894.0" r="5.3" fill="#E2B017"/><circle cx="963.3" cy="885.5" r="5.3" fill="#EBBD1A"/><circle cx="1073.6" cy="931.7" r="5.3" fill="#E6B618"/><circle cx="1028.1" cy="923.1" r="5.3" fill="#E1AE16"/><circle cx="979.7" cy="926.6" r="5.3" fill="#E9BA19"/><circle cx="1010.4" cy="885.7" r="5.3" fill="#EEC11B"/><circle cx="985.4" cy="1017.5" r="5.3" fill="#EFC31B"/><circle cx="941.6" cy="896.1" r="5.3" fill="#ECBF1A"/><circle cx="950.2" cy="885.1" r="5.3" fill="#F8D01F"/><circle cx="973.1" cy="884.6" r="5.3" fill="#F4CA1D"/><circle cx="949.9" cy="910.2" r="5.3" fill="#E7B719"/><circle cx="987.1" cy="889.3" r="5.3" fill="#E1AF17"/><circle cx="1090.6" cy="931.1" r="5.3" fill="#E1AF17"/><circle cx="927.1" cy="913.2" r="5.3" fill="#DCA715"/><circle cx="950.2" cy="910.5" r="5.3" fill="#ECBF1B"/><circle cx="1021.9" cy="946.2" r="5.3" fill="#EABB1A"/><circle cx="1144.3" cy="994.7" r="5.3" fill="#BC780A"/><circle cx="976.8" cy="937.4" r="5.3" fill="#EDC11B"/><circle cx="1233.4" cy="857.5" r="5.3" fill="#B67108"/><circle cx="884.5" cy="918.4" r="5.3" fill="#EDC01B"/><circle cx="1107.5" cy="924.3" r="5.3" fill="#DFAB16"/><circle cx="1042.3" cy="926.7" r="5.3" fill="#E4B318"/><circle cx="952.0" cy="958.3" r="5.3" fill="#EBBD1A"/><circle cx="1050.6" cy="833.9" r="5.3" fill="#CE9310"/><circle cx="979.9" cy="902.7" r="5.3" fill="#E1AE16"/><circle cx="1093.8" cy="948.9" r="5.3" fill="#E5B518"/><circle cx="1116.1" cy="995.7" r="5.3" fill="#C07F0B"/><circle cx="951.6" cy="857.4" r="5.3" fill="#F0C41C"/><circle cx="1073.6" cy="915.0" r="5.3" fill="#CD9110"/><circle cx="981.7" cy="966.1" r="5.3" fill="#F7CF1E"/><circle cx="1097.9" cy="953.2" r="5.3" fill="#EABC1A"/><circle cx="945.8" cy="941.8" r="5.3" fill="#F8D01F"/><circle cx="976.0" cy="981.8" r="5.3" fill="#CE9210"/><circle cx="916.1" cy="888.6" r="5.3" fill="#EABB1A"/><circle cx="1001.3" cy="933.0" r="5.3" fill="#E1AE16"/><circle cx="1033.8" cy="896.8" r="5.3" fill="#EEC11B"/><circle cx="978.3" cy="867.4" r="5.3" fill="#BF7D0B"/><circle cx="1012.2" cy="949.3" r="5.3" fill="#ECBE1A"/><circle cx="1013.6" cy="911.2" r="5.3" fill="#ECBF1A"/><circle cx="1025.9" cy="983.2" r="5.3" fill="#E5B418"/><circle cx="1139.3" cy="1035.4" r="5.3" fill="#BC780A"/><circle cx="1170.0" cy="1004.6" r="5.3" fill="#BC780A"/><circle cx="1176.8" cy="1213.8" r="5.3" fill="#B16906"/><circle cx="924.9" cy="907.4" r="5.3" fill="#F2C71C"/><circle cx="1018.1" cy="888.2" r="5.3" fill="#F4CB1D"/><circle cx="1010.4" cy="863.1" r="5.3" fill="#F3C81D"/><circle cx="1046.7" cy="862.7" r="5.3" fill="#E5B418"/><circle cx="1002.2" cy="910.1" r="5.3" fill="#E9B919"/><circle cx="1041.0" cy="936.7" r="5.3" fill="#E1AE16"/><circle cx="1070.6" cy="904.5" r="5.3" fill="#EABB1A"/><circle cx="954.3" cy="930.4" r="5.3" fill="#E8B919"/><circle cx="1030.8" cy="839.3" r="5.3" fill="#EEC11B"/><circle cx="1012.7" cy="1000.7" r="5.3" fill="#F4CA1D"/><circle cx="973.9" cy="875.9" r="5.3" fill="#E6B618"/><circle cx="917.5" cy="948.5" r="5.3" fill="#F4CA1D"/><circle cx="1091.0" cy="955.5" r="5.3" fill="#F4CA1D"/><circle cx="968.5" cy="898.1" r="5.3" fill="#F6CD1E"/><circle cx="1129.3" cy="991.0" r="5.3" fill="#C17F0B"/><circle cx="967.6" cy="880.4" r="5.3" fill="#E8B819"/><circle cx="1022.8" cy="858.8" r="5.3" fill="#EABC1A"/><circle cx="1040.5" cy="852.7" r="5.3" fill="#F7CF1E"/><circle cx="990.0" cy="919.6" r="5.3" fill="#F9D11F"/><circle cx="982.0" cy="857.3" r="5.3" fill="#E0AD16"/><circle cx="1063.4" cy="945.5" r="5.3" fill="#E8B919"/><circle cx="967.0" cy="882.9" r="5.3" fill="#EDC01B"/><circle cx="1067.0" cy="1017.2" r="5.3" fill="#F2C81D"/><circle cx="998.3" cy="896.5" r="5.3" fill="#E3B117"/><circle cx="956.3" cy="908.5" r="5.3" fill="#EFC31C"/><circle cx="952.8" cy="891.1" r="5.3" fill="#E8B819"/><circle cx="1055.2" cy="974.5" r="5.3" fill="#CF9410"/><circle cx="1061.7" cy="921.8" r="5.3" fill="#ECBE1A"/><circle cx="961.6" cy="884.2" r="5.3" fill="#EABC1A"/><circle cx="1040.4" cy="913.3" r="5.3" fill="#EFC31B"/><circle cx="1041.8" cy="881.1" r="5.3" fill="#DAA414"/><circle cx="1019.5" cy="877.3" r="5.3" fill="#F2C61C"/><circle cx="1040.3" cy="923.8" r="5.3" fill="#EBBE1A"/><circle cx="1003.2" cy="897.2" r="5.3" fill="#FED921"/><circle cx="938.8" cy="871.5" r="5.3" fill="#E9BA19"/><circle cx="1008.2" cy="867.5" r="5.3" fill="#EDC01B"/><circle cx="1024.9" cy="881.8" r="5.3" fill="#DFAB16"/><circle cx="972.4" cy="891.8" r="5.3" fill="#F4CA1D"/><circle cx="1077.0" cy="895.5" r="5.3" fill="#EBBD1A"/><circle cx="1070.3" cy="910.4" r="5.3" fill="#E2B017"/><circle cx="1080.2" cy="874.5" r="5.3" fill="#EDC01B"/><circle cx="1007.4" cy="884.8" r="5.3" fill="#E6B618"/><circle cx="969.8" cy="904.7" r="5.3" fill="#F8D01F"/><circle cx="1034.6" cy="899.3" r="5.3" fill="#FED921"/><circle cx="984.7" cy="947.5" r="5.3" fill="#F8D01E"/><circle cx="1051.2" cy="902.2" r="5.3" fill="#E3B217"/><circle cx="1082.0" cy="889.8" r="5.3" fill="#D09511"/><circle cx="1049.2" cy="987.5" r="5.3" fill="#E5B418"/><circle cx="1024.4" cy="856.3" r="5.3" fill="#E2AF17"/><circle cx="958.1" cy="873.3" r="5.3" fill="#E7B719"/><circle cx="1119.8" cy="882.9" r="5.3" fill="#C98C0E"/><circle cx="1011.4" cy="945.4" r="5.3" fill="#EFC31C"/><circle cx="932.6" cy="1017.3" r="5.3" fill="#EABC1A"/><circle cx="1102.8" cy="994.5" r="5.3" fill="#C6870D"/><circle cx="1118.8" cy="952.3" r="5.3" fill="#DFAC16"/><circle cx="1074.1" cy="909.3" r="5.3" fill="#E5B418"/><circle cx="1164.2" cy="974.3" r="5.3" fill="#B16906"/><circle cx="1088.7" cy="956.3" r="5.3" fill="#C2810C"/><circle cx="920.0" cy="889.1" r="5.3" fill="#E8B919"/><circle cx="1165.5" cy="911.8" r="5.3" fill="#BC780A"/><circle cx="1051.2" cy="926.6" r="5.3" fill="#DEAA16"/><circle cx="1103.3" cy="991.2" r="5.3" fill="#F1C51C"/><circle cx="1203.1" cy="1023.6" r="5.3" fill="#BC780A"/><circle cx="1026.4" cy="906.7" r="5.3" fill="#EABC1A"/><circle cx="964.8" cy="856.8" r="5.3" fill="#EDC01B"/><circle cx="1077.4" cy="954.2" r="5.3" fill="#E9BB19"/><circle cx="1019.2" cy="931.0" r="5.3" fill="#E2B017"/><circle cx="998.5" cy="876.5" r="5.3" fill="#E0AE16"/><circle cx="954.6" cy="840.7" r="5.3" fill="#E9BA19"/><circle cx="984.1" cy="911.6" r="5.3" fill="#EABB1A"/><circle cx="1040.0" cy="950.9" r="5.3" fill="#E0AD16"/><circle cx="989.6" cy="941.5" r="5.3" fill="#EFC31B"/><circle cx="963.5" cy="886.6" r="5.3" fill="#F8CF1E"/><circle cx="990.8" cy="1008.7" r="5.3" fill="#EEC11B"/><circle cx="982.5" cy="918.3" r="5.3" fill="#EEC21B"/><circle cx="959.7" cy="854.9" r="5.3" fill="#EABC1A"/><circle cx="1001.0" cy="889.6" r="5.3" fill="#EDC01B"/><circle cx="961.4" cy="908.9" r="5.3" fill="#F4C91D"/><circle cx="969.2" cy="1001.9" r="5.3" fill="#F4C91D"/><circle cx="965.3" cy="953.7" r="5.3" fill="#FCD620"/><circle cx="882.5" cy="907.9" r="5.3" fill="#E7B719"/><circle cx="1041.4" cy="948.8" r="5.3" fill="#F7CE1E"/><circle cx="974.2" cy="971.2" r="5.3" fill="#F4CB1D"/><circle cx="896.7" cy="910.5" r="5.3" fill="#E6B518"/><circle cx="1009.0" cy="911.3" r="5.3" fill="#EABB1A"/><circle cx="1032.0" cy="910.7" r="5.3" fill="#E5B418"/><circle cx="1079.3" cy="915.1" r="5.3" fill="#E0AE16"/><circle cx="946.9" cy="893.9" r="5.3" fill="#EEC21B"/><circle cx="1009.4" cy="946.8" r="5.3" fill="#F9D11F"/><circle cx="1110.1" cy="883.0" r="5.3" fill="#D09611"/><circle cx="1047.1" cy="908.2" r="5.3" fill="#EBBD1A"/><circle cx="987.9" cy="935.2" r="5.3" fill="#EDC01B"/><circle cx="954.0" cy="866.9" r="5.3" fill="#F6CD1E"/><circle cx="967.1" cy="853.7" r="5.3" fill="#E7B619"/><circle cx="1009.6" cy="895.7" r="5.3" fill="#EEC11B"/><circle cx="1020.0" cy="939.7" r="5.3" fill="#E8B819"/><circle cx="1255.2" cy="965.2" r="5.3" fill="#B16906"/><circle cx="995.3" cy="904.2" r="5.3" fill="#EABB1A"/><circle cx="982.9" cy="883.5" r="5.3" fill="#EFC21B"/><circle cx="1133.4" cy="920.6" r="5.3" fill="#C4840C"/><circle cx="1096.6" cy="912.6" r="5.3" fill="#C2810C"/><circle cx="1034.6" cy="949.4" r="5.3" fill="#E3B217"/><circle cx="1104.4" cy="853.0" r="5.3" fill="#C17F0B"/><circle cx="961.8" cy="952.2" r="5.3" fill="#F3C91D"/><circle cx="1144.3" cy="1023.6" r="5.3" fill="#BC780A"/><circle cx="961.6" cy="934.9" r="5.3" fill="#F5CC1E"/><circle cx="1051.5" cy="878.2" r="5.3" fill="#E4B218"/><circle cx="1023.4" cy="878.6" r="5.3" fill="#E6B618"/><circle cx="960.9" cy="948.7" r="5.3" fill="#F1C61C"/><circle cx="952.5" cy="981.6" r="5.3" fill="#EDC11B"/><circle cx="1254.3" cy="957.1" r="5.3" fill="#AC6204"/><circle cx="1055.7" cy="947.2" r="5.3" fill="#D09511"/><circle cx="948.3" cy="846.1" r="5.3" fill="#F2C81D"/><circle cx="916.3" cy="920.3" r="5.3" fill="#EFC31C"/><circle cx="1036.4" cy="941.9" r="5.3" fill="#F3C81D"/><circle cx="1011.2" cy="894.4" r="5.3" fill="#E2B017"/><circle cx="997.1" cy="927.3" r="5.3" fill="#F3C81D"/><circle cx="1113.0" cy="914.3" r="5.3" fill="#D79F13"/><circle cx="917.8" cy="885.6" r="5.3" fill="#F5CB1D"/><circle cx="992.0" cy="950.2" r="5.3" fill="#F5CC1E"/><circle cx="984.2" cy="897.3" r="5.3" fill="#DEAA16"/><circle cx="994.0" cy="881.6" r="5.3" fill="#EFC21B"/><circle cx="1011.0" cy="899.1" r="5.3" fill="#EFC31B"/><circle cx="1036.6" cy="879.2" r="5.3" fill="#E4B217"/><circle cx="1036.4" cy="869.3" r="5.3" fill="#E4B318"/><circle cx="1011.5" cy="888.2" r="5.3" fill="#EEC11B"/><circle cx="1029.1" cy="967.7" r="5.3" fill="#EDBF1B"/><circle cx="985.0" cy="955.8" r="5.3" fill="#FED821"/><circle cx="978.2" cy="891.3" r="5.3" fill="#F0C41C"/><circle cx="1026.6" cy="924.6" r="5.3" fill="#EFC31C"/><circle cx="1117.9" cy="877.5" r="5.3" fill="#CD9110"/><circle cx="1131.2" cy="919.6" r="5.3" fill="#C6870D"/><circle cx="1003.8" cy="912.5" r="5.3" fill="#EABB1A"/><circle cx="985.0" cy="908.9" r="5.3" fill="#ECBE1A"/><circle cx="1071.2" cy="874.2" r="5.3" fill="#E8B919"/><circle cx="1011.9" cy="879.5" r="5.3" fill="#DEA915"/><circle cx="1052.4" cy="877.7" r="5.3" fill="#F2C61C"/><circle cx="1119.2" cy="983.3" r="5.3" fill="#C98B0E"/><circle cx="982.1" cy="923.8" r="5.3" fill="#EDBF1B"/><circle cx="1050.8" cy="928.9" r="5.3" fill="#EFC21B"/><circle cx="1028.0" cy="964.6" r="5.3" fill="#EBBD1A"/><circle cx="1062.8" cy="939.7" r="5.3" fill="#DDA915"/><circle cx="1090.7" cy="902.5" r="5.3" fill="#E4B318"/><circle cx="892.4" cy="924.5" r="5.3" fill="#F4CA1D"/><circle cx="965.2" cy="938.5" r="5.3" fill="#F0C41C"/><circle cx="1067.9" cy="942.8" r="5.3" fill="#D19711"/></g>
<path d="M841.9,800.0C847.5,799.8 864.9,800.0 875.8,798.6C886.7,797.2 899.2,793.8 907.5,791.9C915.8,790.0 919.6,789.9 925.6,787.3C931.6,784.6 936.9,781.3 943.7,776.0C950.5,770.7 958.8,762.4 966.3,755.6C973.8,748.8 982.2,740.6 989.0,735.3C995.8,730.0 1001.0,725.7 1007.0,724.0C1013.0,722.3 1019.0,725.4 1025.0,725.3C1031.0,725.2 1038.0,722.2 1043.3,723.5C1048.6,724.8 1051.0,727.3 1057.0,733.0C1063.0,738.7 1072.0,750.7 1079.5,757.9C1087.0,765.1 1094.5,771.1 1102.0,776.0C1109.5,780.9 1117.2,784.9 1124.8,787.3C1132.4,789.7 1139.9,789.4 1147.4,790.5C1154.9,791.6 1162.5,792.9 1170.0,794.1C1177.5,795.3 1185.2,796.7 1192.7,797.7C1200.2,798.7 1205.0,799.7 1215.3,800.0C1225.6,800.3 1248.1,799.6 1254.7,799.5L1254.7,800.6L841.9,800.6Z" fill="#E69F00" stroke="none"/>
<path d="M841.9,800.0C847.5,799.8 864.9,800.0 875.8,798.6C886.7,797.2 899.2,793.8 907.5,791.9C915.8,790.0 919.6,789.9 925.6,787.3C931.6,784.6 936.9,781.3 943.7,776.0C950.5,770.7 958.8,762.4 966.3,755.6C973.8,748.8 982.2,740.6 989.0,735.3C995.8,730.0 1001.0,725.7 1007.0,724.0C1013.0,722.3 1019.0,725.4 1025.0,725.3C1031.0,725.2 1038.0,722.2 1043.3,723.5C1048.6,724.8 1051.0,727.3 1057.0,733.0C1063.0,738.7 1072.0,750.7 1079.5,757.9C1087.0,765.1 1094.5,771.1 1102.0,776.0C1109.5,780.9 1117.2,784.9 1124.8,787.3C1132.4,789.7 1139.9,789.4 1147.4,790.5C1154.9,791.6 1162.5,792.9 1170.0,794.1C1177.5,795.3 1185.2,796.7 1192.7,797.7C1200.2,798.7 1205.0,799.7 1215.3,800.0C1225.6,800.3 1248.1,799.6 1254.7,799.5" fill="none" stroke="#222" stroke-width="0.8"/>
<path d="M1280.9,824.5C1282.5,827.6 1286.7,837.0 1290.7,843.0C1294.7,849.0 1299.5,855.3 1304.7,860.6C1310.0,865.9 1315.8,869.9 1322.2,874.6C1328.6,879.3 1337.4,884.5 1343.2,888.6C1349.0,892.7 1354.0,896.1 1357.2,899.1C1360.4,902.1 1362.2,904.2 1362.5,906.8C1362.8,909.4 1361.0,912.4 1359.0,914.9C1357.0,917.4 1353.4,919.3 1350.2,921.9C1347.0,924.5 1342.3,927.5 1339.7,930.7C1337.1,933.9 1336.2,937.7 1334.5,941.2C1332.8,944.7 1331.8,947.9 1329.2,951.7C1326.6,955.5 1322.8,959.9 1318.7,964.0C1314.6,968.1 1308.5,972.4 1304.7,976.2C1300.9,980.0 1298.2,982.0 1295.9,986.7C1293.6,991.4 1292.5,997.8 1290.7,1004.2C1289.0,1010.6 1286.9,1017.7 1285.4,1025.3C1283.9,1032.9 1282.7,1042.2 1281.9,1049.8C1281.2,1057.4 1281.1,1059.1 1280.9,1070.8C1280.7,1082.5 1280.5,1103.5 1280.5,1120.0C1280.5,1136.5 1281.1,1154.4 1281.2,1170.0C1281.3,1185.6 1281.0,1206.2 1280.9,1213.4L1280.3,1213.4L1280.3,824.5Z" fill="#E69F00" stroke="none"/>
<path d="M1280.9,824.5C1282.5,827.6 1286.7,837.0 1290.7,843.0C1294.7,849.0 1299.5,855.3 1304.7,860.6C1310.0,865.9 1315.8,869.9 1322.2,874.6C1328.6,879.3 1337.4,884.5 1343.2,888.6C1349.0,892.7 1354.0,896.1 1357.2,899.1C1360.4,902.1 1362.2,904.2 1362.5,906.8C1362.8,909.4 1361.0,912.4 1359.0,914.9C1357.0,917.4 1353.4,919.3 1350.2,921.9C1347.0,924.5 1342.3,927.5 1339.7,930.7C1337.1,933.9 1336.2,937.7 1334.5,941.2C1332.8,944.7 1331.8,947.9 1329.2,951.7C1326.6,955.5 1322.8,959.9 1318.7,964.0C1314.6,968.1 1308.5,972.4 1304.7,976.2C1300.9,980.0 1298.2,982.0 1295.9,986.7C1293.6,991.4 1292.5,997.8 1290.7,1004.2C1289.0,1010.6 1286.9,1017.7 1285.4,1025.3C1283.9,1032.9 1282.7,1042.2 1281.9,1049.8C1281.2,1057.4 1281.1,1059.1 1280.9,1070.8C1280.7,1082.5 1280.5,1103.5 1280.5,1120.0C1280.5,1136.5 1281.1,1154.4 1281.2,1170.0C1281.3,1185.6 1281.0,1206.2 1280.9,1213.4" fill="none" stroke="#222" stroke-width="0.8"/>
<line x1="821.6" y1="805.0" x2="821.6" y2="1233.4" stroke="#000" stroke-width="1.15"/>
<line x1="821.1" y1="1232.8" x2="1276.0" y2="1232.8" stroke="#000" stroke-width="1.15"/>
<line x1="819.4" y1="882.2" x2="821.6" y2="882.2" stroke="#333" stroke-width="1"/>
<text x="817.3" y="890.6" font-size="23.6" fill="#4D4D4D" text-anchor="end" font-weight="normal" font-family="'Liberation Sans', sans-serif">0.35</text>
<line x1="819.4" y1="962.0" x2="821.6" y2="962.0" stroke="#333" stroke-width="1"/>
<text x="817.3" y="970.4" font-size="23.6" fill="#4D4D4D" text-anchor="end" font-weight="normal" font-family="'Liberation Sans', sans-serif">0.30</text>
<line x1="819.4" y1="1041.7" x2="821.6" y2="1041.7" stroke="#333" stroke-width="1"/>
<text x="817.3" y="1050.1" font-size="23.6" fill="#4D4D4D" text-anchor="end" font-weight="normal" font-family="'Liberation Sans', sans-serif">0.25</text>
<line x1="819.4" y1="1121.5" x2="821.6" y2="1121.5" stroke="#333" stroke-width="1"/>
<text x="817.3" y="1129.9" font-size="23.6" fill="#4D4D4D" text-anchor="end" font-weight="normal" font-family="'Liberation Sans', sans-serif">0.20</text>
<line x1="819.4" y1="1201.2" x2="821.6" y2="1201.2" stroke="#333" stroke-width="1"/>
<text x="817.3" y="1209.6" font-size="23.6" fill="#4D4D4D" text-anchor="end" font-weight="normal" font-family="'Liberation Sans', sans-serif">0.15</text>
<line x1="833.6" y1="1232.8" x2="833.6" y2="1235.2" stroke="#333" stroke-width="1"/>
<text x="833.6" y="1255.0" font-size="23.6" fill="#4D4D4D" text-anchor="middle" font-weight="normal" font-family="'Liberation Sans', sans-serif">-2.4</text>
<line x1="945.0" y1="1232.8" x2="945.0" y2="1235.2" stroke="#333" stroke-width="1"/>
<text x="945.0" y="1255.0" font-size="23.6" fill="#4D4D4D" text-anchor="middle" font-weight="normal" font-family="'Liberation Sans', sans-serif">-2.0</text>
<line x1="1056.4" y1="1232.8" x2="1056.4" y2="1235.2" stroke="#333" stroke-width="1"/>
<text x="1056.4" y="1255.0" font-size="23.6" fill="#4D4D4D" text-anchor="middle" font-weight="normal" font-family="'Liberation Sans', sans-serif">-1.6</text>
<line x1="1167.8" y1="1232.8" x2="1167.8" y2="1235.2" stroke="#333" stroke-width="1"/>
<text x="1167.8" y="1255.0" font-size="23.6" fill="#4D4D4D" text-anchor="middle" font-weight="normal" font-family="'Liberation Sans', sans-serif">-1.2</text>
<text x="756.0" y="1033.1" font-size="29.5" fill="#000" text-anchor="middle" font-weight="normal" font-family="'Liberation Sans', sans-serif">γ</text>
<text x="1066.3" y="1288.0" font-size="29.5" fill="#000" text-anchor="middle" font-weight="normal" font-family="'Liberation Sans', sans-serif">η</text>
<text x="840.6" y="1078.6" font-size="20.3" fill="#000" text-anchor="start" font-weight="normal" font-family="'Liberation Sans', sans-serif">Postmenstrual Age</text>
<defs><linearGradient id="cb" x1="0" y1="0" x2="0" y2="1"><stop offset="0" stop-color="#FFDA21"/><stop offset="1" stop-color="#A05000"/></linearGradient></defs>
<rect x="840.9" y="1090.9" width="28.2" height="138.3" fill="url(#cb)"/>
<line x1="840.9" y1="1092.6" x2="846.5" y2="1092.6" stroke="#fff" stroke-width="1"/>
<line x1="863.5" y1="1092.6" x2="869.1" y2="1092.6" stroke="#fff" stroke-width="1"/>
<text x="886.0" y="1099.6" font-size="19.5" fill="#000" text-anchor="start" font-weight="normal" font-family="'Liberation Sans', sans-serif">45</text>
<line x1="840.9" y1="1129.7" x2="846.5" y2="1129.7" stroke="#fff" stroke-width="1"/>
<line x1="863.5" y1="1129.7" x2="869.1" y2="1129.7" stroke="#fff" stroke-width="1"/>
<text x="886.0" y="1136.7" font-size="19.5" fill="#000" text-anchor="start" font-weight="normal" font-family="'Liberation Sans', sans-serif">40</text>
<line x1="840.9" y1="1166.9" x2="846.5" y2="1166.9" stroke="#fff" stroke-width="1"/>
<line x1="863.5" y1="1166.9" x2="869.1" y2="1166.9" stroke="#fff" stroke-width="1"/>
<text x="886.0" y="1173.9" font-size="19.5" fill="#000" text-anchor="start" font-weight="normal" font-family="'Liberation Sans', sans-serif">35</text>
<line x1="840.9" y1="1204.2" x2="846.5" y2="1204.2" stroke="#fff" stroke-width="1"/>
<line x1="863.5" y1="1204.2" x2="869.1" y2="1204.2" stroke="#fff" stroke-width="1"/>
<text x="886.0" y="1211.2" font-size="19.5" fill="#000" text-anchor="start" font-weight="normal" font-family="'Liberation Sans', sans-serif">30</text>
</g>
<g id="panel-d">
<path d="M1806.1,994.2l7,12.1h-14z" fill="#17BFD6" fill-opacity="0.78"/><path d="M1731.5,979.9l7,12.1h-14z" fill="#17BFD6" fill-opacity="0.78"/><path d="M1745.1,1011.9l7,12.1h-14z" fill="#17BFD6" fill-opacity="0.78"/><path d="M1791.1,1057.4l7,12.1h-14z" fill="#17BFD6" fill-opacity="0.78"/><path d="M1774.8,1052.2l7,12.1h-14z" fill="#17BFD6" fill-opacity="0.78"/><path d="M1760.8,1032.0l7,12.1h-14z" fill="#17BFD6" fill-opacity="0.78"/><path d="M1703.4,972.9l7,12.1h-14z" fill="#17BFD6" fill-opacity="0.78"/><path d="M1661.7,1003.7l7,12.1h-14z" fill="#17BFD6" fill-opacity="0.78"/><path d="M1748.2,972.7l7,12.1h-14z" fill="#17BFD6" fill-opacity="0.78"/><path d="M1695.2,944.4l7,12.1h-14z" fill="#17BFD6" fill-opacity="0.78"/><path d="M1775.0,933.0l7,12.1h-14z" fill="#17BFD6" fill-opacity="0.78"/><path d="M1738.0,963.6l7,12.1h-14z" fill="#17BFD6" fill-opacity="0.78"/><path d="M1680.1,999.2l7,12.1h-14z" fill="#17BFD6" fill-opacity="0.78"/><path d="M1741.5,1018.6l7,12.1h-14z" fill="#17BFD6" fill-opacity="0.78"/><path d="M1768.4,993.2l7,12.1h-14z" fill="#17BFD6" fill-opacity="0.78"/><path d="M1736.0,1012.9l7,12.1h-14z" fill="#17BFD6" fill-opacity="0.78"/><path d="M1677.6,955.6l7,12.1h-14z" fill="#17BFD6" fill-opacity="0.78"/><path d="M1741.1,1059.3l7,12.1h-14z" fill="#17BFD6" fill-opacity="0.78"/><path d="M1747.0,994.7l7,12.1h-14z" fill="#17BFD6" fill-opacity="0.78"/><path d="M1774.8,979.5l7,12.1h-14z" fill="#17BFD6" fill-opacity="0.78"/><path d="M1769.2,1022.5l7,12.1h-14z" fill="#17BFD6" fill-opacity="0.78"/><path d="M1669.1,970.8l7,12.1h-14z" fill="#17BFD6" fill-opacity="0.78"/><path d="M1696.1,994.7l7,12.1h-14z" fill="#17BFD6" fill-opacity="0.78"/><path d="M1762.4,1055.0l7,12.1h-14z" fill="#17BFD6" fill-opacity="0.78"/><path d="M1610.1,939.1l7,12.1h-14z" fill="#17BFD6" fill-opacity="0.78"/><path d="M1772.2,981.1l7,12.1h-14z" fill="#17BFD6" fill-opacity="0.78"/><path d="M1673.8,970.7l7,12.1h-14z" fill="#17BFD6" fill-opacity="0.78"/><path d="M1700.8,983.6l7,12.1h-14z" fill="#17BFD6" fill-opacity="0.78"/><path d="M1806.0,1082.0l7,12.1h-14z" fill="#17BFD6" fill-opacity="0.78"/><path d="M1721.8,1026.2l7,12.1h-14z" fill="#17BFD6" fill-opacity="0.78"/><path d="M1708.0,1040.2l7,12.1h-14z" fill="#17BFD6" fill-opacity="0.78"/><path d="M1742.3,896.8l7,12.1h-14z" fill="#17BFD6" fill-opacity="0.78"/><path d="M1720.1,1007.8l7,12.1h-14z" fill="#17BFD6" fill-opacity="0.78"/><path d="M1688.0,992.3l7,12.1h-14z" fill="#17BFD6" fill-opacity="0.78"/><path d="M1740.4,1013.7l7,12.1h-14z" fill="#17BFD6" fill-opacity="0.78"/><path d="M1841.2,1009.0l7,12.1h-14z" fill="#17BFD6" fill-opacity="0.78"/><path d="M1779.9,968.3l7,12.1h-14z" fill="#17BFD6" fill-opacity="0.78"/><path d="M1752.1,1023.6l7,12.1h-14z" fill="#17BFD6" fill-opacity="0.78"/><path d="M1740.8,981.1l7,12.1h-14z" fill="#17BFD6" fill-opacity="0.78"/><path d="M1773.4,994.0l7,12.1h-14z" fill="#17BFD6" fill-opacity="0.78"/><path d="M1763.5,968.3l7,12.1h-14z" fill="#17BFD6" fill-opacity="0.78"/><path d="M1672.6,970.8l7,12.1h-14z" fill="#17BFD6" fill-opacity="0.78"/><path d="M1756.4,1015.9l7,12.1h-14z" fill="#17BFD6" fill-opacity="0.78"/><path d="M1728.5,1024.2l7,12.1h-14z" fill="#17BFD6" fill-opacity="0.78"/><path d="M1819.4,1001.9l7,12.1h-14z" fill="#17BFD6" fill-opacity="0.78"/><path d="M1713.3,988.1l7,12.1h-14z" fill="#17BFD6" fill-opacity="0.78"/><path d="M1796.8,989.7l7,12.1h-14z" fill="#17BFD6" fill-opacity="0.78"/><path d="M1652.4,1015.3l7,12.1h-14z" fill="#17BFD6" fill-opacity="0.78"/><path d="M1744.3,971.9l7,12.1h-14z" fill="#17BFD6" fill-opacity="0.78"/><path d="M1682.4,968.4l7,12.1h-14z" fill="#17BFD6" fill-opacity="0.78"/><path d="M1671.2,982.8l7,12.1h-14z" fill="#17BFD6" fill-opacity="0.78"/><path d="M1772.7,976.2l7,12.1h-14z" fill="#17BFD6" fill-opacity="0.78"/><path d="M1664.1,989.4l7,12.1h-14z" fill="#17BFD6" fill-opacity="0.78"/><path d="M1717.5,1055.8l7,12.1h-14z" fill="#17BFD6" fill-opacity="0.78"/><path d="M1683.0,979.8l7,12.1h-14z" fill="#17BFD6" fill-opacity="0.78"/><path d="M1749.5,1053.6l7,12.1h-14z" fill="#17BFD6" fill-opacity="0.78"/><path d="M1742.1,1031.0l7,12.1h-14z" fill="#17BFD6" fill-opacity="0.78"/><path d="M1578.8,974.7l7,12.1h-14z" fill="#17BFD6" fill-opacity="0.78"/><path d="M1768.0,1025.4l7,12.1h-14z" fill="#17BFD6" fill-opacity="0.78"/><path d="M1689.0,1043.7l7,12.1h-14z" fill="#17BFD6" fill-opacity="0.78"/><path d="M1834.6,971.0l7,12.1h-14z" fill="#17BFD6" fill-opacity="0.78"/><path d="M1778.1,1027.8l7,12.1h-14z" fill="#17BFD6" fill-opacity="0.78"/><path d="M1781.9,1049.8l7,12.1h-14z" fill="#17BFD6" fill-opacity="0.78"/><path d="M1570.3,938.1l7,12.1h-14z" fill="#17BFD6" fill-opacity="0.78"/><path d="M1821.5,1061.9l7,12.1h-14z" fill="#17BFD6" fill-opacity="0.78"/><path d="M1729.4,1018.1l7,12.1h-14z" fill="#17BFD6" fill-opacity="0.78"/><path d="M1642.4,944.3l7,12.1h-14z" fill="#17BFD6" fill-opacity="0.78"/><path d="M1745.5,1011.5l7,12.1h-14z" fill="#17BFD6" fill-opacity="0.78"/><path d="M1799.1,943.3l7,12.1h-14z" fill="#17BFD6" fill-opacity="0.78"/><path d="M1623.7,927.3l7,12.1h-14z" fill="#17BFD6" fill-opacity="0.78"/><path d="M1787.7,937.8l7,12.1h-14z" fill="#17BFD6" fill-opacity="0.78"/><path d="M1708.4,995.0l7,12.1h-14z" fill="#17BFD6" fill-opacity="0.78"/><path d="M1694.0,966.8l7,12.1h-14z" fill="#17BFD6" fill-opacity="0.78"/><path d="M1702.7,953.0l7,12.1h-14z" fill="#17BFD6" fill-opacity="0.78"/><path d="M1677.4,958.3l7,12.1h-14z" fill="#17BFD6" fill-opacity="0.78"/><path d="M1738.5,984.5l7,12.1h-14z" fill="#17BFD6" fill-opacity="0.78"/><path d="M1741.4,974.8l7,12.1h-14z" fill="#17BFD6" fill-opacity="0.78"/><path d="M1786.2,975.1l7,12.1h-14z" fill="#17BFD6" fill-opacity="0.78"/><path d="M1803.5,1006.6l7,12.1h-14z" fill="#17BFD6" fill-opacity="0.78"/><path d="M1708.5,945.9l7,12.1h-14z" fill="#17BFD6" fill-opacity="0.78"/><path d="M1787.9,973.5l7,12.1h-14z" fill="#17BFD6" fill-opacity="0.78"/><path d="M1655.2,1026.5l7,12.1h-14z" fill="#17BFD6" fill-opacity="0.78"/><path d="M1764.6,1007.5l7,12.1h-14z" fill="#17BFD6" fill-opacity="0.78"/><path d="M1659.5,910.4l7,12.1h-14z" fill="#17BFD6" fill-opacity="0.78"/><path d="M1694.1,1047.1l7,12.1h-14z" fill="#17BFD6" fill-opacity="0.78"/><path d="M1762.6,957.2l7,12.1h-14z" fill="#17BFD6" fill-opacity="0.78"/><path d="M1683.0,1049.7l7,12.1h-14z" fill="#17BFD6" fill-opacity="0.78"/><path d="M1755.8,994.4l7,12.1h-14z" fill="#17BFD6" fill-opacity="0.78"/><path d="M1634.9,1015.1l7,12.1h-14z" fill="#17BFD6" fill-opacity="0.78"/><path d="M1684.7,914.0l7,12.1h-14z" fill="#17BFD6" fill-opacity="0.78"/><path d="M1758.1,959.4l7,12.1h-14z" fill="#17BFD6" fill-opacity="0.78"/><path d="M1807.5,972.6l7,12.1h-14z" fill="#17BFD6" fill-opacity="0.78"/><path d="M1655.4,953.1l7,12.1h-14z" fill="#17BFD6" fill-opacity="0.78"/><path d="M1810.9,967.5l7,12.1h-14z" fill="#17BFD6" fill-opacity="0.78"/><path d="M1741.5,962.1l7,12.1h-14z" fill="#17BFD6" fill-opacity="0.78"/><path d="M1844.8,1000.8l7,12.1h-14z" fill="#17BFD6" fill-opacity="0.78"/><path d="M1709.1,958.0l7,12.1h-14z" fill="#17BFD6" fill-opacity="0.78"/><path d="M1697.2,974.3l7,12.1h-14z" fill="#17BFD6" fill-opacity="0.78"/><path d="M1745.1,1001.9l7,12.1h-14z" fill="#17BFD6" fill-opacity="0.78"/><path d="M1660.3,910.9l7,12.1h-14z" fill="#17BFD6" fill-opacity="0.78"/><path d="M1733.3,976.1l7,12.1h-14z" fill="#17BFD6" fill-opacity="0.78"/><path d="M1722.4,946.2l7,12.1h-14z" fill="#17BFD6" fill-opacity="0.78"/><path d="M1798.9,992.2l7,12.1h-14z" fill="#17BFD6" fill-opacity="0.78"/><path d="M1746.0,1014.9l7,12.1h-14z" fill="#17BFD6" fill-opacity="0.78"/><path d="M1648.8,921.7l7,12.1h-14z" fill="#17BFD6" fill-opacity="0.78"/><path d="M1644.9,957.9l7,12.1h-14z" fill="#17BFD6" fill-opacity="0.78"/><path d="M1668.1,1016.0l7,12.1h-14z" fill="#17BFD6" fill-opacity="0.78"/><path d="M1588.1,1010.7l7,12.1h-14z" fill="#17BFD6" fill-opacity="0.78"/><path d="M1583.2,945.6l7,12.1h-14z" fill="#17BFD6" fill-opacity="0.78"/><path d="M1837.5,1042.5l7,12.1h-14z" fill="#17BFD6" fill-opacity="0.78"/><path d="M1676.3,988.8l7,12.1h-14z" fill="#17BFD6" fill-opacity="0.78"/><path d="M1797.3,998.6l7,12.1h-14z" fill="#17BFD6" fill-opacity="0.78"/><path d="M1682.1,958.3l7,12.1h-14z" fill="#17BFD6" fill-opacity="0.78"/><path d="M1702.9,991.8l7,12.1h-14z" fill="#17BFD6" fill-opacity="0.78"/><path d="M1613.6,997.0l7,12.1h-14z" fill="#17BFD6" fill-opacity="0.78"/><path d="M1796.4,969.1l7,12.1h-14z" fill="#17BFD6" fill-opacity="0.78"/><path d="M1703.7,1000.6l7,12.1h-14z" fill="#17BFD6" fill-opacity="0.78"/><path d="M1815.4,953.7l7,12.1h-14z" fill="#17BFD6" fill-opacity="0.78"/><path d="M1684.7,933.5l7,12.1h-14z" fill="#17BFD6" fill-opacity="0.78"/><path d="M1797.6,1021.5l7,12.1h-14z" fill="#17BFD6" fill-opacity="0.78"/><path d="M1807.0,988.7l7,12.1h-14z" fill="#17BFD6" fill-opacity="0.78"/><path d="M1630.4,940.5l7,12.1h-14z" fill="#17BFD6" fill-opacity="0.78"/><path d="M1753.2,1003.7l7,12.1h-14z" fill="#17BFD6" fill-opacity="0.78"/><path d="M1662.9,1005.2l7,12.1h-14z" fill="#17BFD6" fill-opacity="0.78"/><path d="M1654.6,976.1l7,12.1h-14z" fill="#17BFD6" fill-opacity="0.78"/><path d="M1732.8,1047.8l7,12.1h-14z" fill="#17BFD6" fill-opacity="0.78"/><path d="M1773.6,964.4l7,12.1h-14z" fill="#17BFD6" fill-opacity="0.78"/><path d="M1800.6,970.4l7,12.1h-14z" fill="#17BFD6" fill-opacity="0.78"/><path d="M1706.3,1021.9l7,12.1h-14z" fill="#17BFD6" fill-opacity="0.78"/><path d="M1783.0,953.8l7,12.1h-14z" fill="#17BFD6" fill-opacity="0.78"/><path d="M1759.5,1021.6l7,12.1h-14z" fill="#17BFD6" fill-opacity="0.78"/><path d="M1725.0,924.0l7,12.1h-14z" fill="#17BFD6" fill-opacity="0.78"/><path d="M1667.8,938.3l7,12.1h-14z" fill="#17BFD6" fill-opacity="0.78"/><path d="M1727.9,977.6l7,12.1h-14z" fill="#17BFD6" fill-opacity="0.78"/><path d="M1668.4,1040.7l7,12.1h-14z" fill="#17BFD6" fill-opacity="0.78"/><path d="M1715.8,945.9l7,12.1h-14z" fill="#17BFD6" fill-opacity="0.78"/><path d="M1670.9,975.0l7,12.1h-14z" fill="#17BFD6" fill-opacity="0.78"/><path d="M1801.7,1004.2l7,12.1h-14z" fill="#17BFD6" fill-opacity="0.78"/><path d="M1822.8,996.6l7,12.1h-14z" fill="#17BFD6" fill-opacity="0.78"/><path d="M1800.0,1045.1l7,12.1h-14z" fill="#17BFD6" fill-opacity="0.78"/><path d="M1831.8,979.2l7,12.1h-14z" fill="#17BFD6" fill-opacity="0.78"/><path d="M1720.9,963.3l7,12.1h-14z" fill="#17BFD6" fill-opacity="0.78"/><path d="M1816.0,960.3l7,12.1h-14z" fill="#17BFD6" fill-opacity="0.78"/><path d="M1675.1,1014.9l7,12.1h-14z" fill="#17BFD6" fill-opacity="0.78"/><path d="M1810.1,1011.0l7,12.1h-14z" fill="#17BFD6" fill-opacity="0.78"/><path d="M1807.0,1011.0l7,12.1h-14z" fill="#17BFD6" fill-opacity="0.78"/><path d="M1688.1,987.1l7,12.1h-14z" fill="#17BFD6" fill-opacity="0.78"/><path d="M1780.3,949.5l7,12.1h-14z" fill="#17BFD6" fill-opacity="0.78"/><path d="M1657.9,994.7l7,12.1h-14z" fill="#17BFD6" fill-opacity="0.78"/><path d="M1635.4,984.3l7,12.1h-14z" fill="#17BFD6" fill-opacity="0.78"/><path d="M1636.1,1032.8l7,12.1h-14z" fill="#17BFD6" fill-opacity="0.78"/><path d="M1655.9,991.3l7,12.1h-14z" fill="#17BFD6" fill-opacity="0.78"/><path d="M1653.4,944.4l7,12.1h-14z" fill="#17BFD6" fill-opacity="0.78"/><path d="M1718.4,971.3l7,12.1h-14z" fill="#17BFD6" fill-opacity="0.78"/><path d="M1819.3,1077.4l7,12.1h-14z" fill="#17BFD6" fill-opacity="0.78"/><path d="M1710.0,936.7l7,12.1h-14z" fill="#17BFD6" fill-opacity="0.78"/><path d="M1672.5,926.6l7,12.1h-14z" fill="#17BFD6" fill-opacity="0.78"/><path d="M1765.6,1001.0l7,12.1h-14z" fill="#17BFD6" fill-opacity="0.78"/><path d="M1710.3,1043.2l7,12.1h-14z" fill="#17BFD6" fill-opacity="0.78"/><path d="M1729.8,988.0l7,12.1h-14z" fill="#17BFD6" fill-opacity="0.78"/><path d="M1748.2,943.2l7,12.1h-14z" fill="#17BFD6" fill-opacity="0.78"/><path d="M1750.7,1081.4l7,12.1h-14z" fill="#17BFD6" fill-opacity="0.78"/><path d="M1683.0,949.2l7,12.1h-14z" fill="#17BFD6" fill-opacity="0.78"/><path d="M1710.2,1018.3l7,12.1h-14z" fill="#17BFD6" fill-opacity="0.78"/><path d="M1779.3,1054.0l7,12.1h-14z" fill="#17BFD6" fill-opacity="0.78"/><path d="M1702.5,984.8l7,12.1h-14z" fill="#17BFD6" fill-opacity="0.78"/><path d="M1710.4,1008.4l7,12.1h-14z" fill="#17BFD6" fill-opacity="0.78"/><path d="M1742.5,1049.5l7,12.1h-14z" fill="#17BFD6" fill-opacity="0.78"/><path d="M1749.7,939.4l7,12.1h-14z" fill="#17BFD6" fill-opacity="0.78"/><path d="M1706.0,1016.0l7,12.1h-14z" fill="#17BFD6" fill-opacity="0.78"/><path d="M1758.4,1040.3l7,12.1h-14z" fill="#17BFD6" fill-opacity="0.78"/><path d="M1723.9,1038.2l7,12.1h-14z" fill="#17BFD6" fill-opacity="0.78"/><path d="M1640.5,956.9l7,12.1h-14z" fill="#17BFD6" fill-opacity="0.78"/><path d="M1763.7,1010.8l7,12.1h-14z" fill="#17BFD6" fill-opacity="0.78"/><path d="M1670.5,954.7l7,12.1h-14z" fill="#17BFD6" fill-opacity="0.78"/><path d="M1873.5,988.4l7,12.1h-14z" fill="#17BFD6" fill-opacity="0.78"/><path d="M1741.7,951.1l7,12.1h-14z" fill="#17BFD6" fill-opacity="0.78"/><path d="M1708.2,1009.1l7,12.1h-14z" fill="#17BFD6" fill-opacity="0.78"/><path d="M1775.3,1001.0l7,12.1h-14z" fill="#17BFD6" fill-opacity="0.78"/><path d="M1806.1,1046.4l7,12.1h-14z" fill="#17BFD6" fill-opacity="0.78"/><path d="M1808.5,911.0l7,12.1h-14z" fill="#17BFD6" fill-opacity="0.78"/><path d="M1742.8,952.9l7,12.1h-14z" fill="#17BFD6" fill-opacity="0.78"/><path d="M1787.0,1009.6l7,12.1h-14z" fill="#17BFD6" fill-opacity="0.78"/><path d="M1767.4,1064.6l7,12.1h-14z" fill="#17BFD6" fill-opacity="0.78"/><path d="M1730.1,957.8l7,12.1h-14z" fill="#17BFD6" fill-opacity="0.78"/><path d="M1625.4,908.9l7,12.1h-14z" fill="#17BFD6" fill-opacity="0.78"/><path d="M1726.2,962.4l7,12.1h-14z" fill="#17BFD6" fill-opacity="0.78"/><path d="M1562.1,959.4l7,12.1h-14z" fill="#17BFD6" fill-opacity="0.78"/><path d="M1670.0,1012.2l7,12.1h-14z" fill="#17BFD6" fill-opacity="0.78"/><path d="M1801.6,1046.1l7,12.1h-14z" fill="#17BFD6" fill-opacity="0.78"/><path d="M1735.5,1018.9l7,12.1h-14z" fill="#17BFD6" fill-opacity="0.78"/><path d="M1722.4,981.4l7,12.1h-14z" fill="#17BFD6" fill-opacity="0.78"/><path d="M1670.9,1065.6l7,12.1h-14z" fill="#17BFD6" fill-opacity="0.78"/><path d="M1672.1,951.5l7,12.1h-14z" fill="#17BFD6" fill-opacity="0.78"/><path d="M1683.5,979.5l7,12.1h-14z" fill="#17BFD6" fill-opacity="0.78"/><path d="M1635.1,997.2l7,12.1h-14z" fill="#17BFD6" fill-opacity="0.78"/><path d="M1573.3,946.3l7,12.1h-14z" fill="#17BFD6" fill-opacity="0.78"/><path d="M1785.1,986.0l7,12.1h-14z" fill="#17BFD6" fill-opacity="0.78"/><path d="M1815.6,1030.4l7,12.1h-14z" fill="#17BFD6" fill-opacity="0.78"/><path d="M1686.5,945.8l7,12.1h-14z" fill="#17BFD6" fill-opacity="0.78"/><path d="M1771.0,985.5l7,12.1h-14z" fill="#17BFD6" fill-opacity="0.78"/><path d="M1646.3,968.9l7,12.1h-14z" fill="#17BFD6" fill-opacity="0.78"/><path d="M1745.8,1085.1l7,12.1h-14z" fill="#17BFD6" fill-opacity="0.78"/><path d="M1635.2,1008.4l7,12.1h-14z" fill="#17BFD6" fill-opacity="0.78"/><path d="M1778.7,967.8l7,12.1h-14z" fill="#17BFD6" fill-opacity="0.78"/><path d="M1727.8,1020.7l7,12.1h-14z" fill="#17BFD6" fill-opacity="0.78"/><path d="M1643.2,935.9l7,12.1h-14z" fill="#17BFD6" fill-opacity="0.78"/><path d="M1758.1,1011.1l7,12.1h-14z" fill="#17BFD6" fill-opacity="0.78"/><path d="M1815.3,939.0l7,12.1h-14z" fill="#17BFD6" fill-opacity="0.78"/><path d="M1725.0,1019.5l7,12.1h-14z" fill="#17BFD6" fill-opacity="0.78"/><path d="M1722.3,980.4l7,12.1h-14z" fill="#17BFD6" fill-opacity="0.78"/><path d="M1725.3,937.1l7,12.1h-14z" fill="#17BFD6" fill-opacity="0.78"/><path d="M1732.0,1006.8l7,12.1h-14z" fill="#17BFD6" fill-opacity="0.78"/><path d="M1796.0,1036.0l7,12.1h-14z" fill="#17BFD6" fill-opacity="0.78"/><path d="M1798.0,1017.8l7,12.1h-14z" fill="#17BFD6" fill-opacity="0.78"/><path d="M1580.8,975.3l7,12.1h-14z" fill="#17BFD6" fill-opacity="0.78"/><path d="M1793.9,947.9l7,12.1h-14z" fill="#17BFD6" fill-opacity="0.78"/><path d="M1712.8,1021.2l7,12.1h-14z" fill="#17BFD6" fill-opacity="0.78"/><path d="M1816.1,921.7l7,12.1h-14z" fill="#17BFD6" fill-opacity="0.78"/><path d="M1752.6,969.3l7,12.1h-14z" fill="#17BFD6" fill-opacity="0.78"/><path d="M1781.4,1080.1l7,12.1h-14z" fill="#17BFD6" fill-opacity="0.78"/><path d="M1694.1,931.2l7,12.1h-14z" fill="#17BFD6" fill-opacity="0.78"/><path d="M1638.4,912.0l7,12.1h-14z" fill="#17BFD6" fill-opacity="0.78"/><path d="M1738.8,953.7l7,12.1h-14z" fill="#17BFD6" fill-opacity="0.78"/><path d="M1781.5,1013.5l7,12.1h-14z" fill="#17BFD6" fill-opacity="0.78"/><path d="M1769.1,990.4l7,12.1h-14z" fill="#17BFD6" fill-opacity="0.78"/><path d="M1771.7,1037.1l7,12.1h-14z" fill="#17BFD6" fill-opacity="0.78"/><path d="M1737.9,990.9l7,12.1h-14z" fill="#17BFD6" fill-opacity="0.78"/><path d="M1768.1,952.9l7,12.1h-14z" fill="#17BFD6" fill-opacity="0.78"/><path d="M1673.5,1019.2l7,12.1h-14z" fill="#17BFD6" fill-opacity="0.78"/><path d="M1716.2,963.6l7,12.1h-14z" fill="#17BFD6" fill-opacity="0.78"/><path d="M1620.9,999.6l7,12.1h-14z" fill="#17BFD6" fill-opacity="0.78"/><path d="M1721.4,1044.5l7,12.1h-14z" fill="#17BFD6" fill-opacity="0.78"/><path d="M1706.4,1005.5l7,12.1h-14z" fill="#17BFD6" fill-opacity="0.78"/><path d="M1727.6,1042.1l7,12.1h-14z" fill="#17BFD6" fill-opacity="0.78"/><path d="M1785.5,949.8l7,12.1h-14z" fill="#17BFD6" fill-opacity="0.78"/><path d="M1728.1,971.0l7,12.1h-14z" fill="#17BFD6" fill-opacity="0.78"/><path d="M1552.4,968.2l7,12.1h-14z" fill="#17BFD6" fill-opacity="0.78"/><path d="M1801.7,954.2l7,12.1h-14z" fill="#17BFD6" fill-opacity="0.78"/><path d="M1733.5,1044.4l7,12.1h-14z" fill="#17BFD6" fill-opacity="0.78"/><path d="M1771.3,1046.4l7,12.1h-14z" fill="#17BFD6" fill-opacity="0.78"/><path d="M1675.7,999.5l7,12.1h-14z" fill="#17BFD6" fill-opacity="0.78"/><path d="M1774.1,1022.4l7,12.1h-14z" fill="#17BFD6" fill-opacity="0.78"/><path d="M1809.5,996.9l7,12.1h-14z" fill="#17BFD6" fill-opacity="0.78"/><path d="M1615.5,933.9l7,12.1h-14z" fill="#17BFD6" fill-opacity="0.78"/><path d="M1794.9,974.6l7,12.1h-14z" fill="#17BFD6" fill-opacity="0.78"/><path d="M1666.0,969.4l7,12.1h-14z" fill="#17BFD6" fill-opacity="0.78"/><path d="M1677.1,989.7l7,12.1h-14z" fill="#17BFD6" fill-opacity="0.78"/><path d="M1724.5,982.4l7,12.1h-14z" fill="#17BFD6" fill-opacity="0.78"/><path d="M1837.9,1021.4l7,12.1h-14z" fill="#17BFD6" fill-opacity="0.78"/><path d="M1599.4,923.8l7,12.1h-14z" fill="#17BFD6" fill-opacity="0.78"/><path d="M1685.9,953.3l7,12.1h-14z" fill="#17BFD6" fill-opacity="0.78"/><path d="M1726.9,995.2l7,12.1h-14z" fill="#17BFD6" fill-opacity="0.78"/><path d="M1764.1,1035.5l7,12.1h-14z" fill="#17BFD6" fill-opacity="0.78"/><path d="M1717.9,926.8l7,12.1h-14z" fill="#17BFD6" fill-opacity="0.78"/><path d="M1750.5,1006.7l7,12.1h-14z" fill="#17BFD6" fill-opacity="0.78"/><path d="M1659.2,1009.4l7,12.1h-14z" fill="#17BFD6" fill-opacity="0.78"/><path d="M1771.1,992.6l7,12.1h-14z" fill="#17BFD6" fill-opacity="0.78"/><path d="M1786.2,1001.8l7,12.1h-14z" fill="#17BFD6" fill-opacity="0.78"/><path d="M1654.6,962.6l7,12.1h-14z" fill="#17BFD6" fill-opacity="0.78"/><path d="M1675.9,979.3l7,12.1h-14z" fill="#17BFD6" fill-opacity="0.78"/><path d="M1748.5,977.0l7,12.1h-14z" fill="#17BFD6" fill-opacity="0.78"/><path d="M1744.5,934.6l7,12.1h-14z" fill="#17BFD6" fill-opacity="0.78"/><path d="M1756.9,1049.4l7,12.1h-14z" fill="#17BFD6" fill-opacity="0.78"/><path d="M1646.4,989.4l7,12.1h-14z" fill="#17BFD6" fill-opacity="0.78"/><path d="M1701.5,964.3l7,12.1h-14z" fill="#17BFD6" fill-opacity="0.78"/><path d="M1695.4,1039.3l7,12.1h-14z" fill="#17BFD6" fill-opacity="0.78"/><path d="M1801.4,989.7l7,12.1h-14z" fill="#17BFD6" fill-opacity="0.78"/><path d="M1719.2,1015.4l7,12.1h-14z" fill="#17BFD6" fill-opacity="0.78"/><path d="M1694.6,922.7l7,12.1h-14z" fill="#17BFD6" fill-opacity="0.78"/><path d="M1667.9,957.2l7,12.1h-14z" fill="#17BFD6" fill-opacity="0.78"/><path d="M1724.7,1034.4l7,12.1h-14z" fill="#17BFD6" fill-opacity="0.78"/><path d="M1793.6,1060.8l7,12.1h-14z" fill="#17BFD6" fill-opacity="0.78"/><path d="M1620.8,1051.3l7,12.1h-14z" fill="#17BFD6" fill-opacity="0.78"/><path d="M1731.5,1048.9l7,12.1h-14z" fill="#17BFD6" fill-opacity="0.78"/><path d="M1755.9,1068.8l7,12.1h-14z" fill="#17BFD6" fill-opacity="0.78"/><path d="M1833.7,979.6l7,12.1h-14z" fill="#17BFD6" fill-opacity="0.78"/><path d="M1766.3,941.4l7,12.1h-14z" fill="#17BFD6" fill-opacity="0.78"/><path d="M1801.5,913.0l7,12.1h-14z" fill="#17BFD6" fill-opacity="0.78"/><path d="M1727.3,993.2l7,12.1h-14z" fill="#17BFD6" fill-opacity="0.78"/><path d="M1634.0,966.6l7,12.1h-14z" fill="#17BFD6" fill-opacity="0.78"/><path d="M1631.4,1039.6l7,12.1h-14z" fill="#17BFD6" fill-opacity="0.78"/><path d="M1680.5,973.1l7,12.1h-14z" fill="#17BFD6" fill-opacity="0.78"/><path d="M1732.7,1058.0l7,12.1h-14z" fill="#17BFD6" fill-opacity="0.78"/><path d="M1707.8,927.6l7,12.1h-14z" fill="#17BFD6" fill-opacity="0.78"/><path d="M1696.9,1058.2l7,12.1h-14z" fill="#17BFD6" fill-opacity="0.78"/><path d="M1824.4,1003.8l7,12.1h-14z" fill="#17BFD6" fill-opacity="0.78"/><path d="M1567.2,1025.1l7,12.1h-14z" fill="#17BFD6" fill-opacity="0.78"/><path d="M1658.0,1022.2l7,12.1h-14z" fill="#17BFD6" fill-opacity="0.78"/><path d="M1853.2,976.5l7,12.1h-14z" fill="#17BFD6" fill-opacity="0.78"/><path d="M1743.2,1031.7l7,12.1h-14z" fill="#17BFD6" fill-opacity="0.78"/><path d="M1683.6,959.6l7,12.1h-14z" fill="#17BFD6" fill-opacity="0.78"/><path d="M1652.9,1017.7l7,12.1h-14z" fill="#17BFD6" fill-opacity="0.78"/><path d="M1773.3,1023.9l7,12.1h-14z" fill="#17BFD6" fill-opacity="0.78"/><path d="M1767.3,1015.6l7,12.1h-14z" fill="#17BFD6" fill-opacity="0.78"/><path d="M1773.6,990.4l7,12.1h-14z" fill="#17BFD6" fill-opacity="0.78"/><path d="M1640.7,968.0l7,12.1h-14z" fill="#17BFD6" fill-opacity="0.78"/><path d="M1732.5,993.3l7,12.1h-14z" fill="#17BFD6" fill-opacity="0.78"/><path d="M1711.7,902.3l7,12.1h-14z" fill="#17BFD6" fill-opacity="0.78"/><path d="M1751.7,1036.4l7,12.1h-14z" fill="#17BFD6" fill-opacity="0.78"/><path d="M1614.6,971.7l7,12.1h-14z" fill="#17BFD6" fill-opacity="0.78"/><path d="M1761.1,1005.1l7,12.1h-14z" fill="#17BFD6" fill-opacity="0.78"/><path d="M1810.2,966.7l7,12.1h-14z" fill="#17BFD6" fill-opacity="0.78"/><path d="M1635.2,988.9l7,12.1h-14z" fill="#17BFD6" fill-opacity="0.78"/><path d="M1777.2,978.9l7,12.1h-14z" fill="#17BFD6" fill-opacity="0.78"/><path d="M1817.3,1073.6l7,12.1h-14z" fill="#17BFD6" fill-opacity="0.78"/><path d="M1777.9,943.0l7,12.1h-14z" fill="#17BFD6" fill-opacity="0.78"/><path d="M1722.0,1042.3l7,12.1h-14z" fill="#17BFD6" fill-opacity="0.78"/><path d="M1732.6,959.1l7,12.1h-14z" fill="#17BFD6" fill-opacity="0.78"/><path d="M1693.1,999.8l7,12.1h-14z" fill="#17BFD6" fill-opacity="0.78"/><path d="M1738.1,981.0l7,12.1h-14z" fill="#17BFD6" fill-opacity="0.78"/><path d="M1658.9,942.6l7,12.1h-14z" fill="#17BFD6" fill-opacity="0.78"/><path d="M1728.2,913.8l7,12.1h-14z" fill="#17BFD6" fill-opacity="0.78"/><path d="M1672.5,1013.9l7,12.1h-14z" fill="#17BFD6" fill-opacity="0.78"/><path d="M1629.3,913.4l7,12.1h-14z" fill="#17BFD6" fill-opacity="0.78"/><path d="M1809.1,984.0l7,12.1h-14z" fill="#17BFD6" fill-opacity="0.78"/><path d="M1595.6,1028.3l7,12.1h-14z" fill="#17BFD6" fill-opacity="0.78"/><path d="M1824.0,1063.3l7,12.1h-14z" fill="#17BFD6" fill-opacity="0.78"/><path d="M1576.5,980.4l7,12.1h-14z" fill="#17BFD6" fill-opacity="0.78"/><path d="M1781.1,935.0l7,12.1h-14z" fill="#17BFD6" fill-opacity="0.78"/><path d="M1736.5,985.1l7,12.1h-14z" fill="#17BFD6" fill-opacity="0.78"/><path d="M1615.1,976.7l7,12.1h-14z" fill="#17BFD6" fill-opacity="0.78"/><path d="M1694.9,952.7l7,12.1h-14z" fill="#17BFD6" fill-opacity="0.78"/><path d="M1660.5,1036.8l7,12.1h-14z" fill="#17BFD6" fill-opacity="0.78"/><path d="M1665.0,989.2l7,12.1h-14z" fill="#17BFD6" fill-opacity="0.78"/><path d="M1778.3,1011.8l7,12.1h-14z" fill="#17BFD6" fill-opacity="0.78"/><path d="M1649.7,973.5l7,12.1h-14z" fill="#17BFD6" fill-opacity="0.78"/><path d="M1590.8,921.0l7,12.1h-14z" fill="#17BFD6" fill-opacity="0.78"/><path d="M1790.6,961.8l7,12.1h-14z" fill="#17BFD6" fill-opacity="0.78"/><path d="M1749.2,953.6l7,12.1h-14z" fill="#17BFD6" fill-opacity="0.78"/><path d="M1725.4,1040.8l7,12.1h-14z" fill="#17BFD6" fill-opacity="0.78"/><path d="M1708.6,987.2l7,12.1h-14z" fill="#17BFD6" fill-opacity="0.78"/><path d="M1768.0,1016.0l7,12.1h-14z" fill="#17BFD6" fill-opacity="0.78"/><path d="M1748.1,1010.8l7,12.1h-14z" fill="#17BFD6" fill-opacity="0.78"/><path d="M1718.6,1005.1l7,12.1h-14z" fill="#17BFD6" fill-opacity="0.78"/><path d="M1689.5,1053.6l7,12.1h-14z" fill="#17BFD6" fill-opacity="0.78"/><path d="M1788.8,1036.2l7,12.1h-14z" fill="#17BFD6" fill-opacity="0.78"/><path d="M1807.4,1017.1l7,12.1h-14z" fill="#17BFD6" fill-opacity="0.78"/><path d="M1754.4,999.6l7,12.1h-14z" fill="#17BFD6" fill-opacity="0.78"/><path d="M1873.5,1080.5l7,12.1h-14z" fill="#17BFD6" fill-opacity="0.78"/><path d="M1739.1,922.9l7,12.1h-14z" fill="#17BFD6" fill-opacity="0.78"/><path d="M1736.6,1047.5l7,12.1h-14z" fill="#17BFD6" fill-opacity="0.78"/><path d="M1810.7,981.5l7,12.1h-14z" fill="#17BFD6" fill-opacity="0.78"/><path d="M1743.4,1013.7l7,12.1h-14z" fill="#17BFD6" fill-opacity="0.78"/><path d="M1741.4,980.1l7,12.1h-14z" fill="#17BFD6" fill-opacity="0.78"/><path d="M1704.5,986.5l7,12.1h-14z" fill="#17BFD6" fill-opacity="0.78"/><path d="M1755.2,983.0l7,12.1h-14z" fill="#17BFD6" fill-opacity="0.78"/><path d="M1680.5,938.0l7,12.1h-14z" fill="#17BFD6" fill-opacity="0.78"/><path d="M1656.5,946.1l7,12.1h-14z" fill="#17BFD6" fill-opacity="0.78"/><path d="M1576.2,918.9l7,12.1h-14z" fill="#17BFD6" fill-opacity="0.78"/><path d="M1789.7,925.7l7,12.1h-14z" fill="#17BFD6" fill-opacity="0.78"/><path d="M1706.0,1006.1l7,12.1h-14z" fill="#17BFD6" fill-opacity="0.78"/><path d="M1670.1,939.1l7,12.1h-14z" fill="#17BFD6" fill-opacity="0.78"/><path d="M1748.8,994.1l7,12.1h-14z" fill="#17BFD6" fill-opacity="0.78"/><path d="M1644.9,1026.6l7,12.1h-14z" fill="#17BFD6" fill-opacity="0.78"/><path d="M1779.5,951.8l7,12.1h-14z" fill="#17BFD6" fill-opacity="0.78"/><path d="M1805.3,991.7l7,12.1h-14z" fill="#17BFD6" fill-opacity="0.78"/><path d="M1631.1,1022.1l7,12.1h-14z" fill="#17BFD6" fill-opacity="0.78"/><path d="M1794.6,984.1l7,12.1h-14z" fill="#17BFD6" fill-opacity="0.78"/><path d="M1737.9,972.5l7,12.1h-14z" fill="#17BFD6" fill-opacity="0.78"/><path d="M1791.9,916.2l7,12.1h-14z" fill="#17BFD6" fill-opacity="0.78"/><path d="M1737.5,1044.8l7,12.1h-14z" fill="#17BFD6" fill-opacity="0.78"/><path d="M1672.6,967.6l7,12.1h-14z" fill="#17BFD6" fill-opacity="0.78"/><path d="M1617.1,921.1l7,12.1h-14z" fill="#17BFD6" fill-opacity="0.78"/><path d="M1654.3,1010.9l7,12.1h-14z" fill="#17BFD6" fill-opacity="0.78"/><path d="M1695.5,963.4l7,12.1h-14z" fill="#17BFD6" fill-opacity="0.78"/><path d="M1787.9,991.3l7,12.1h-14z" fill="#17BFD6" fill-opacity="0.78"/><path d="M1764.9,964.2l7,12.1h-14z" fill="#17BFD6" fill-opacity="0.78"/><path d="M1744.0,1020.2l7,12.1h-14z" fill="#17BFD6" fill-opacity="0.78"/><path d="M1808.3,1028.7l7,12.1h-14z" fill="#17BFD6" fill-opacity="0.78"/><path d="M1596.7,949.7l7,12.1h-14z" fill="#17BFD6" fill-opacity="0.78"/><path d="M1650.1,974.3l7,12.1h-14z" fill="#17BFD6" fill-opacity="0.78"/><path d="M1652.2,1039.7l7,12.1h-14z" fill="#17BFD6" fill-opacity="0.78"/><path d="M1729.7,991.1l7,12.1h-14z" fill="#17BFD6" fill-opacity="0.78"/><path d="M1611.0,951.6l7,12.1h-14z" fill="#17BFD6" fill-opacity="0.78"/><path d="M1690.3,1039.1l7,12.1h-14z" fill="#17BFD6" fill-opacity="0.78"/><path d="M1803.5,970.9l7,12.1h-14z" fill="#17BFD6" fill-opacity="0.78"/><path d="M1785.1,996.9l7,12.1h-14z" fill="#17BFD6" fill-opacity="0.78"/><path d="M1812.3,950.9l7,12.1h-14z" fill="#17BFD6" fill-opacity="0.78"/><path d="M1691.6,945.3l7,12.1h-14z" fill="#17BFD6" fill-opacity="0.78"/><path d="M1660.3,953.3l7,12.1h-14z" fill="#17BFD6" fill-opacity="0.78"/><path d="M1742.2,1011.4l7,12.1h-14z" fill="#17BFD6" fill-opacity="0.78"/><path d="M1667.7,1021.1l7,12.1h-14z" fill="#17BFD6" fill-opacity="0.78"/><path d="M1728.5,1126.4l7,12.1h-14z" fill="#17BFD6" fill-opacity="0.78"/><path d="M1881.2,1085.9l7,12.1h-14z" fill="#17BFD6" fill-opacity="0.78"/><path d="M1861.3,1105.7l7,12.1h-14z" fill="#17BFD6" fill-opacity="0.78"/><path d="M1514.3,991.3l7,12.1h-14z" fill="#17BFD6" fill-opacity="0.78"/><path d="M1873.2,947.4l7,12.1h-14z" fill="#17BFD6" fill-opacity="0.78"/><path d="M1873.2,960.3l7,12.1h-14z" fill="#17BFD6" fill-opacity="0.78"/><path d="M1645.2,891.5l7,12.1h-14z" fill="#17BFD6" fill-opacity="0.78"/><path d="M1591.7,905.2l7,12.1h-14z" fill="#17BFD6" fill-opacity="0.78"/><path d="M1557.9,919.0l7,12.1h-14z" fill="#17BFD6" fill-opacity="0.78"/><path d="M1803.8,906.9l7,12.1h-14z" fill="#17BFD6" fill-opacity="0.78"/><circle cx="1663.1" cy="924.5" r="5.4" fill="#33336E" fill-opacity="0.7"/><circle cx="1723.4" cy="922.6" r="5.4" fill="#33336E" fill-opacity="0.7"/><circle cx="1679.5" cy="984.9" r="5.4" fill="#33336E" fill-opacity="0.7"/><circle cx="1720.7" cy="949.5" r="5.4" fill="#33336E" fill-opacity="0.7"/><circle cx="1646.3" cy="1019.9" r="5.4" fill="#33336E" fill-opacity="0.7"/><circle cx="1697.3" cy="940.3" r="5.4" fill="#33336E" fill-opacity="0.7"/><circle cx="1676.8" cy="919.1" r="5.4" fill="#33336E" fill-opacity="0.7"/><circle cx="1690.5" cy="912.3" r="5.4" fill="#33336E" fill-opacity="0.7"/><circle cx="1814.3" cy="1043.1" r="5.4" fill="#33336E" fill-opacity="0.7"/><circle cx="1698.7" cy="979.7" r="5.4" fill="#33336E" fill-opacity="0.7"/><circle cx="1760.8" cy="1004.2" r="5.4" fill="#33336E" fill-opacity="0.7"/><circle cx="1742.8" cy="944.0" r="5.4" fill="#33336E" fill-opacity="0.7"/><circle cx="1609.7" cy="1021.9" r="5.4" fill="#33336E" fill-opacity="0.7"/><circle cx="1705.3" cy="931.0" r="5.4" fill="#33336E" fill-opacity="0.7"/><circle cx="1743.0" cy="981.1" r="5.4" fill="#33336E" fill-opacity="0.7"/><circle cx="1608.7" cy="953.5" r="5.4" fill="#33336E" fill-opacity="0.7"/><circle cx="1646.5" cy="1007.1" r="5.4" fill="#33336E" fill-opacity="0.7"/><circle cx="1834.4" cy="960.1" r="5.4" fill="#33336E" fill-opacity="0.7"/><circle cx="1689.7" cy="963.7" r="5.4" fill="#33336E" fill-opacity="0.7"/><circle cx="1664.9" cy="963.9" r="5.4" fill="#33336E" fill-opacity="0.7"/><circle cx="1687.2" cy="974.1" r="5.4" fill="#33336E" fill-opacity="0.7"/><circle cx="1644.7" cy="971.7" r="5.4" fill="#33336E" fill-opacity="0.7"/><circle cx="1690.8" cy="1001.6" r="5.4" fill="#33336E" fill-opacity="0.7"/><circle cx="1696.7" cy="1011.0" r="5.4" fill="#33336E" fill-opacity="0.7"/><circle cx="1672.3" cy="964.7" r="5.4" fill="#33336E" fill-opacity="0.7"/><circle cx="1762.8" cy="980.0" r="5.4" fill="#33336E" fill-opacity="0.7"/><circle cx="1779.0" cy="992.2" r="5.4" fill="#33336E" fill-opacity="0.7"/><circle cx="1742.3" cy="995.9" r="5.4" fill="#33336E" fill-opacity="0.7"/><circle cx="1648.9" cy="969.1" r="5.4" fill="#33336E" fill-opacity="0.7"/><circle cx="1661.3" cy="991.2" r="5.4" fill="#33336E" fill-opacity="0.7"/><circle cx="1620.0" cy="978.5" r="5.4" fill="#33336E" fill-opacity="0.7"/><circle cx="1705.6" cy="1007.5" r="5.4" fill="#33336E" fill-opacity="0.7"/><circle cx="1663.4" cy="954.9" r="5.4" fill="#33336E" fill-opacity="0.7"/><circle cx="1659.3" cy="980.4" r="5.4" fill="#33336E" fill-opacity="0.7"/><circle cx="1653.1" cy="955.4" r="5.4" fill="#33336E" fill-opacity="0.7"/><circle cx="1697.1" cy="921.1" r="5.4" fill="#33336E" fill-opacity="0.7"/><circle cx="1692.9" cy="956.0" r="5.4" fill="#33336E" fill-opacity="0.7"/><circle cx="1629.3" cy="975.3" r="5.4" fill="#33336E" fill-opacity="0.7"/><circle cx="1768.1" cy="969.6" r="5.4" fill="#33336E" fill-opacity="0.7"/><circle cx="1693.8" cy="947.2" r="5.4" fill="#33336E" fill-opacity="0.7"/><circle cx="1618.6" cy="990.7" r="5.4" fill="#33336E" fill-opacity="0.7"/><circle cx="1731.0" cy="1026.4" r="5.4" fill="#33336E" fill-opacity="0.7"/><circle cx="1644.1" cy="994.0" r="5.4" fill="#33336E" fill-opacity="0.7"/><circle cx="1785.1" cy="1013.0" r="5.4" fill="#33336E" fill-opacity="0.7"/><circle cx="1758.5" cy="943.6" r="5.4" fill="#33336E" fill-opacity="0.7"/><circle cx="1713.5" cy="998.5" r="5.4" fill="#33336E" fill-opacity="0.7"/><circle cx="1809.8" cy="1052.4" r="5.4" fill="#33336E" fill-opacity="0.7"/><circle cx="1642.6" cy="1018.2" r="5.4" fill="#33336E" fill-opacity="0.7"/><circle cx="1700.8" cy="981.8" r="5.4" fill="#33336E" fill-opacity="0.7"/><circle cx="1673.2" cy="1017.3" r="5.4" fill="#33336E" fill-opacity="0.7"/><circle cx="1642.4" cy="964.6" r="5.4" fill="#33336E" fill-opacity="0.7"/><circle cx="1622.7" cy="959.6" r="5.4" fill="#33336E" fill-opacity="0.7"/><circle cx="1746.4" cy="999.9" r="5.4" fill="#33336E" fill-opacity="0.7"/><circle cx="1674.2" cy="989.9" r="5.4" fill="#33336E" fill-opacity="0.7"/><circle cx="1639.3" cy="952.9" r="5.4" fill="#33336E" fill-opacity="0.7"/><circle cx="1660.6" cy="968.4" r="5.4" fill="#33336E" fill-opacity="0.7"/><circle cx="1830.3" cy="1035.9" r="5.4" fill="#33336E" fill-opacity="0.7"/><circle cx="1686.8" cy="962.4" r="5.4" fill="#33336E" fill-opacity="0.7"/><circle cx="1651.9" cy="978.3" r="5.4" fill="#33336E" fill-opacity="0.7"/><circle cx="1674.8" cy="986.4" r="5.4" fill="#33336E" fill-opacity="0.7"/><circle cx="1750.1" cy="1020.1" r="5.4" fill="#33336E" fill-opacity="0.7"/><circle cx="1680.0" cy="974.4" r="5.4" fill="#33336E" fill-opacity="0.7"/><circle cx="1676.3" cy="985.6" r="5.4" fill="#33336E" fill-opacity="0.7"/><circle cx="1681.9" cy="1019.8" r="5.4" fill="#33336E" fill-opacity="0.7"/><circle cx="1660.4" cy="959.9" r="5.4" fill="#33336E" fill-opacity="0.7"/><circle cx="1672.9" cy="956.2" r="5.4" fill="#33336E" fill-opacity="0.7"/><circle cx="1760.2" cy="941.8" r="5.4" fill="#33336E" fill-opacity="0.7"/><circle cx="1674.6" cy="1000.9" r="5.4" fill="#33336E" fill-opacity="0.7"/><circle cx="1680.9" cy="962.3" r="5.4" fill="#33336E" fill-opacity="0.7"/><circle cx="1721.5" cy="924.3" r="5.4" fill="#33336E" fill-opacity="0.7"/><circle cx="1752.1" cy="970.5" r="5.4" fill="#33336E" fill-opacity="0.7"/><circle cx="1652.2" cy="943.6" r="5.4" fill="#33336E" fill-opacity="0.7"/><circle cx="1708.7" cy="970.0" r="5.4" fill="#33336E" fill-opacity="0.7"/><circle cx="1631.7" cy="960.3" r="5.4" fill="#33336E" fill-opacity="0.7"/><circle cx="1700.3" cy="979.7" r="5.4" fill="#33336E" fill-opacity="0.7"/><circle cx="1702.4" cy="1037.0" r="5.4" fill="#33336E" fill-opacity="0.7"/><circle cx="1743.5" cy="980.7" r="5.4" fill="#33336E" fill-opacity="0.7"/><circle cx="1756.0" cy="967.0" r="5.4" fill="#33336E" fill-opacity="0.7"/><circle cx="1677.5" cy="967.1" r="5.4" fill="#33336E" fill-opacity="0.7"/><circle cx="1631.1" cy="976.0" r="5.4" fill="#33336E" fill-opacity="0.7"/><circle cx="1683.9" cy="1007.6" r="5.4" fill="#33336E" fill-opacity="0.7"/><circle cx="1677.3" cy="980.0" r="5.4" fill="#33336E" fill-opacity="0.7"/><circle cx="1734.6" cy="990.0" r="5.4" fill="#33336E" fill-opacity="0.7"/><circle cx="1681.7" cy="999.5" r="5.4" fill="#33336E" fill-opacity="0.7"/><circle cx="1678.4" cy="981.8" r="5.4" fill="#33336E" fill-opacity="0.7"/><circle cx="1738.8" cy="970.6" r="5.4" fill="#33336E" fill-opacity="0.7"/><circle cx="1719.2" cy="981.8" r="5.4" fill="#33336E" fill-opacity="0.7"/><circle cx="1689.5" cy="983.1" r="5.4" fill="#33336E" fill-opacity="0.7"/><circle cx="1652.3" cy="924.7" r="5.4" fill="#33336E" fill-opacity="0.7"/><circle cx="1648.9" cy="999.8" r="5.4" fill="#33336E" fill-opacity="0.7"/><circle cx="1653.0" cy="980.5" r="5.4" fill="#33336E" fill-opacity="0.7"/><circle cx="1646.6" cy="997.6" r="5.4" fill="#33336E" fill-opacity="0.7"/><circle cx="1667.7" cy="984.1" r="5.4" fill="#33336E" fill-opacity="0.7"/><circle cx="1749.7" cy="948.6" r="5.4" fill="#33336E" fill-opacity="0.7"/><circle cx="1669.4" cy="957.5" r="5.4" fill="#33336E" fill-opacity="0.7"/><circle cx="1673.7" cy="977.6" r="5.4" fill="#33336E" fill-opacity="0.7"/><circle cx="1577.3" cy="929.7" r="5.4" fill="#33336E" fill-opacity="0.7"/><circle cx="1742.2" cy="1028.4" r="5.4" fill="#33336E" fill-opacity="0.7"/><circle cx="1668.1" cy="941.0" r="5.4" fill="#33336E" fill-opacity="0.7"/><circle cx="1719.2" cy="1041.6" r="5.4" fill="#33336E" fill-opacity="0.7"/><circle cx="1711.5" cy="991.8" r="5.4" fill="#33336E" fill-opacity="0.7"/><circle cx="1654.8" cy="994.1" r="5.4" fill="#33336E" fill-opacity="0.7"/><circle cx="1711.2" cy="946.7" r="5.4" fill="#33336E" fill-opacity="0.7"/><circle cx="1612.7" cy="962.6" r="5.4" fill="#33336E" fill-opacity="0.7"/><circle cx="1652.8" cy="964.8" r="5.4" fill="#33336E" fill-opacity="0.7"/><circle cx="1767.8" cy="1038.6" r="5.4" fill="#33336E" fill-opacity="0.7"/><circle cx="1640.7" cy="1044.4" r="5.4" fill="#33336E" fill-opacity="0.7"/><circle cx="1707.9" cy="1047.7" r="5.4" fill="#33336E" fill-opacity="0.7"/><circle cx="1686.9" cy="906.3" r="5.4" fill="#33336E" fill-opacity="0.7"/><circle cx="1647.9" cy="978.1" r="5.4" fill="#33336E" fill-opacity="0.7"/><circle cx="1767.0" cy="951.6" r="5.4" fill="#33336E" fill-opacity="0.7"/><circle cx="1679.9" cy="978.2" r="5.4" fill="#33336E" fill-opacity="0.7"/><circle cx="1726.7" cy="972.4" r="5.4" fill="#33336E" fill-opacity="0.7"/><circle cx="1799.0" cy="943.5" r="5.4" fill="#33336E" fill-opacity="0.7"/><circle cx="1611.8" cy="936.6" r="5.4" fill="#33336E" fill-opacity="0.7"/><circle cx="1681.5" cy="1002.4" r="5.4" fill="#33336E" fill-opacity="0.7"/><circle cx="1735.3" cy="982.4" r="5.4" fill="#33336E" fill-opacity="0.7"/><circle cx="1680.8" cy="961.9" r="5.4" fill="#33336E" fill-opacity="0.7"/><circle cx="1749.7" cy="991.9" r="5.4" fill="#33336E" fill-opacity="0.7"/><circle cx="1718.7" cy="952.7" r="5.4" fill="#33336E" fill-opacity="0.7"/><circle cx="1696.6" cy="1003.3" r="5.4" fill="#33336E" fill-opacity="0.7"/><circle cx="1709.7" cy="972.8" r="5.4" fill="#33336E" fill-opacity="0.7"/><circle cx="1646.7" cy="1012.5" r="5.4" fill="#33336E" fill-opacity="0.7"/><circle cx="1723.7" cy="824.6" r="5.4" fill="#33336E" fill-opacity="0.7"/><circle cx="1629.3" cy="842.7" r="5.4" fill="#33336E" fill-opacity="0.7"/><circle cx="1665.8" cy="848.7" r="5.4" fill="#33336E" fill-opacity="0.7"/><circle cx="1608.7" cy="857.3" r="5.4" fill="#33336E" fill-opacity="0.7"/><circle cx="1680.9" cy="862.5" r="5.4" fill="#33336E" fill-opacity="0.7"/><circle cx="1609.5" cy="873.6" r="5.4" fill="#33336E" fill-opacity="0.7"/><circle cx="1528.2" cy="880.5" r="5.4" fill="#33336E" fill-opacity="0.7"/><circle cx="1831.6" cy="864.2" r="5.4" fill="#33336E" fill-opacity="0.7"/><circle cx="1561.9" cy="904.6" r="5.4" fill="#33336E" fill-opacity="0.7"/><circle cx="1793.1" cy="901.2" r="5.4" fill="#33336E" fill-opacity="0.7"/><circle cx="1466.7" cy="947.6" r="5.4" fill="#33336E" fill-opacity="0.7"/><circle cx="1494.5" cy="952.8" r="5.4" fill="#33336E" fill-opacity="0.7"/><circle cx="1522.2" cy="947.6" r="5.4" fill="#33336E" fill-opacity="0.7"/><circle cx="1546.0" cy="938.2" r="5.4" fill="#33336E" fill-opacity="0.7"/><circle cx="1538.1" cy="975.2" r="5.4" fill="#33336E" fill-opacity="0.7"/><circle cx="1548.0" cy="983.8" r="5.4" fill="#33336E" fill-opacity="0.7"/><circle cx="1544.1" cy="1013.9" r="5.4" fill="#33336E" fill-opacity="0.7"/><circle cx="1632.5" cy="1118.0" r="5.4" fill="#33336E" fill-opacity="0.7"/><circle cx="1676.9" cy="1214.4" r="5.4" fill="#33336E" fill-opacity="0.7"/><circle cx="1592.8" cy="928.7" r="5.4" fill="#33336E" fill-opacity="0.7"/><circle cx="1569.8" cy="959.7" r="5.4" fill="#33336E" fill-opacity="0.7"/><circle cx="1581.7" cy="985.5" r="5.4" fill="#33336E" fill-opacity="0.7"/><circle cx="1603.6" cy="1007.9" r="5.4" fill="#33336E" fill-opacity="0.7"/><circle cx="1617.4" cy="1044.0" r="5.4" fill="#33336E" fill-opacity="0.7"/>
<circle cx="1682.4" cy="978.1" r="6.9" fill="#FFFF00"/>
<path d="M1722.9,989.9l8.7,15.1h-17.4z" fill="#FFFF00"/>
<path d="M1468.0,801.0C1480.0,800.8 1526.8,800.3 1540.0,800.0C1553.2,799.7 1542.5,800.0 1547.5,799.0C1552.5,798.0 1563.8,795.4 1570.0,794.2C1576.2,793.0 1577.5,792.6 1585.0,791.8C1592.5,791.0 1607.5,790.5 1615.0,789.2C1622.5,787.9 1622.5,787.7 1630.0,784.0C1637.5,780.3 1651.7,771.5 1660.0,767.0C1668.3,762.5 1673.3,761.0 1680.0,757.0C1686.7,753.0 1695.0,746.4 1700.0,743.0C1705.0,739.6 1706.3,738.2 1710.0,736.5C1713.7,734.8 1718.0,733.1 1722.0,733.0C1726.0,732.9 1729.3,734.2 1734.0,736.0C1738.7,737.8 1744.0,742.1 1750.0,744.0C1756.0,745.9 1765.0,746.3 1770.0,747.6C1775.0,748.9 1775.0,748.9 1780.0,752.0C1785.0,755.1 1793.3,760.7 1800.0,766.0C1806.7,771.3 1813.3,779.7 1820.0,784.0C1826.7,788.3 1833.3,789.9 1840.0,792.0C1846.7,794.1 1853.2,795.2 1860.0,796.4C1866.8,797.6 1877.5,798.6 1881.0,799.0L1881,801.6L1468,801.6Z" fill="#00BCD6" fill-opacity="0.5"/>
<path d="M1468.0,799.7C1475.0,799.3 1498.0,798.6 1510.0,797.5C1522.0,796.4 1530.0,793.8 1540.0,793.3C1550.0,792.8 1562.5,794.8 1570.0,794.5C1577.5,794.2 1577.5,795.2 1585.0,791.5C1592.5,787.8 1605.0,779.2 1615.0,772.0C1625.0,764.8 1637.5,754.3 1645.0,748.0C1652.5,741.7 1655.8,737.8 1660.0,734.0C1664.2,730.2 1666.7,727.3 1670.0,725.5C1673.3,723.7 1676.7,722.9 1680.0,723.0C1683.3,723.1 1686.7,724.3 1690.0,726.0C1693.3,727.7 1695.0,729.0 1700.0,733.0C1705.0,737.0 1713.3,745.3 1720.0,750.0C1726.7,754.7 1733.3,757.2 1740.0,761.0C1746.7,764.8 1753.3,769.0 1760.0,773.0C1766.7,777.0 1773.3,782.2 1780.0,785.0C1786.7,787.8 1793.3,788.1 1800.0,789.6C1806.7,791.1 1813.3,792.6 1820.0,794.0C1826.7,795.4 1833.3,796.9 1840.0,798.0C1846.7,799.1 1853.2,799.9 1860.0,800.4C1866.8,800.9 1877.5,801.1 1881.0,801.3L1881,801.6L1468,801.6Z" fill="#33336E" fill-opacity="0.5"/>
<path d="M1468.0,799.7C1475.0,799.3 1498.0,798.6 1510.0,797.5C1522.0,796.4 1530.0,793.8 1540.0,793.3C1550.0,792.8 1562.5,794.8 1570.0,794.5C1577.5,794.2 1577.5,795.2 1585.0,791.5C1592.5,787.8 1605.0,779.2 1615.0,772.0C1625.0,764.8 1637.5,754.3 1645.0,748.0C1652.5,741.7 1655.8,737.8 1660.0,734.0C1664.2,730.2 1666.7,727.3 1670.0,725.5C1673.3,723.7 1676.7,722.9 1680.0,723.0C1683.3,723.1 1686.7,724.3 1690.0,726.0C1693.3,727.7 1695.0,729.0 1700.0,733.0C1705.0,737.0 1713.3,745.3 1720.0,750.0C1726.7,754.7 1733.3,757.2 1740.0,761.0C1746.7,764.8 1753.3,769.0 1760.0,773.0C1766.7,777.0 1773.3,782.2 1780.0,785.0C1786.7,787.8 1793.3,788.1 1800.0,789.6C1806.7,791.1 1813.3,792.6 1820.0,794.0C1826.7,795.4 1833.3,796.9 1840.0,798.0C1846.7,799.1 1853.2,799.9 1860.0,800.4C1866.8,800.9 1877.5,801.1 1881.0,801.3L1881,801.6L1468,801.6Z" fill="none" stroke="#2A2A60" stroke-width="0.9"/>
<path d="M1468.0,801.0C1480.0,800.8 1526.8,800.3 1540.0,800.0C1553.2,799.7 1542.5,800.0 1547.5,799.0C1552.5,798.0 1563.8,795.4 1570.0,794.2C1576.2,793.0 1577.5,792.6 1585.0,791.8C1592.5,791.0 1607.5,790.5 1615.0,789.2C1622.5,787.9 1622.5,787.7 1630.0,784.0C1637.5,780.3 1651.7,771.5 1660.0,767.0C1668.3,762.5 1673.3,761.0 1680.0,757.0C1686.7,753.0 1695.0,746.4 1700.0,743.0C1705.0,739.6 1706.3,738.2 1710.0,736.5C1713.7,734.8 1718.0,733.1 1722.0,733.0C1726.0,732.9 1729.3,734.2 1734.0,736.0C1738.7,737.8 1744.0,742.1 1750.0,744.0C1756.0,745.9 1765.0,746.3 1770.0,747.6C1775.0,748.9 1775.0,748.9 1780.0,752.0C1785.0,755.1 1793.3,760.7 1800.0,766.0C1806.7,771.3 1813.3,779.7 1820.0,784.0C1826.7,788.3 1833.3,789.9 1840.0,792.0C1846.7,794.1 1853.2,795.2 1860.0,796.4C1866.8,797.6 1877.5,798.6 1881.0,799.0" fill="none" stroke="#00BCD6" stroke-width="0.9"/>
<path d="M1905.7,824.0C1905.7,833.4 1904.6,866.6 1905.7,880.2C1906.8,893.9 1908.4,897.9 1912.1,905.9C1915.8,913.9 1922.8,922.1 1928.1,928.3C1933.4,934.4 1938.8,938.0 1944.2,942.8C1949.6,947.6 1955.4,952.7 1960.2,957.2C1965.0,961.7 1969.7,965.7 1973.0,970.0C1976.3,974.3 1978.8,979.1 1980.1,982.9C1981.4,986.6 1982.3,989.3 1981.1,992.5C1979.9,995.7 1976.0,998.9 1973.0,1002.1C1970.0,1005.3 1966.1,1008.0 1963.4,1011.7C1960.7,1015.5 1958.9,1020.3 1957.0,1024.6C1955.1,1028.9 1954.9,1033.4 1952.2,1037.4C1949.5,1041.4 1945.0,1044.8 1941.0,1048.6C1937.0,1052.3 1931.8,1055.9 1928.1,1059.9C1924.3,1063.9 1920.9,1067.9 1918.5,1072.7C1916.1,1077.5 1915.0,1083.4 1913.7,1088.7C1912.4,1094.0 1911.6,1099.5 1910.5,1104.8C1909.4,1110.1 1908.1,1115.4 1907.3,1120.8C1906.5,1126.2 1906.0,1121.6 1905.7,1136.9C1905.4,1152.2 1905.7,1200.2 1905.7,1212.9L1905.2,1212.9L1905.2,824Z" fill="#00BCD6" fill-opacity="0.5"/>
<path d="M1905.7,824.0C1906.5,828.5 1909.5,843.5 1910.5,851.3C1911.5,859.1 1911.4,864.7 1911.4,870.6C1911.4,876.5 1909.3,881.2 1910.5,886.6C1911.7,892.0 1915.6,896.8 1918.5,902.7C1921.4,908.6 1923.8,916.0 1928.1,921.9C1932.4,927.8 1937.8,933.2 1944.2,938.0C1950.6,942.8 1960.2,946.5 1966.6,950.8C1973.0,955.1 1979.2,959.9 1982.7,963.6C1986.2,967.3 1987.5,969.7 1987.5,973.2C1987.5,976.7 1986.2,980.8 1982.7,984.5C1979.2,988.2 1972.5,991.2 1966.6,995.7C1960.7,1000.2 1952.5,1006.4 1947.4,1011.7C1942.3,1017.1 1940.4,1022.4 1936.1,1027.8C1931.8,1033.1 1924.9,1039.0 1921.7,1043.8C1918.5,1048.6 1918.2,1051.3 1916.9,1056.7C1915.6,1062.1 1915.0,1069.5 1913.7,1075.9C1912.4,1082.3 1910.1,1087.7 1908.9,1095.2C1907.7,1102.7 1906.8,1111.2 1906.3,1120.8C1905.8,1130.4 1905.7,1142.3 1905.7,1153.0C1905.7,1163.7 1906.3,1175.0 1906.3,1185.0C1906.3,1195.0 1905.8,1208.2 1905.7,1212.9L1905.2,1212.9L1905.2,824Z" fill="#33336E" fill-opacity="0.5"/>
<path d="M1905.7,824.0C1906.5,828.5 1909.5,843.5 1910.5,851.3C1911.5,859.1 1911.4,864.7 1911.4,870.6C1911.4,876.5 1909.3,881.2 1910.5,886.6C1911.7,892.0 1915.6,896.8 1918.5,902.7C1921.4,908.6 1923.8,916.0 1928.1,921.9C1932.4,927.8 1937.8,933.2 1944.2,938.0C1950.6,942.8 1960.2,946.5 1966.6,950.8C1973.0,955.1 1979.2,959.9 1982.7,963.6C1986.2,967.3 1987.5,969.7 1987.5,973.2C1987.5,976.7 1986.2,980.8 1982.7,984.5C1979.2,988.2 1972.5,991.2 1966.6,995.7C1960.7,1000.2 1952.5,1006.4 1947.4,1011.7C1942.3,1017.1 1940.4,1022.4 1936.1,1027.8C1931.8,1033.1 1924.9,1039.0 1921.7,1043.8C1918.5,1048.6 1918.2,1051.3 1916.9,1056.7C1915.6,1062.1 1915.0,1069.5 1913.7,1075.9C1912.4,1082.3 1910.1,1087.7 1908.9,1095.2C1907.7,1102.7 1906.8,1111.2 1906.3,1120.8C1905.8,1130.4 1905.7,1142.3 1905.7,1153.0C1905.7,1163.7 1906.3,1175.0 1906.3,1185.0C1906.3,1195.0 1905.8,1208.2 1905.7,1212.9L1905.2,1212.9L1905.2,824Z" fill="none" stroke="#2A2A60" stroke-width="0.9"/>
<path d="M1905.7,824.0C1905.7,833.4 1904.6,866.6 1905.7,880.2C1906.8,893.9 1908.4,897.9 1912.1,905.9C1915.8,913.9 1922.8,922.1 1928.1,928.3C1933.4,934.4 1938.8,938.0 1944.2,942.8C1949.6,947.6 1955.4,952.7 1960.2,957.2C1965.0,961.7 1969.7,965.7 1973.0,970.0C1976.3,974.3 1978.8,979.1 1980.1,982.9C1981.4,986.6 1982.3,989.3 1981.1,992.5C1979.9,995.7 1976.0,998.9 1973.0,1002.1C1970.0,1005.3 1966.1,1008.0 1963.4,1011.7C1960.7,1015.5 1958.9,1020.3 1957.0,1024.6C1955.1,1028.9 1954.9,1033.4 1952.2,1037.4C1949.5,1041.4 1945.0,1044.8 1941.0,1048.6C1937.0,1052.3 1931.8,1055.9 1928.1,1059.9C1924.3,1063.9 1920.9,1067.9 1918.5,1072.7C1916.1,1077.5 1915.0,1083.4 1913.7,1088.7C1912.4,1094.0 1911.6,1099.5 1910.5,1104.8C1909.4,1110.1 1908.1,1115.4 1907.3,1120.8C1906.5,1126.2 1906.0,1121.6 1905.7,1136.9C1905.4,1152.2 1905.7,1200.2 1905.7,1212.9" fill="none" stroke="#00BCD6" stroke-width="0.9"/>
<line x1="1447.4" y1="805.0" x2="1447.4" y2="1233.8" stroke="#000" stroke-width="1.15"/>
<line x1="1446.9" y1="1233.2" x2="1901.1" y2="1233.2" stroke="#000" stroke-width="1.15"/>
<line x1="1445.2" y1="870.2" x2="1447.4" y2="870.2" stroke="#333" stroke-width="1"/>
<text x="1443.2" y="878.6" font-size="23.6" fill="#4D4D4D" text-anchor="end" font-weight="normal" font-family="'Liberation Sans', sans-serif">0.40</text>
<line x1="1445.2" y1="956.3" x2="1447.4" y2="956.3" stroke="#333" stroke-width="1"/>
<text x="1443.2" y="964.7" font-size="23.6" fill="#4D4D4D" text-anchor="end" font-weight="normal" font-family="'Liberation Sans', sans-serif">0.35</text>
<line x1="1445.2" y1="1042.3" x2="1447.4" y2="1042.3" stroke="#333" stroke-width="1"/>
<text x="1443.2" y="1050.7" font-size="23.6" fill="#4D4D4D" text-anchor="end" font-weight="normal" font-family="'Liberation Sans', sans-serif">0.30</text>
<line x1="1445.2" y1="1128.4" x2="1447.4" y2="1128.4" stroke="#333" stroke-width="1"/>
<text x="1443.2" y="1136.8" font-size="23.6" fill="#4D4D4D" text-anchor="end" font-weight="normal" font-family="'Liberation Sans', sans-serif">0.25</text>
<line x1="1445.2" y1="1214.4" x2="1447.4" y2="1214.4" stroke="#333" stroke-width="1"/>
<text x="1443.2" y="1222.8" font-size="23.6" fill="#4D4D4D" text-anchor="end" font-weight="normal" font-family="'Liberation Sans', sans-serif">0.20</text>
<line x1="1522.2" y1="1233.2" x2="1522.2" y2="1235.6" stroke="#333" stroke-width="1"/>
<text x="1522.2" y="1255.2" font-size="23.6" fill="#4D4D4D" text-anchor="middle" font-weight="normal" font-family="'Liberation Sans', sans-serif">-2.25</text>
<line x1="1621.4" y1="1233.2" x2="1621.4" y2="1235.6" stroke="#333" stroke-width="1"/>
<text x="1621.4" y="1255.2" font-size="23.6" fill="#4D4D4D" text-anchor="middle" font-weight="normal" font-family="'Liberation Sans', sans-serif">-2.00</text>
<line x1="1720.6" y1="1233.2" x2="1720.6" y2="1235.6" stroke="#333" stroke-width="1"/>
<text x="1720.6" y="1255.2" font-size="23.6" fill="#4D4D4D" text-anchor="middle" font-weight="normal" font-family="'Liberation Sans', sans-serif">-1.75</text>
<line x1="1819.7" y1="1233.2" x2="1819.7" y2="1235.6" stroke="#333" stroke-width="1"/>
<text x="1819.7" y="1255.2" font-size="23.6" fill="#4D4D4D" text-anchor="middle" font-weight="normal" font-family="'Liberation Sans', sans-serif">-1.50</text>
<text x="1374.5" y="1033.1" font-size="29.5" fill="#000" text-anchor="middle" font-weight="normal" font-family="'Liberation Sans', sans-serif">γ</text>
<text x="1691.2" y="1288.0" font-size="29.5" fill="#000" text-anchor="middle" font-weight="normal" font-family="'Liberation Sans', sans-serif">η</text>
<text x="1471.0" y="1160.6" font-size="20.4" fill="#000" text-anchor="start" font-weight="normal" font-family="'Liberation Sans', sans-serif">Group</text>
<circle cx="1480.4" cy="1184" r="10" fill="#6E709B" stroke="#000" stroke-width="0.8"/>
<path d="M1480.4,1195.6L1494,1218.4H1466.8Z" fill="#4DD0E1" stroke="#000" stroke-width="0.8"/>
<text x="1505.3" y="1189.6" font-size="20.5" fill="#000" text-anchor="start" font-weight="normal" font-family="'Liberation Sans', sans-serif">Preterm</text>
<text x="1505.3" y="1218.8" font-size="20.5" fill="#000" text-anchor="start" font-weight="normal" font-family="'Liberation Sans', sans-serif">Term</text>
</g>
</svg>
</body></html>
